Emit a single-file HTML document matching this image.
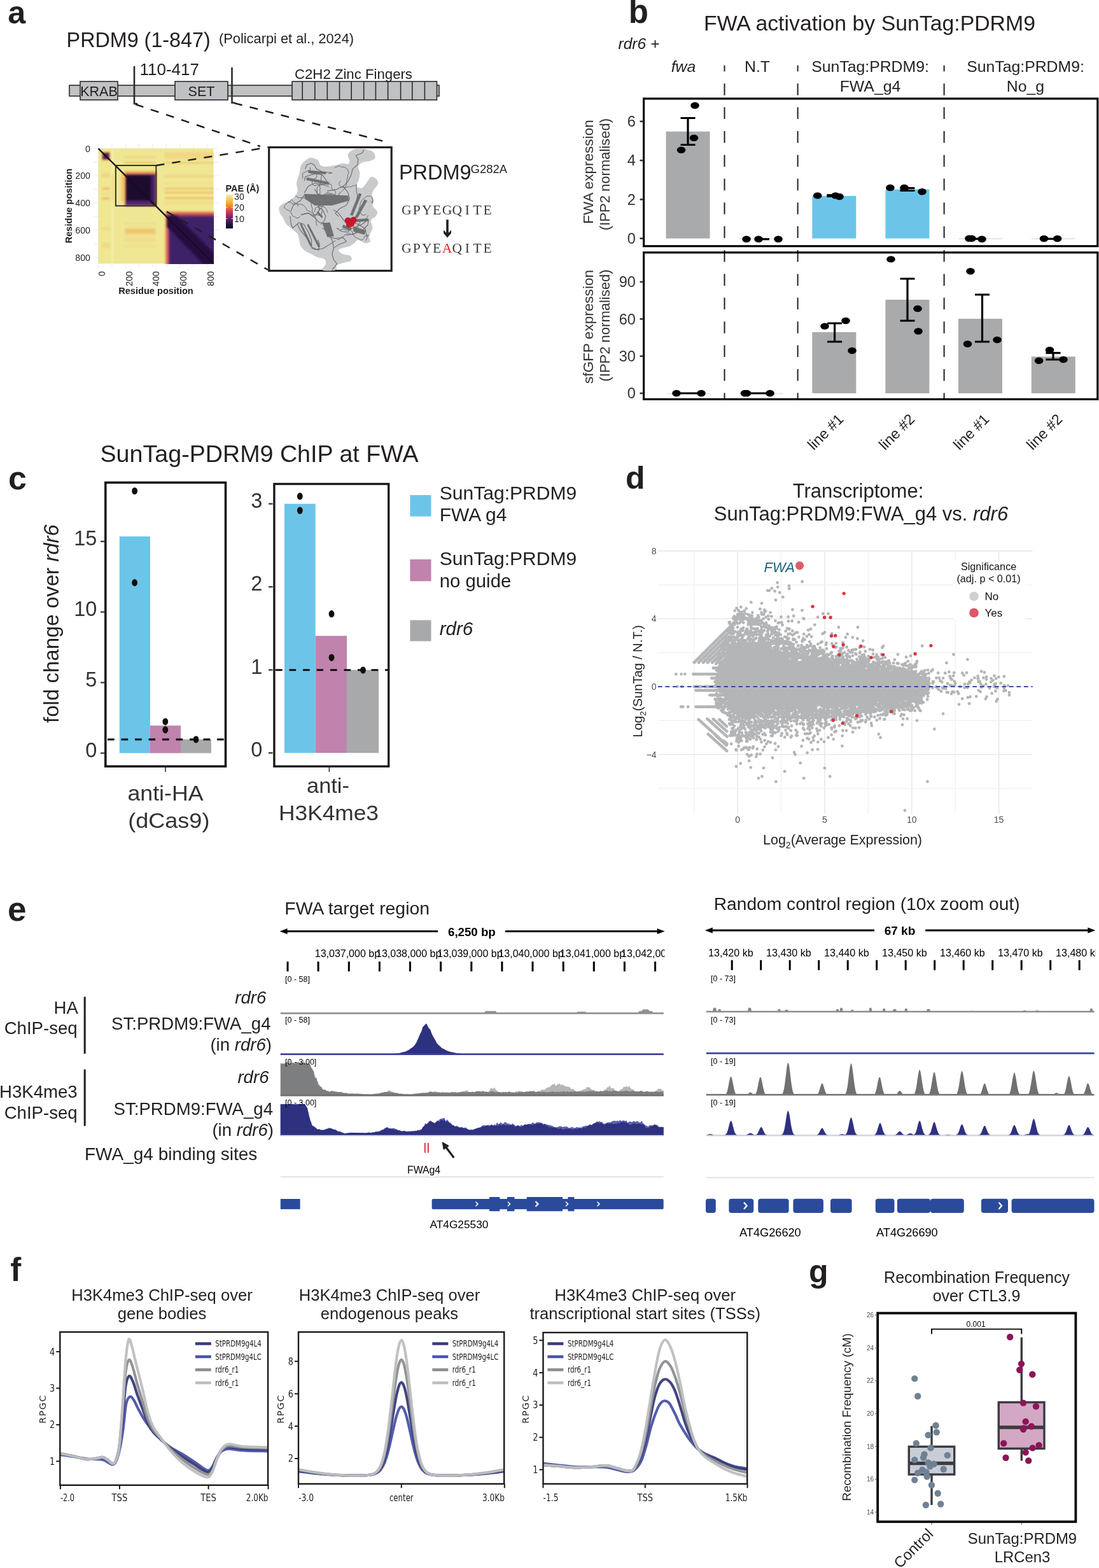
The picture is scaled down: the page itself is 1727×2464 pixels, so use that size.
<!DOCTYPE html>
<html><head><meta charset="utf-8"><title>Figure</title>
<style>
html,body{margin:0;padding:0;background:#fff;}
body{width:1727px;height:2464px;overflow:hidden;}
svg{display:block;font-family:"Liberation Sans",Arial,Helvetica,sans-serif;}
</style></head><body>
<svg width="1727" height="2464" viewBox="0 0 1727 2464">
<rect width="1727" height="2464" fill="#fff"/>
<g fill="#231f20">
<text x="12.3" y="36.8" font-size="50.3" font-weight="bold">a</text>
<text x="987.8" y="36.4" font-size="51" font-weight="bold">b</text>
<text x="13.0" y="768.5" font-size="52" font-weight="bold">c</text>
<text x="983.0" y="768.4" font-size="50" font-weight="bold">d</text>
<text x="12.0" y="1446.5" font-size="53" font-weight="bold">e</text>
<text x="16.2" y="2013.0" font-size="51" font-weight="bold">f</text>
<text x="1271.0" y="2014.5" font-size="50" font-weight="bold">g</text>
<text x="104.6" y="73.6" font-size="32.3">PRDM9 (1-847)</text>
<text x="344.0" y="68.4" font-size="21.8">(Policarpi et al., 2024)</text>
<rect x="109" y="134" width="581" height="17" fill="#bfc1c3" stroke="#2b2b2b" stroke-width="1.6"/>
<rect x="126" y="128" width="59" height="29" fill="#bfc1c3" stroke="#2b2b2b" stroke-width="1.6"/>
<rect x="275" y="128" width="83" height="29" fill="#bfc1c3" stroke="#2b2b2b" stroke-width="1.6"/>
<rect x="459" y="128" width="227.5" height="29" fill="#bfc1c3" stroke="#2b2b2b" stroke-width="1.6"/>
<line x1="475.2" y1="128.0" x2="475.2" y2="157.0" stroke="#2b2b2b" stroke-width="1.6" />
<line x1="494.8" y1="128.0" x2="494.8" y2="157.0" stroke="#2b2b2b" stroke-width="1.6" />
<line x1="514.3" y1="128.0" x2="514.3" y2="157.0" stroke="#2b2b2b" stroke-width="1.6" />
<line x1="533.5" y1="128.0" x2="533.5" y2="157.0" stroke="#2b2b2b" stroke-width="1.6" />
<line x1="552.2" y1="128.0" x2="552.2" y2="157.0" stroke="#2b2b2b" stroke-width="1.6" />
<line x1="571.7" y1="128.0" x2="571.7" y2="157.0" stroke="#2b2b2b" stroke-width="1.6" />
<line x1="590.4" y1="128.0" x2="590.4" y2="157.0" stroke="#2b2b2b" stroke-width="1.6" />
<line x1="609.6" y1="128.0" x2="609.6" y2="157.0" stroke="#2b2b2b" stroke-width="1.6" />
<line x1="629.6" y1="128.0" x2="629.6" y2="157.0" stroke="#2b2b2b" stroke-width="1.6" />
<line x1="647.8" y1="128.0" x2="647.8" y2="157.0" stroke="#2b2b2b" stroke-width="1.6" />
<line x1="667.4" y1="128.0" x2="667.4" y2="157.0" stroke="#2b2b2b" stroke-width="1.6" />
<text x="155.5" y="150.5" font-size="21.5" text-anchor="middle">KRAB</text>
<text x="316.5" y="150.5" font-size="21.5" text-anchor="middle">SET</text>
<text x="463.0" y="124.0" font-size="22.2">C2H2 Zinc Fingers</text>
<text x="219.5" y="117.5" font-size="26">110-417</text>
<path d="M211 104 V163 H216" fill="none" stroke="#2b2b2b" stroke-width="2.6"/>
<path d="M364.5 106 V161.5 H369" fill="none" stroke="#2b2b2b" stroke-width="2.6"/>
<line x1="154.5" y1="226.0" x2="154.5" y2="421.0" stroke="#ebebeb" stroke-width="1" />
<line x1="147.0" y1="233.3" x2="343.0" y2="233.3" stroke="#ebebeb" stroke-width="1" />
<line x1="175.9" y1="226.0" x2="175.9" y2="421.0" stroke="#ebebeb" stroke-width="1" />
<line x1="147.0" y1="254.7" x2="343.0" y2="254.7" stroke="#ebebeb" stroke-width="1" />
<line x1="197.2" y1="226.0" x2="197.2" y2="421.0" stroke="#ebebeb" stroke-width="1" />
<line x1="147.0" y1="276.0" x2="343.0" y2="276.0" stroke="#ebebeb" stroke-width="1" />
<line x1="218.6" y1="226.0" x2="218.6" y2="421.0" stroke="#ebebeb" stroke-width="1" />
<line x1="147.0" y1="297.4" x2="343.0" y2="297.4" stroke="#ebebeb" stroke-width="1" />
<line x1="240.0" y1="226.0" x2="240.0" y2="421.0" stroke="#ebebeb" stroke-width="1" />
<line x1="147.0" y1="318.8" x2="343.0" y2="318.8" stroke="#ebebeb" stroke-width="1" />
<line x1="261.3" y1="226.0" x2="261.3" y2="421.0" stroke="#ebebeb" stroke-width="1" />
<line x1="147.0" y1="340.1" x2="343.0" y2="340.1" stroke="#ebebeb" stroke-width="1" />
<line x1="282.7" y1="226.0" x2="282.7" y2="421.0" stroke="#ebebeb" stroke-width="1" />
<line x1="147.0" y1="361.5" x2="343.0" y2="361.5" stroke="#ebebeb" stroke-width="1" />
<line x1="304.1" y1="226.0" x2="304.1" y2="421.0" stroke="#ebebeb" stroke-width="1" />
<line x1="147.0" y1="382.9" x2="343.0" y2="382.9" stroke="#ebebeb" stroke-width="1" />
<line x1="325.5" y1="226.0" x2="325.5" y2="421.0" stroke="#ebebeb" stroke-width="1" />
<line x1="147.0" y1="404.3" x2="343.0" y2="404.3" stroke="#ebebeb" stroke-width="1" />
<g transform="translate(154.5,233.3) scale(0.21370)">
<defs><linearGradient id="pbL" x1="0" x2="1" y1="0" y2="0"><stop offset="0" stop-color="#f5a040"/><stop offset="0.45" stop-color="#d0506a"/><stop offset="1" stop-color="#3e2068"/></linearGradient><linearGradient id="pbT" x1="0" x2="0" y1="0" y2="0.1"><stop offset="0" stop-color="#f3b04a"/><stop offset="0.5" stop-color="#c84560"/><stop offset="1" stop-color="#3e2068"/></linearGradient><linearGradient id="diagG" x1="0" x2="1" y1="0" y2="1" gradientUnits="objectBoundingBox"><stop offset="0" stop-color="#000"/></linearGradient><filter id="hb" x="-5%" y="-5%" width="110%" height="110%"><feGaussianBlur stdDeviation="7"/></filter></defs>
<rect x="0" y="0" width="847" height="847" fill="#efe794"/>
<rect x="95" y="0" width="20" height="847" fill="#f2eca3"/>
<clipPath id="hmc"><rect x="0" y="0" width="847" height="847"/></clipPath><g clip-path="url(#hmc)"><g filter="url(#hb)">
<rect x="490" y="25" width="420" height="50" fill="#f3cc7a" opacity="0.6"/>
<rect x="490" y="101" width="420" height="7" fill="#f2a84a" opacity="0.8"/>
<rect x="490" y="196" width="420" height="17" fill="#f3cc7a" opacity="0.75"/>
<rect x="490" y="251" width="420" height="11" fill="#f3cc7a" opacity="0.5"/>
<rect x="490" y="290" width="420" height="11" fill="#f2a84a" opacity="0.6"/>
<rect x="490" y="320" width="420" height="12" fill="#f2a84a" opacity="0.7"/>
<rect x="490" y="357" width="420" height="13" fill="#f2a84a" opacity="0.75"/>
<rect x="490" y="390" width="420" height="20" fill="#f3cc7a" opacity="0.45"/>
<rect x="190" y="55" width="232" height="15" fill="#f3cc7a" opacity="0.6"/>
<rect x="190" y="101" width="232" height="8" fill="#f2a84a" opacity="0.85"/>
<rect x="29" y="175" width="53" height="13" fill="#f3cc7a" opacity="0.6"/>
<rect x="29" y="195" width="53" height="10" fill="#f2a84a" opacity="0.6"/>
<rect x="29" y="290" width="53" height="12" fill="#f2a84a" opacity="0.8"/>
<rect x="29" y="330" width="53" height="8" fill="#f3cc7a" opacity="0.6"/>
<rect x="29" y="362" width="53" height="12" fill="#f2a84a" opacity="0.85"/>
<rect x="29" y="580" width="53" height="20" fill="#f3cc7a" opacity="0.5"/>
<rect x="29" y="695" width="53" height="35" fill="#f3cc7a" opacity="0.55"/>
<rect x="102" y="190" width="12" height="200" fill="#f3cc7a" opacity="0.7"/>
<rect x="168" y="185" width="26" height="205" fill="#f2a84a" opacity="0.55"/>
<rect x="195" y="545" width="225" height="10" fill="#f3cc7a" opacity="0.5"/>
<rect x="195" y="590" width="225" height="35" fill="#f2a84a" opacity="0.55"/>
<rect x="195" y="628" width="225" height="12" fill="#f3cc7a" opacity="0.6"/>
<rect x="195" y="660" width="225" height="25" fill="#f3cc7a" opacity="0.45"/>
<rect x="195" y="713" width="225" height="11" fill="#f3cc7a" opacity="0.4"/>
<rect x="26" y="26" width="60" height="60" fill="#f08c3c"/>
<rect x="32" y="32" width="48" height="48" fill="#3c1b5c"/>
<rect x="192" y="168" width="236" height="257" fill="#f3a040"/>
<rect x="198" y="185" width="226" height="236" fill="#7a2a70"/>
<rect x="200" y="195" width="190" height="190" fill="#1a0b2e"/>
<rect x="390" y="198" width="30" height="220" fill="#45206a"/>
<rect x="200" y="385" width="220" height="35" fill="#55236e"/>
<rect x="395" y="395" width="22" height="22" fill="#14081f"/>
<rect x="495" y="462" width="420" height="450" fill="url(#pbT)"/>
<rect x="492" y="495" width="45" height="420" fill="url(#pbL)"/>
<rect x="520" y="505" width="400" height="400" fill="#3e2068"/>
</g></g>
<path d="M505 495 L575 495 L900 820 L900 900 L820 900 L505 575 Z" fill="#26113f" filter="url(#hb)" clip-path="url(#hmc)"/>
<path d="M0 0 L847 847" stroke="#1a0b22" stroke-width="11"/>
<rect x="128" y="125" width="297" height="297" fill="none" stroke="#2b2b2b" stroke-width="9"/>
</g>
<text x="142.0" y="238.5" font-size="14.2" text-anchor="end">0</text>
<text x="0" y="0" font-size="14.2" text-anchor="end" transform="translate(164.8,426) rotate(-90)">0</text>
<text x="142.0" y="281.2" font-size="14.2" text-anchor="end">200</text>
<text x="0" y="0" font-size="14.2" text-anchor="end" transform="translate(207.5,426) rotate(-90)">200</text>
<text x="142.0" y="324.0" font-size="14.2" text-anchor="end">400</text>
<text x="0" y="0" font-size="14.2" text-anchor="end" transform="translate(250.3,426) rotate(-90)">400</text>
<text x="142.0" y="366.7" font-size="14.2" text-anchor="end">600</text>
<text x="0" y="0" font-size="14.2" text-anchor="end" transform="translate(293.0,426) rotate(-90)">600</text>
<text x="142.0" y="409.5" font-size="14.2" text-anchor="end">800</text>
<text x="0" y="0" font-size="14.2" text-anchor="end" transform="translate(335.8,426) rotate(-90)">800</text>
<text x="0" y="0" font-size="14.6" font-weight="bold" text-anchor="middle" transform="translate(112.5,323.5) rotate(-90)">Residue position</text>
<text x="245.0" y="462.0" font-size="14.6" text-anchor="middle" font-weight="bold">Residue position</text>
<defs><linearGradient id="inf" x1="0" x2="0" y1="0" y2="1"><stop offset="0" stop-color="#f6e89a"/><stop offset="0.15" stop-color="#f7c75a"/><stop offset="0.32" stop-color="#f58a2a"/><stop offset="0.5" stop-color="#c93f58"/><stop offset="0.68" stop-color="#7a1f6e"/><stop offset="0.85" stop-color="#2f1553"/><stop offset="1" stop-color="#07030f"/></linearGradient></defs>
<rect x="355.0" y="306.0" width="11.0" height="53.0" fill="url(#inf)" />
<line x1="355.0" y1="309.0" x2="357.5" y2="309.0" stroke="#fff" stroke-width="0.8" />
<line x1="363.5" y1="309.0" x2="366.0" y2="309.0" stroke="#fff" stroke-width="0.8" />
<line x1="355.0" y1="326.0" x2="357.5" y2="326.0" stroke="#fff" stroke-width="0.8" />
<line x1="363.5" y1="326.0" x2="366.0" y2="326.0" stroke="#fff" stroke-width="0.8" />
<line x1="355.0" y1="343.5" x2="357.5" y2="343.5" stroke="#fff" stroke-width="0.8" />
<line x1="363.5" y1="343.5" x2="366.0" y2="343.5" stroke="#fff" stroke-width="0.8" />
<text x="354.5" y="301.0" font-size="14.5" font-weight="bold">PAE (Å)</text>
<text x="368.0" y="314.0" font-size="14.2">30</text>
<text x="368.0" y="331.0" font-size="14.2">20</text>
<text x="368.0" y="348.5" font-size="14.2">10</text>
<rect x="422.7" y="231.5" width="192.5" height="194" fill="none" stroke="#231f20" stroke-width="3.2"/>
<path d="M438.6 326.2 C439.5 323.7 442.0 321.8 444.9 320.0 C447.8 318.1 452.3 317.9 456.0 315.0 C459.8 312.1 465.6 307.1 467.2 302.6 C468.9 298.0 465.6 292.2 466.0 287.7 C466.4 283.1 468.5 280.0 469.7 275.2 C471.0 270.5 471.4 263.2 473.4 259.1 C475.5 254.9 479.5 252.2 482.2 250.4 C484.8 248.5 486.7 247.7 489.6 247.9 C492.5 248.1 497.1 249.5 499.6 251.6 C502.0 253.7 501.8 258.7 504.5 260.3 C507.2 262.0 511.6 261.8 515.7 261.6 C519.9 261.4 525.4 259.9 529.4 259.1 C533.3 258.2 536.4 256.8 539.3 256.6 C542.2 256.4 545.1 258.5 546.8 257.8 C548.4 257.2 549.3 255.3 549.3 252.9 C549.3 250.4 546.0 245.8 546.8 242.9 C547.6 240.0 550.9 237.0 554.2 235.5 C557.6 233.9 562.5 233.6 566.7 233.6 C570.8 233.6 575.6 234.3 579.1 235.5 C582.6 236.6 586.1 238.2 587.8 240.4 C589.5 242.7 590.1 247.1 589.0 249.1 C588.0 251.2 584.9 251.8 581.6 252.9 C578.3 253.9 572.3 253.9 569.2 255.3 C566.1 256.8 563.6 258.9 562.9 261.6 C562.3 264.3 565.2 268.2 565.4 271.5 C565.6 274.8 565.0 277.9 564.2 281.4 C563.4 285.0 559.6 290.4 560.5 292.6 C561.3 294.9 566.1 296.8 569.2 295.1 C572.3 293.5 576.6 285.6 579.1 282.7 C581.6 279.8 582.0 277.9 584.1 277.7 C586.1 277.5 589.9 279.6 591.5 281.4 C593.2 283.3 594.6 286.2 594.0 288.9 C593.4 291.6 589.5 294.5 587.8 297.6 C586.1 300.7 584.1 304.7 584.1 307.6 C584.1 310.5 587.6 312.5 587.8 315.0 C588.0 317.5 584.5 319.6 585.3 322.5 C586.1 325.4 591.9 329.5 592.8 332.4 C593.6 335.3 591.9 337.6 590.3 339.9 C588.6 342.1 583.7 343.0 582.8 346.1 C582.0 349.2 585.7 354.4 585.3 358.5 C584.9 362.7 581.0 367.4 580.3 370.9 C579.7 374.5 582.6 377.8 581.6 379.6 C580.6 381.5 577.2 382.5 574.1 382.1 C571.0 381.7 565.8 377.2 562.9 377.2 C560.0 377.2 559.0 380.5 556.7 382.1 C554.5 383.8 552.2 385.9 549.3 387.1 C546.4 388.3 542.2 388.6 539.3 389.6 C536.4 390.6 531.9 391.7 531.9 393.3 C531.9 395.0 536.2 398.1 539.3 399.5 C542.4 401.0 548.4 400.4 550.5 402.0 C552.6 403.7 553.6 407.6 551.8 409.5 C549.9 411.3 543.1 412.0 539.3 413.2 C535.6 414.5 531.5 415.1 529.4 416.9 C527.3 418.8 530.6 423.2 526.9 424.4 C523.2 425.6 509.5 426.1 507.0 424.4 C504.5 422.7 511.6 417.4 512.0 414.5 C512.4 411.6 511.6 408.7 509.5 407.0 C507.4 405.3 502.9 405.8 499.6 404.5 C496.2 403.3 493.1 401.4 489.6 399.5 C486.1 397.7 481.3 395.6 478.4 393.3 C475.5 391.0 473.7 389.0 472.2 385.9 C470.8 382.8 470.5 377.8 469.7 374.7 C468.9 371.6 469.3 369.9 467.2 367.2 C465.2 364.5 460.2 361.0 457.3 358.5 C454.4 356.0 451.9 355.0 449.8 352.3 C447.8 349.6 446.5 345.3 444.9 342.4 C443.2 339.5 440.9 337.6 439.9 334.9 C438.9 332.2 437.8 328.7 438.6 326.2Z" fill="#c9cacb"/>
<polyline points="479.7,265.3 482.2,259.1 489.6,256.6 494.6,260.3 497.1,265.3 507.0,270.3 521.9,271.5 517.0,272.7" fill="none" stroke="#6a6b6d" stroke-linecap="round" stroke-linejoin="round" stroke-width="1.1"/>
<polyline points="478.4,283.9 479.7,277.7 487.1,275.2 497.1,272.7 507.0,275.2 514.5,286.4 509.5,290.2 494.6,287.7 484.6,292.6 478.4,302.6" fill="none" stroke="#6a6b6d" stroke-linecap="round" stroke-linejoin="round" stroke-width="1.1"/>
<polyline points="457.3,331.2 461.0,322.5 472.2,315.0 477.2,307.6 489.6,312.5 499.6,317.5 502.0,329.9 494.6,339.9 484.6,334.9 473.4,337.4" fill="none" stroke="#6a6b6d" stroke-linecap="round" stroke-linejoin="round" stroke-width="1.1"/>
<polyline points="456.0,339.9 457.3,352.3 459.8,358.5 469.7,349.8 477.2,352.3 484.6,364.7 489.6,377.2 489.6,388.3 500.8,393.3 502.0,383.4 499.6,377.2" fill="none" stroke="#6a6b6d" stroke-linecap="round" stroke-linejoin="round" stroke-width="1.1"/>
<polyline points="473.4,337.4 484.6,334.9 494.6,342.4 502.0,349.8 512.0,351.1 519.4,359.8 514.5,370.9 525.7,374.7 539.3,373.4 544.3,379.6 531.9,384.6 524.4,389.6" fill="none" stroke="#6a6b6d" stroke-linecap="round" stroke-linejoin="round" stroke-width="1.1"/>
<polyline points="524.4,329.9 531.9,334.9 539.3,344.8 551.8,359.8 569.2,352.3 579.1,344.8 577.9,353.5 569.2,362.2 556.7,367.2 544.3,369.7" fill="none" stroke="#6a6b6d" stroke-linecap="round" stroke-linejoin="round" stroke-width="1.1"/>
<polyline points="539.3,292.6 546.8,285.2 551.8,275.2 554.2,265.3 561.7,259.1 562.9,250.4 559.2,244.2 569.2,240.4 571.6,235.5" fill="none" stroke="#6a6b6d" stroke-linecap="round" stroke-linejoin="round" stroke-width="1.1"/>
<polyline points="507.0,358.5 514.5,364.7 521.9,377.2 524.4,389.6 521.9,399.5 524.4,408.2 529.4,414.5 521.9,424.4" fill="none" stroke="#6a6b6d" stroke-linecap="round" stroke-linejoin="round" stroke-width="1.1"/>
<polyline points="514.5,300.1 529.4,297.6 539.3,292.6 546.8,302.6 549.3,312.5 544.3,322.5 534.4,327.4 526.9,334.9 531.9,339.9" fill="none" stroke="#6a6b6d" stroke-linecap="round" stroke-linejoin="round" stroke-width="1.1"/>
<polyline points="467.2,352.3 472.2,362.2 479.7,370.9 484.6,377.2" fill="none" stroke="#6a6b6d" stroke-linecap="round" stroke-linejoin="round" stroke-width="1.1"/>
<polyline points="494.6,297.6 499.6,305.1 507.0,307.6 514.5,302.6 521.9,305.1" fill="none" stroke="#6a6b6d" stroke-linecap="round" stroke-linejoin="round" stroke-width="1.1"/>
<polyline points="489.6,389.6 494.6,392.1 507.0,390.8 517.0,384.6 526.9,378.4" fill="none" stroke="#6a6b6d" stroke-linecap="round" stroke-linejoin="round" stroke-width="1.1"/>
<polyline points="544.3,352.3 554.2,349.8 562.9,352.3 574.1,359.8 576.6,372.2" fill="none" stroke="#6a6b6d" stroke-linecap="round" stroke-linejoin="round" stroke-width="1.1"/>
<polyline points="529.4,358.5 536.8,363.5 546.8,364.7 551.8,357.3" fill="none" stroke="#6a6b6d" stroke-linecap="round" stroke-linejoin="round" stroke-width="1.1"/>
<polyline points="499.6,325.0 507.0,329.9 512.0,339.9 509.5,347.3 504.5,352.3" fill="none" stroke="#6a6b6d" stroke-linecap="round" stroke-linejoin="round" stroke-width="1.1"/>
<polyline points="534.7,361.6 537.6,360.1 540.8,359.9 543.2,361.9 546.4,361.5 549.5,360.8 552.2,362.6 554.3,365.0 554.2,368.2 556.3,370.7 558.5,373.0 561.4,374.2 564.3,375.6 567.0,377.3 570.1,376.4 572.3,374.1 573.4,371.1 576.3,369.7 579.5,369.8 577.0,371.8 576.3,374.9 575.0,377.8" fill="none" stroke="#6a6b6d" stroke-linecap="round" stroke-linejoin="round" stroke-width="1"/>
<polyline points="475.2,280.2 476.0,277.1 475.1,274.0 476.9,271.4 479.9,270.4 482.4,268.4 485.6,268.8 488.7,269.5 491.4,271.1 494.6,271.1 496.9,273.4 498.2,276.3 496.9,279.3 494.1,280.7 491.9,283.0 490.3,285.8 490.6,289.0 492.8,291.4 496.0,291.5 499.0,290.6 502.2,290.2 503.9,287.5 506.4,285.5" fill="none" stroke="#6a6b6d" stroke-linecap="round" stroke-linejoin="round" stroke-width="1"/>
<polyline points="500.5,314.1 501.8,311.1 502.0,307.9 502.1,304.7 503.3,301.8 502.0,298.8 503.4,296.0 502.2,293.0 502.3,289.8 504.3,287.3 503.7,284.2 504.7,281.1 504.9,278.0 505.6,274.8 503.6,272.3 500.4,272.0 497.6,273.5 494.6,272.5 491.4,273.2 488.3,272.4 486.7,269.7 487.4,266.5 487.3,263.3" fill="none" stroke="#6a6b6d" stroke-linecap="round" stroke-linejoin="round" stroke-width="1"/>
<polyline points="502.6,337.7 500.9,335.0 500.6,331.8 501.9,328.9 504.8,327.4 505.6,324.3 508.3,322.7 509.3,319.7 509.4,316.5 510.1,313.3 512.8,311.6 514.8,309.1 518.0,308.7 521.2,308.6 524.2,307.5 526.6,305.4 527.6,302.3 526.1,299.5 523.2,298.0 521.0,295.7 521.5,292.5 520.0,289.7 516.9,288.8" fill="none" stroke="#6a6b6d" stroke-linecap="round" stroke-linejoin="round" stroke-width="1"/>
<polyline points="578.4,338.7 576.9,341.5 574.9,344.0 571.8,345.0 568.8,346.2 566.1,347.8 565.3,350.9 562.6,352.7 562.2,355.8 561.7,359.0 559.6,361.3 559.3,364.5 557.8,367.3 554.7,368.2 551.5,368.3 548.6,366.7 545.5,367.4 542.5,368.5 540.7,371.1 537.7,372.2 535.3,374.3 533.0,376.6 529.8,376.3" fill="none" stroke="#6a6b6d" stroke-linecap="round" stroke-linejoin="round" stroke-width="1"/>
<polyline points="514.4,333.7 513.9,330.5 512.2,327.8 510.1,325.4 507.0,324.7 503.8,324.7 501.7,322.3 502.2,319.1 503.3,316.1 504.4,313.1 504.6,309.9 502.6,307.4 499.8,305.9 498.1,303.2 498.3,300.0 497.8,296.9 498.9,293.9 501.3,291.8 504.3,290.6 507.5,290.3 510.5,291.5 513.6,292.0 516.4,293.6" fill="none" stroke="#6a6b6d" stroke-linecap="round" stroke-linejoin="round" stroke-width="1"/>
<polyline points="493.7,333.4 495.1,330.6 495.4,327.4 497.9,325.4 500.9,324.1 504.0,323.3 505.3,320.4 506.9,317.6 507.1,314.4 508.3,311.4 509.3,308.4 511.7,306.4 514.6,305.0 517.8,305.4 521.0,304.9 524.2,305.2 526.9,306.8 528.3,309.6 530.5,312.0 530.8,315.2 529.1,317.9 526.6,319.9 523.5,319.3" fill="none" stroke="#6a6b6d" stroke-linecap="round" stroke-linejoin="round" stroke-width="1"/>
<polyline points="574.8,337.0 571.9,338.3 568.7,337.7 566.9,335.0 565.0,332.5 564.1,329.4 564.4,326.2 566.0,323.4 565.8,320.3 567.1,317.4 568.9,314.7 571.3,312.6 573.5,310.2 576.1,308.4 579.2,308.0 582.4,308.4 585.2,310.0 585.2,313.2 585.6,316.4 585.1,319.5 583.2,317.0" fill="none" stroke="#6a6b6d" stroke-linecap="round" stroke-linejoin="round" stroke-width="1"/>
<polyline points="535.7,284.6 533.2,286.6 532.9,289.8 534.6,292.5 537.1,294.5 540.3,294.8 543.2,293.4 544.1,290.4 544.8,287.3 544.8,284.1 545.5,280.9 546.7,277.9 546.3,274.8 548.2,272.2 547.4,269.1 546.0,266.2 543.6,264.1 540.9,262.3 537.7,262.7 534.9,261.3 531.8,260.5 529.1,262.3 526.2,263.5" fill="none" stroke="#6a6b6d" stroke-linecap="round" stroke-linejoin="round" stroke-width="1"/>
<polyline points="471.4,340.0 469.3,342.4 466.1,342.5 463.3,340.9 460.4,339.7 458.5,337.1 457.4,334.1 455.6,331.5 452.6,330.4 449.8,328.9 447.1,327.0 446.7,323.9 448.8,321.4 451.3,319.5 453.2,316.9 456.4,316.2 457.7,313.3 460.0,315.6 461.7,318.3 464.7,319.4 467.4,321.1 468.3,324.2" fill="none" stroke="#6a6b6d" stroke-linecap="round" stroke-linejoin="round" stroke-width="1"/>
<polyline points="505.1,327.5 506.7,330.3 505.7,333.3 505.3,336.5 502.7,338.4 499.6,338.0 496.5,337.1 493.3,337.6 490.9,335.5 488.5,333.4 485.8,331.7 482.7,330.9 481.2,328.1 479.8,325.2 477.3,323.1 474.8,321.2 471.6,321.2 468.5,320.6 465.3,320.2 462.2,321.1 459.1,320.3 456.9,318.0 453.7,318.1" fill="none" stroke="#6a6b6d" stroke-linecap="round" stroke-linejoin="round" stroke-width="1"/>
<polyline points="523.9,310.1 527.1,310.4 530.1,309.3 532.4,307.1 532.9,303.9 535.7,302.3 537.7,299.8 540.1,297.8 542.5,295.6 545.3,294.1 548.4,293.2 551.6,293.6 554.3,292.0 557.5,291.7 560.4,290.4 559.6,293.5 559.9,296.7 560.1,299.9 560.5,303.0 561.6,306.0 561.4,309.2 560.6,312.3" fill="none" stroke="#6a6b6d" stroke-linecap="round" stroke-linejoin="round" stroke-width="1"/>
<polyline points="464.4,307.8 467.1,309.4 469.8,311.2 472.9,310.4 476.0,311.1 479.1,311.4 482.3,312.2 484.9,314.1 487.0,316.5 489.1,318.8 489.2,322.0 489.9,325.1 491.1,328.1 490.4,331.2 491.4,334.2 493.5,336.7 493.8,339.9 496.2,341.9 497.1,345.0 496.8,348.2 496.9,351.4 498.3,354.3" fill="none" stroke="#6a6b6d" stroke-linecap="round" stroke-linejoin="round" stroke-width="1"/>
<polygon points="484.6,267.8 512.0,270.3 512.0,273.4 484.6,271.5" fill="#707173" stroke="#636466" stroke-width="0.6" stroke-linejoin="round"/>
<polygon points="482.2,279.0 517.0,286.4 516.3,290.2 481.5,282.7" fill="#707173" stroke="#636466" stroke-width="0.6" stroke-linejoin="round"/>
<polygon points="478.4,305.1 546.8,307.6 548.0,315.0 521.9,322.5 494.6,322.5 479.7,312.5" fill="#707173" stroke="#636466" stroke-width="0.6" stroke-linejoin="round"/>
<polygon points="499.6,332.4 507.0,339.9 505.8,342.4 498.3,334.9" fill="#707173" stroke="#636466" stroke-width="0.6" stroke-linejoin="round"/>
<polygon points="550.5,337.4 564.2,303.8 567.9,305.1 554.2,338.6" fill="#707173" stroke="#636466" stroke-width="0.6" stroke-linejoin="round"/>
<polygon points="558.0,341.1 572.9,313.8 576.6,315.6 561.7,342.4" fill="#707173" stroke="#636466" stroke-width="0.6" stroke-linejoin="round"/>
<polygon points="473.4,351.1 490.2,385.9 487.7,387.1 471.6,352.3" fill="#707173" stroke="#636466" stroke-width="0.6" stroke-linejoin="round"/>
<polygon points="484.6,352.3 502.7,387.1 500.2,388.3 482.8,353.5" fill="#707173" stroke="#636466" stroke-width="0.6" stroke-linejoin="round"/>
<polygon points="507.0,351.1 518.2,349.8 524.4,370.9 514.5,372.2" fill="#707173" stroke="#636466" stroke-width="0.6" stroke-linejoin="round"/>
<polygon points="555.5,356.0 574.1,362.2 572.9,368.5 555.5,363.5" fill="#707173" stroke="#636466" stroke-width="0.6" stroke-linejoin="round"/>
<polygon points="560.5,344.8 577.9,343.6 577.9,347.3 560.5,348.6" fill="#707173" stroke="#636466" stroke-width="0.6" stroke-linejoin="round"/>
<polygon points="539.3,353.5 551.8,358.5 550.5,362.2 538.1,357.3" fill="#707173" stroke="#636466" stroke-width="0.6" stroke-linejoin="round"/>
<circle cx="546.8" cy="346.7" r="5.2" fill="#c4192c"/>
<circle cx="555.5" cy="345.8" r="5.2" fill="#c4192c"/>
<circle cx="551.8" cy="351.1" r="5.4" fill="#c4192c"/>
<circle cx="548.0" cy="353.5" r="4" fill="#c4192c"/>
<path d="M213 164 L409 230" stroke="#231f20" stroke-width="2.5" stroke-dasharray="13 12.3" fill="none"/>
<path d="M368 162 L601 221.5" stroke="#231f20" stroke-width="2.5" stroke-dasharray="13 12.3" fill="none"/>
<path d="M245.5 260 L421 231.5" stroke="#231f20" stroke-width="2.5" stroke-dasharray="13 12.3" fill="none"/>
<path d="M262 332.5 L421 424" stroke="#231f20" stroke-width="2.5" stroke-dasharray="13 12.3" fill="none"/>
<text x="626.9" y="281.5" font-size="32.5">PRDM9</text>
<text x="739.5" y="271.6" font-size="18.5">G282A</text>
<text x="638.9" y="336.5" font-size="21.6" text-anchor="middle" fill="#3a3a3a" font-family="&quot;Liberation Serif&quot;, serif">G</text>
<text x="654.8" y="336.5" font-size="21.6" text-anchor="middle" fill="#3a3a3a" font-family="&quot;Liberation Serif&quot;, serif">P</text>
<text x="670.7" y="336.5" font-size="21.6" text-anchor="middle" fill="#3a3a3a" font-family="&quot;Liberation Serif&quot;, serif">Y</text>
<text x="686.6" y="336.5" font-size="21.6" text-anchor="middle" fill="#3a3a3a" font-family="&quot;Liberation Serif&quot;, serif">E</text>
<text x="702.5" y="336.5" font-size="21.6" text-anchor="middle" fill="#3a3a3a" font-family="&quot;Liberation Serif&quot;, serif">G</text>
<text x="718.4" y="336.5" font-size="21.6" text-anchor="middle" fill="#3a3a3a" font-family="&quot;Liberation Serif&quot;, serif">Q</text>
<text x="734.3" y="336.5" font-size="21.6" text-anchor="middle" fill="#3a3a3a" font-family="&quot;Liberation Serif&quot;, serif">I</text>
<text x="750.2" y="336.5" font-size="21.6" text-anchor="middle" fill="#3a3a3a" font-family="&quot;Liberation Serif&quot;, serif">T</text>
<text x="766.1" y="336.5" font-size="21.6" text-anchor="middle" fill="#3a3a3a" font-family="&quot;Liberation Serif&quot;, serif">E</text>
<text x="638.9" y="396.5" font-size="21.6" text-anchor="middle" fill="#3a3a3a" font-family="&quot;Liberation Serif&quot;, serif">G</text>
<text x="654.8" y="396.5" font-size="21.6" text-anchor="middle" fill="#3a3a3a" font-family="&quot;Liberation Serif&quot;, serif">P</text>
<text x="670.7" y="396.5" font-size="21.6" text-anchor="middle" fill="#3a3a3a" font-family="&quot;Liberation Serif&quot;, serif">Y</text>
<text x="686.6" y="396.5" font-size="21.6" text-anchor="middle" fill="#3a3a3a" font-family="&quot;Liberation Serif&quot;, serif">E</text>
<text x="702.5" y="396.5" font-size="21.6" text-anchor="middle" fill="#e0202a" font-family="&quot;Liberation Serif&quot;, serif">A</text>
<text x="718.4" y="396.5" font-size="21.6" text-anchor="middle" fill="#3a3a3a" font-family="&quot;Liberation Serif&quot;, serif">Q</text>
<text x="734.3" y="396.5" font-size="21.6" text-anchor="middle" fill="#3a3a3a" font-family="&quot;Liberation Serif&quot;, serif">I</text>
<text x="750.2" y="396.5" font-size="21.6" text-anchor="middle" fill="#3a3a3a" font-family="&quot;Liberation Serif&quot;, serif">T</text>
<text x="766.1" y="396.5" font-size="21.6" text-anchor="middle" fill="#3a3a3a" font-family="&quot;Liberation Serif&quot;, serif">E</text>
<line x1="703.0" y1="345.2" x2="703.0" y2="370.0" stroke="#231f20" stroke-width="3.6" />
<path d="M697 361.5 L703 367.5 L709 361.5 L709 366.5 L703 373.6 L697 366.5 Z" fill="#231f20"/>
<text x="1366.5" y="47.5" font-size="33.8" text-anchor="middle">FWA activation by SunTag:PDRM9</text>
<text x="971.5" y="76.5" font-size="24.6" font-style="italic">rdr6 +</text>
<text x="1074.0" y="113.0" font-size="24.8" text-anchor="middle" font-style="italic">fwa</text>
<text x="1190.0" y="113.0" font-size="24.8" text-anchor="middle">N.T</text>
<text x="1367.5" y="113.0" font-size="24.8" text-anchor="middle">SunTag:PRDM9:</text>
<text x="1367.5" y="144.0" font-size="24.8" text-anchor="middle">FWA_g4</text>
<text x="1611.5" y="113.0" font-size="24.8" text-anchor="middle">SunTag:PRDM9:</text>
<text x="1611.5" y="144.0" font-size="24.8" text-anchor="middle">No_g</text>
<line x1="1138.5" y1="102.8" x2="1138.5" y2="627" stroke="#231f20" stroke-width="2" stroke-dasharray="18.5 18.9" stroke-dashoffset="9"/>
<line x1="1253.6" y1="102.8" x2="1253.6" y2="627" stroke="#231f20" stroke-width="2" stroke-dasharray="18.5 18.9" stroke-dashoffset="9"/>
<line x1="1483.6" y1="102.8" x2="1483.6" y2="627" stroke="#231f20" stroke-width="2" stroke-dasharray="18.5 18.9" stroke-dashoffset="9"/>
<rect x="1046.5" y="206.7" width="69.0" height="168.0" fill="#a8aaac" />
<line x1="1161.5" y1="375.2" x2="1230.5" y2="375.2" stroke="#d9d9d9" stroke-width="1.2" />
<rect x="1276.3" y="307.9" width="69.0" height="66.8" fill="#6cc5e9" />
<rect x="1391.4" y="297.5" width="69.0" height="77.2" fill="#6cc5e9" />
<line x1="1506.0" y1="375.2" x2="1575.0" y2="375.2" stroke="#d9d9d9" stroke-width="1.2" />
<line x1="1620.8" y1="375.2" x2="1689.8" y2="375.2" stroke="#d9d9d9" stroke-width="1.2" />
<path d="M1069.5 185.5 H1092.5 M1081.0 185.5 V227.5 M1069.5 227.5 H1092.5" stroke="#000" stroke-width="3.2" fill="none"/>
<path d="M1299.3 306.5 H1322.3 M1310.8 306.5 V308.5 M1299.3 308.5 H1322.3" stroke="#000" stroke-width="3.2" fill="none"/>
<path d="M1414.4 295.5 H1437.4 M1425.9 295.5 V299.5 M1414.4 299.5 H1437.4" stroke="#000" stroke-width="3.2" fill="none"/>
<path d="M1194 375.8 H1209" stroke="#000" stroke-width="3.2"/>
<path d="M1523 375.3 H1541" stroke="#000" stroke-width="3.2"/>
<path d="M1642 375.3 H1660" stroke="#000" stroke-width="3.2"/>
<ellipse cx="1092" cy="165.8" rx="6.8" ry="5.2" fill="#000"/>
<ellipse cx="1090.5" cy="216.8" rx="6.8" ry="5.2" fill="#000"/>
<ellipse cx="1070.5" cy="235.8" rx="6.8" ry="5.2" fill="#000"/>
<ellipse cx="1173" cy="375.8" rx="6.8" ry="5.2" fill="#000"/>
<ellipse cx="1192" cy="375.8" rx="6.8" ry="5.2" fill="#000"/>
<ellipse cx="1223" cy="375.8" rx="6.8" ry="5.2" fill="#000"/>
<ellipse cx="1284.7" cy="307.4" rx="6.8" ry="5.2" fill="#000"/>
<ellipse cx="1312.9" cy="307.4" rx="6.8" ry="5.2" fill="#000"/>
<ellipse cx="1319.1" cy="309" rx="6.8" ry="5.2" fill="#000"/>
<ellipse cx="1398.9" cy="295" rx="6.8" ry="5.2" fill="#000"/>
<ellipse cx="1421" cy="295" rx="6.8" ry="5.2" fill="#000"/>
<ellipse cx="1449" cy="301.2" rx="6.8" ry="5.2" fill="#000"/>
<ellipse cx="1523" cy="374.7" rx="6.8" ry="5.2" fill="#000"/>
<ellipse cx="1527" cy="374.7" rx="6.8" ry="5.2" fill="#000"/>
<ellipse cx="1543" cy="375.8" rx="6.8" ry="5.2" fill="#000"/>
<ellipse cx="1640.5" cy="375" rx="6.8" ry="5.2" fill="#000"/>
<ellipse cx="1661.6" cy="375" rx="6.8" ry="5.2" fill="#000"/>
<rect x="1011.6" y="155" width="713.2" height="231.8" fill="none" stroke="#000" stroke-width="3.2"/>
<line x1="1005.5" y1="374.7" x2="1011.0" y2="374.7" stroke="#333" stroke-width="2.6" />
<text x="998.8" y="383.0" font-size="23.5" text-anchor="end" fill="#333">0</text>
<line x1="1005.5" y1="313.4" x2="1011.0" y2="313.4" stroke="#333" stroke-width="2.6" />
<text x="998.8" y="321.7" font-size="23.5" text-anchor="end" fill="#333">2</text>
<line x1="1005.5" y1="252.1" x2="1011.0" y2="252.1" stroke="#333" stroke-width="2.6" />
<text x="998.8" y="260.4" font-size="23.5" text-anchor="end" fill="#333">4</text>
<line x1="1005.5" y1="190.8" x2="1011.0" y2="190.8" stroke="#333" stroke-width="2.6" />
<text x="998.8" y="199.1" font-size="23.5" text-anchor="end" fill="#333">6</text>
<text x="0" y="0" font-size="22.6" text-anchor="middle" fill="#333" transform="translate(931.5,270) rotate(-90)">FWA expression</text>
<text x="0" y="0" font-size="22" text-anchor="middle" fill="#333" transform="translate(957.5,274) rotate(-90)">(IPP2 normalised)</text>
<line x1="1046.5" y1="618.5" x2="1115.5" y2="618.5" stroke="#d9d9d9" stroke-width="1.2" />
<line x1="1161.5" y1="618.5" x2="1230.5" y2="618.5" stroke="#d9d9d9" stroke-width="1.2" />
<rect x="1276.3" y="521.9" width="69.0" height="96.1" fill="#a8aaac" />
<rect x="1391.4" y="471.0" width="69.0" height="147.0" fill="#a8aaac" />
<rect x="1506.0" y="500.9" width="69.0" height="117.1" fill="#a8aaac" />
<rect x="1620.8" y="560.4" width="69.0" height="57.6" fill="#a8aaac" />
<path d="M1300.1 508.0 H1323.1 M1311.6 508.0 V537.0 M1300.1 537.0 H1323.1" stroke="#000" stroke-width="3.2" fill="none"/>
<path d="M1414.5 438.0 H1437.5 M1426.0 438.0 V504.0 M1414.5 504.0 H1437.5" stroke="#000" stroke-width="3.2" fill="none"/>
<path d="M1532.0 463.0 H1555.0 M1543.5 463.0 V537.0 M1532.0 537.0 H1555.0" stroke="#000" stroke-width="3.2" fill="none"/>
<path d="M1643.5 554.7 H1666.5 M1655.0 554.7 V565.0 M1643.5 565.0 H1666.5" stroke="#000" stroke-width="3.2" fill="none"/>
<path d="M1063 618 H1102" stroke="#000" stroke-width="3.2"/>
<path d="M1170.5 618 H1210" stroke="#000" stroke-width="3.2"/>
<ellipse cx="1063" cy="618" rx="6.8" ry="5.2" fill="#000"/>
<ellipse cx="1102" cy="618" rx="6.8" ry="5.2" fill="#000"/>
<ellipse cx="1170.5" cy="618" rx="6.8" ry="5.2" fill="#000"/>
<ellipse cx="1173.5" cy="618" rx="6.8" ry="5.2" fill="#000"/>
<ellipse cx="1210" cy="618" rx="6.8" ry="5.2" fill="#000"/>
<ellipse cx="1296" cy="512.6" rx="6.8" ry="5.2" fill="#000"/>
<ellipse cx="1329" cy="504" rx="6.8" ry="5.2" fill="#000"/>
<ellipse cx="1339" cy="551" rx="6.8" ry="5.2" fill="#000"/>
<ellipse cx="1400" cy="407.4" rx="6.8" ry="5.2" fill="#000"/>
<ellipse cx="1442" cy="485" rx="6.8" ry="5.2" fill="#000"/>
<ellipse cx="1443" cy="520.5" rx="6.8" ry="5.2" fill="#000"/>
<ellipse cx="1525" cy="426.3" rx="6.8" ry="5.2" fill="#000"/>
<ellipse cx="1520.5" cy="540.5" rx="6.8" ry="5.2" fill="#000"/>
<ellipse cx="1567" cy="534" rx="6.8" ry="5.2" fill="#000"/>
<ellipse cx="1649.5" cy="550" rx="6.8" ry="5.2" fill="#000"/>
<ellipse cx="1632.6" cy="566.8" rx="6.8" ry="5.2" fill="#000"/>
<ellipse cx="1671" cy="565" rx="6.8" ry="5.2" fill="#000"/>
<rect x="1011.6" y="396.8" width="713.2" height="230.6" fill="none" stroke="#000" stroke-width="3.2"/>
<line x1="1005.5" y1="618.0" x2="1011.0" y2="618.0" stroke="#333" stroke-width="2.6" />
<text x="998.8" y="626.3" font-size="23.5" text-anchor="end" fill="#333">0</text>
<line x1="1005.5" y1="559.7" x2="1011.0" y2="559.7" stroke="#333" stroke-width="2.6" />
<text x="998.8" y="568.0" font-size="23.5" text-anchor="end" fill="#333">30</text>
<line x1="1005.5" y1="501.3" x2="1011.0" y2="501.3" stroke="#333" stroke-width="2.6" />
<text x="998.8" y="509.6" font-size="23.5" text-anchor="end" fill="#333">60</text>
<line x1="1005.5" y1="443.0" x2="1011.0" y2="443.0" stroke="#333" stroke-width="2.6" />
<text x="998.8" y="451.3" font-size="23.5" text-anchor="end" fill="#333">90</text>
<text x="0" y="0" font-size="22.6" text-anchor="middle" fill="#333" transform="translate(931.5,513.5) rotate(-90)">sfGFP expression</text>
<text x="0" y="0" font-size="22" text-anchor="middle" fill="#333" transform="translate(957.5,511.5) rotate(-90)">(IPP2 normalised)</text>
<text x="0" y="0" font-size="23.2" text-anchor="end" fill="#231f20" transform="translate(1327,660) rotate(-45)">line #1</text>
<text x="0" y="0" font-size="23.2" text-anchor="end" fill="#231f20" transform="translate(1439,660) rotate(-45)">line #2</text>
<text x="0" y="0" font-size="23.2" text-anchor="end" fill="#231f20" transform="translate(1556,660) rotate(-45)">line #1</text>
<text x="0" y="0" font-size="23.2" text-anchor="end" fill="#231f20" transform="translate(1671,660) rotate(-45)">line #2</text>
<text x="407.5" y="725.5" font-size="36.5" textLength="500" lengthAdjust="spacingAndGlyphs" text-anchor="middle">SunTag-PDRM9 ChIP at FWA</text>
<rect x="187.8" y="843.0" width="48.1" height="340.5" fill="#6cc5e9" />
<rect x="235.9" y="1140.2" width="48.1" height="43.3" fill="#c083ad" />
<rect x="284.0" y="1161.8" width="47.9" height="21.7" fill="#a7a9ab" />
<line x1="167" y1="1162" x2="354" y2="1162" stroke="#000" stroke-width="2.8" stroke-dasharray="10.7 10.8" stroke-dashoffset="-2"/>
<ellipse cx="211.6" cy="771.5" rx="4.4" ry="5.6" fill="#120d05"/>
<ellipse cx="211.6" cy="915.6" rx="4.4" ry="5.6" fill="#120d05"/>
<ellipse cx="259.8" cy="1134" rx="4.4" ry="5.6" fill="#120d05"/>
<ellipse cx="259.8" cy="1146.8" rx="4.4" ry="5.6" fill="#120d05"/>
<ellipse cx="308" cy="1162" rx="4.4" ry="5.6" fill="#120d05"/>
<rect x="165.8" y="758.3" width="188.7" height="446" fill="none" stroke="#000" stroke-width="3.4"/>
<line x1="158.0" y1="1183.5" x2="164.5" y2="1183.5" stroke="#333" stroke-width="2.2" />
<text x="152.3" y="1189.7" font-size="32.5" text-anchor="end" fill="#333">0</text>
<line x1="158.0" y1="1072.6" x2="164.5" y2="1072.6" stroke="#333" stroke-width="2.2" />
<text x="152.3" y="1078.8" font-size="32.5" text-anchor="end" fill="#333">5</text>
<line x1="158.0" y1="961.7" x2="164.5" y2="961.7" stroke="#333" stroke-width="2.2" />
<text x="152.3" y="967.9" font-size="32.5" text-anchor="end" fill="#333">10</text>
<line x1="158.0" y1="850.8" x2="164.5" y2="850.8" stroke="#333" stroke-width="2.2" />
<text x="152.3" y="857.0" font-size="32.5" text-anchor="end" fill="#333">15</text>
<line x1="260.0" y1="1206.0" x2="260.0" y2="1213.0" stroke="#333" stroke-width="1.6" />
<text x="260.0" y="1257.5" font-size="33" textLength="119" lengthAdjust="spacingAndGlyphs" text-anchor="middle" fill="#333">anti-HA</text>
<text x="265.3" y="1300.5" font-size="33" textLength="128.2" lengthAdjust="spacingAndGlyphs" text-anchor="middle" fill="#333">(dCas9)</text>
<rect x="447.0" y="791.7" width="48.7" height="391.5" fill="#6cc5e9" />
<rect x="495.7" y="999.2" width="49.3" height="184.0" fill="#c083ad" />
<rect x="545.0" y="1052.7" width="50.2" height="130.5" fill="#a7a9ab" />
<line x1="431" y1="1052.8" x2="611" y2="1052.8" stroke="#000" stroke-width="2.8" stroke-dasharray="10.7 10.8" stroke-dashoffset="-2"/>
<ellipse cx="471.3" cy="779.8" rx="4.4" ry="5.6" fill="#120d05"/>
<ellipse cx="471.3" cy="802.2" rx="4.4" ry="5.6" fill="#120d05"/>
<ellipse cx="521" cy="964.7" rx="4.4" ry="5.6" fill="#120d05"/>
<ellipse cx="521" cy="1033.3" rx="4.4" ry="5.6" fill="#120d05"/>
<ellipse cx="570.5" cy="1053" rx="4.4" ry="5.6" fill="#120d05"/>
<rect x="430.9" y="760.5" width="179.8" height="443.8" fill="none" stroke="#1a1a1a" stroke-width="3.4"/>
<line x1="422.0" y1="1183.2" x2="428.5" y2="1183.2" stroke="#333" stroke-width="2.2" />
<text x="412.3" y="1189.4" font-size="32.5" text-anchor="end" fill="#333">0</text>
<line x1="422.0" y1="1052.7" x2="428.5" y2="1052.7" stroke="#333" stroke-width="2.2" />
<text x="412.3" y="1058.9" font-size="32.5" text-anchor="end" fill="#333">1</text>
<line x1="422.0" y1="922.2" x2="428.5" y2="922.2" stroke="#333" stroke-width="2.2" />
<text x="412.3" y="928.4" font-size="32.5" text-anchor="end" fill="#333">2</text>
<line x1="422.0" y1="791.7" x2="428.5" y2="791.7" stroke="#333" stroke-width="2.2" />
<text x="412.3" y="797.9" font-size="32.5" text-anchor="end" fill="#333">3</text>
<line x1="517.4" y1="1206.0" x2="517.4" y2="1213.0" stroke="#333" stroke-width="1.6" />
<text x="515.5" y="1246.0" font-size="33" textLength="67" lengthAdjust="spacingAndGlyphs" text-anchor="middle" fill="#333">anti-</text>
<text x="516.5" y="1289.0" font-size="33" textLength="157" lengthAdjust="spacingAndGlyphs" text-anchor="middle" fill="#333">H3K4me3</text>
<text x="0" y="0" font-size="33" text-anchor="middle" fill="#231f20" transform="translate(91.5,980) rotate(-90)">fold change over <tspan font-style="italic">rdr6</tspan></text>
<rect x="644.4" y="778.0" width="33.1" height="33.5" fill="#6cc5e9" />
<rect x="644.4" y="879.0" width="33.1" height="34.3" fill="#c083ad" />
<rect x="644.4" y="974.5" width="33.1" height="33.1" fill="#a7a9ab" />
<text x="690.7" y="784.6" font-size="28.7" textLength="215.6" lengthAdjust="spacingAndGlyphs">SunTag:PRDM9</text>
<text x="690.7" y="819.0" font-size="28.7" textLength="105.8" lengthAdjust="spacingAndGlyphs">FWA g4</text>
<text x="690.7" y="887.5" font-size="28.7" textLength="215.6" lengthAdjust="spacingAndGlyphs">SunTag:PRDM9</text>
<text x="690.7" y="923.3" font-size="28.7" textLength="112.6" lengthAdjust="spacingAndGlyphs">no guide</text>
<text x="690.7" y="997.6" font-size="28.7" textLength="52.6" lengthAdjust="spacingAndGlyphs" font-style="italic">rdr6</text>
<text x="1348.5" y="782.0" font-size="31" text-anchor="middle">Transcriptome:</text>
<text x="1353.0" y="818.2" font-size="31" text-anchor="middle">SunTag:PRDM9:FWA_g4 vs. <tspan font-style="italic">rdr6</tspan></text>
<line x1="1090.8" y1="865.0" x2="1090.8" y2="1279.0" stroke="#f0f0f0" stroke-width="1.2" />
<line x1="1227.6" y1="865.0" x2="1227.6" y2="1279.0" stroke="#f0f0f0" stroke-width="1.2" />
<line x1="1364.4" y1="865.0" x2="1364.4" y2="1279.0" stroke="#f0f0f0" stroke-width="1.2" />
<line x1="1501.2" y1="865.0" x2="1501.2" y2="1279.0" stroke="#f0f0f0" stroke-width="1.2" />
<line x1="1159.2" y1="865.0" x2="1159.2" y2="1279.0" stroke="#e6e6e6" stroke-width="1.4" />
<line x1="1296.0" y1="865.0" x2="1296.0" y2="1279.0" stroke="#e6e6e6" stroke-width="1.4" />
<line x1="1432.8" y1="865.0" x2="1432.8" y2="1279.0" stroke="#e6e6e6" stroke-width="1.4" />
<line x1="1569.6" y1="865.0" x2="1569.6" y2="1279.0" stroke="#e6e6e6" stroke-width="1.4" />
<line x1="1034.0" y1="919.1" x2="1622.6" y2="919.1" stroke="#f0f0f0" stroke-width="1.2" />
<line x1="1034.0" y1="1025.7" x2="1622.6" y2="1025.7" stroke="#f0f0f0" stroke-width="1.2" />
<line x1="1034.0" y1="1132.3" x2="1622.6" y2="1132.3" stroke="#f0f0f0" stroke-width="1.2" />
<line x1="1034.0" y1="1238.9" x2="1622.6" y2="1238.9" stroke="#f0f0f0" stroke-width="1.2" />
<line x1="1034.0" y1="865.8" x2="1622.6" y2="865.8" stroke="#e6e6e6" stroke-width="1.4" />
<line x1="1034.0" y1="972.4" x2="1622.6" y2="972.4" stroke="#e6e6e6" stroke-width="1.4" />
<line x1="1034.0" y1="1079.0" x2="1622.6" y2="1079.0" stroke="#e6e6e6" stroke-width="1.4" />
<line x1="1034.0" y1="1185.6" x2="1622.6" y2="1185.6" stroke="#e6e6e6" stroke-width="1.4" />
<text x="1159.2" y="1292.5" font-size="14" text-anchor="middle" fill="#4d4d4d">0</text>
<text x="1296.0" y="1292.5" font-size="14" text-anchor="middle" fill="#4d4d4d">5</text>
<text x="1432.8" y="1292.5" font-size="14" text-anchor="middle" fill="#4d4d4d">10</text>
<text x="1569.6" y="1292.5" font-size="14" text-anchor="middle" fill="#4d4d4d">15</text>
<text x="1031.5" y="870.8" font-size="14" text-anchor="end" fill="#4d4d4d">8</text>
<text x="1031.5" y="977.4" font-size="14" text-anchor="end" fill="#4d4d4d">4</text>
<text x="1031.5" y="1084.0" font-size="14" text-anchor="end" fill="#4d4d4d">0</text>
<text x="1031.5" y="1190.6" font-size="14" text-anchor="end" fill="#4d4d4d">−4</text>
<text x="1324.0" y="1326.8" font-size="21.5" text-anchor="middle">Log<tspan font-size="14" dy="6">2</tspan><tspan dy="-6">(Average Expression)</tspan></text>
<text x="0" y="0" font-size="20.3" text-anchor="middle" transform="translate(1008.5,1070.5) rotate(-90)">Log<tspan font-size="13.5" dy="6">2</tspan><tspan dy="-6">(SunTag / N.T.)</tspan></text>
<path d="M1125 1071.5 L1134.6 1059.7 L1142.8 1042 L1151 1017.5 L1159.2 1011.7 L1172.9 1011.7 L1186.6 1015.8 L1200.2 1018.3 L1213.9 1024.1 L1227.6 1034 L1241.3 1038.1 L1268.6 1043.9 L1296 1048.1 L1350.7 1054.7 L1405.4 1060.5 L1432.8 1064.6 L1449.2 1069.5 L1460.2 1073.3 L1460.2 1077.8 L1449.2 1085.2 L1432.8 1091 L1405.4 1096 L1350.7 1100.9 L1296 1103.7 L1268.6 1105.4 L1241.3 1106.7 L1227.6 1108.4 L1213.9 1111.7 L1200.2 1115.8 L1186.6 1119.9 L1172.9 1123.2 L1159.2 1121.6 L1151 1113.3 L1142.8 1095.1 L1134.6 1084 L1125 1075.7Z" fill="#b4b5b7" stroke="#b4b5b7" stroke-width="4" stroke-linejoin="round"/>
<path d="M1276.6 1121.8h0M1281.1 1112.7h0M1186.9 1133.3h0M1390.8 1057.6h0M1155.4 1132.8h0M1139.0 1120.1h0M1344.2 1102.1h0M1130.0 1079.2h0M1188.8 1016.1h0M1280.5 1032.7h0M1299.0 1109.6h0M1347.0 1052.7h0M1459.4 1080.5h0M1362.2 1054.8h0M1221.9 1012.3h0M1259.2 1110.2h0M1446.1 1086.3h0M1195.3 1125.3h0M1453.6 1071.0h0M1336.0 1103.8h0M1154.2 981.4h0M1379.1 1056.6h0M1158.9 985.6h0M1184.6 1128.3h0M1188.9 1120.3h0M1340.7 1050.4h0M1196.3 984.8h0M1394.3 1052.0h0M1195.6 990.7h0M1340.1 1041.2h0M1196.5 994.9h0M1235.3 1036.0h0M1155.2 1120.4h0M1326.5 1048.0h0M1446.5 1067.5h0M1415.4 1061.6h0M1429.5 1092.8h0M1188.6 1144.7h0M1190.9 1141.2h0M1327.3 1051.5h0M1138.0 1091.7h0M1361.1 1047.7h0M1324.9 1050.7h0M1366.4 1055.3h0M1312.5 1111.1h0M1218.9 1112.2h0M1130.6 1053.9h0M1145.3 1027.0h0M1316.8 1047.8h0M1423.6 1098.6h0M1356.7 1101.1h0M1136.8 1015.4h0M1359.9 1100.1h0M1338.2 1045.6h0M1231.9 1108.2h0M1308.0 1118.4h0M1372.0 1109.7h0M1431.7 1061.3h0M1426.9 1094.9h0M1390.0 1103.3h0M1334.5 1047.3h0M1329.1 1045.6h0M1457.9 1081.4h0M1255.2 1114.4h0M1272.6 1105.5h0M1376.4 1053.0h0M1286.2 1037.2h0M1291.7 1120.3h0M1210.7 1018.2h0M1352.3 1054.2h0M1428.6 1094.8h0M1423.9 1059.9h0M1191.5 992.0h0M1431.4 1093.6h0M1320.4 1050.4h0M1291.4 1118.3h0M1363.4 1101.8h0M1181.7 1009.8h0M1196.8 1001.5h0M1290.5 1035.0h0M1454.1 1071.2h0M1135.6 1085.4h0M1362.5 1102.3h0M1390.3 1058.5h0M1277.4 1032.3h0M1204.6 1019.9h0M1335.9 1046.8h0M1344.5 1117.0h0M1354.4 1051.6h0M1184.9 1004.6h0M1364.4 1054.8h0M1240.9 1113.9h0M1330.9 1105.8h0M1390.4 1097.6h0M1437.6 1089.7h0M1277.0 1121.3h0M1251.3 1122.5h0M1392.0 1101.4h0M1343.3 1046.5h0M1399.3 1104.8h0M1196.5 1142.6h0M1452.6 1086.9h0M1232.4 1124.1h0M1241.8 1032.4h0M1309.4 1108.8h0M1134.5 1084.4h0M1393.1 1057.6h0M1389.1 1058.3h0M1298.1 1117.5h0M1356.0 1105.7h0M1443.1 1067.4h0M1301.5 1039.5h0M1339.1 1114.5h0M1312.7 1047.0h0M1408.3 1096.5h0M1410.1 1099.8h0M1317.0 1045.4h0M1293.6 1103.9h0M1449.9 1086.3h0M1393.5 1101.7h0M1356.6 1051.1h0M1263.7 1122.9h0M1215.2 1024.0h0M1270.4 1121.7h0M1284.7 1045.2h0M1332.1 1102.5h0M1386.2 1057.7h0M1201.2 1119.7h0M1244.1 1107.1h0M1370.0 1053.2h0M1209.0 1010.5h0M1271.4 1040.0h0M1302.4 1047.6h0M1336.6 1107.9h0M1410.3 1105.3h0M1203.0 1133.1h0M1427.5 1062.8h0M1434.3 1059.7h0M1422.5 1062.4h0M1368.5 1056.3h0M1403.9 1054.7h0M1167.2 991.0h0M1131.0 1040.7h0M1430.5 1091.8h0M1294.5 1110.0h0M1354.8 1054.9h0M1160.6 997.0h0M1297.5 1104.5h0M1186.8 989.1h0M1456.9 1080.1h0M1145.8 1109.3h0M1381.3 1055.0h0M1297.7 1041.4h0M1129.4 1107.1h0M1185.8 993.6h0M1260.8 1041.2h0M1296.8 1035.1h0M1393.7 1108.3h0M1335.9 1047.3h0M1294.0 1116.9h0M1211.6 1127.2h0M1385.8 1101.2h0M1425.5 1098.7h0M1382.2 1101.6h0M1367.2 1054.5h0M1282.1 1042.7h0M1339.1 1103.2h0M1441.6 1089.5h0M1346.1 1107.3h0M1255.6 1115.8h0M1360.0 1115.8h0M1132.6 1104.0h0M1211.0 1022.6h0M1190.5 1015.7h0M1209.1 1122.4h0M1295.2 1111.3h0M1458.5 1081.2h0M1150.5 1128.1h0M1140.1 1093.0h0M1283.1 1040.6h0M1329.8 1040.1h0M1266.0 1114.1h0M1247.5 1028.8h0M1312.9 1041.6h0M1224.2 1028.8h0M1139.3 1021.1h0M1255.7 1118.5h0M1141.8 1121.1h0M1149.6 1116.5h0M1285.1 1106.4h0M1300.4 1114.4h0M1282.0 1118.3h0M1327.3 1045.5h0M1277.7 1045.1h0M1302.0 1044.6h0M1348.9 1053.1h0M1320.1 1041.7h0M1302.9 1120.2h0M1371.1 1056.5h0M1424.2 1098.0h0M1245.4 1027.4h0M1314.3 1111.4h0M1377.5 1056.4h0M1453.4 1086.8h0M1138.2 1046.7h0M1267.5 1106.0h0M1306.5 1049.0h0M1351.7 1108.8h0M1250.1 1038.3h0M1240.2 1122.2h0M1149.9 995.5h0M1334.1 1103.2h0M1267.2 1030.5h0M1248.7 1126.0h0M1234.1 1120.6h0M1433.6 1063.7h0M1157.5 1120.4h0M1152.8 1123.2h0M1354.7 1047.5h0M1150.5 1001.0h0M1152.4 995.6h0M1357.6 1054.9h0M1244.9 1110.6h0M1164.3 1134.3h0M1432.9 1100.2h0M1271.8 1108.1h0M1231.5 1014.0h0M1424.9 1062.1h0M1247.5 1034.7h0M1254.9 1033.0h0M1392.2 1108.0h0M1313.6 1040.9h0M1420.2 1062.7h0M1297.8 1111.1h0M1448.9 1090.4h0M1146.5 1121.5h0M1153.2 994.2h0M1426.3 1060.6h0M1173.2 1138.3h0M1207.3 1000.4h0M1299.8 1107.7h0M1238.2 1117.9h0M1290.5 1115.1h0M1362.3 1103.7h0M1401.9 1107.1h0M1395.1 1108.7h0M1446.0 1089.1h0M1363.0 1103.8h0M1265.9 1031.8h0M1457.1 1072.2h0M1193.5 1012.3h0M1450.0 1069.5h0M1163.5 1141.9h0M1185.1 1005.1h0M1320.8 1102.6h0M1161.4 1008.4h0M1203.9 1125.6h0M1200.1 1013.8h0M1182.8 1125.3h0M1308.7 1108.6h0M1212.3 1132.6h0M1239.6 1125.9h0M1286.8 1046.5h0M1442.6 1089.4h0M1301.8 1105.7h0M1456.9 1080.4h0M1128.6 1060.0h0M1392.0 1103.7h0M1177.7 1007.1h0M1211.9 1120.5h0M1338.5 1103.6h0M1304.2 1039.1h0M1125.5 1104.9h0M1400.5 1058.9h0M1365.1 1052.9h0M1282.1 1112.7h0M1412.3 1056.4h0M1264.8 1106.0h0M1402.0 1056.9h0M1301.2 1037.3h0M1229.4 1034.2h0M1227.5 1019.7h0M1245.6 1107.1h0M1257.1 1022.8h0M1403.1 1096.2h0M1251.4 1108.2h0M1314.1 1050.2h0M1457.4 1080.0h0M1331.5 1049.6h0M1305.9 1046.6h0M1256.4 1108.2h0M1192.0 1122.9h0M1441.7 1093.1h0M1236.2 1107.8h0M1172.2 991.3h0M1362.4 1053.4h0M1405.5 1096.3h0M1200.9 1017.4h0M1261.4 1025.6h0M1268.1 1115.1h0M1382.0 1101.4h0M1236.1 1036.5h0M1259.3 1125.0h0M1389.7 1104.0h0M1131.2 1057.2h0M1343.1 1051.2h0M1295.7 1117.3h0M1329.9 1043.5h0M1427.6 1094.1h0M1292.7 1038.2h0M1455.7 1083.4h0M1405.0 1053.0h0M1335.2 1052.6h0M1207.0 1127.6h0M1235.3 1111.5h0M1280.2 1029.2h0M1170.4 1134.3h0M1312.9 1105.0h0M1429.8 1099.5h0M1326.6 1041.9h0M1221.7 1112.1h0M1317.2 1103.9h0M1308.6 1049.5h0M1185.4 1146.0h0M1345.7 1047.7h0M1372.2 1052.5h0M1394.4 1058.6h0M1281.9 1042.2h0M1315.9 1045.5h0M1213.4 1115.8h0M1340.1 1046.8h0M1173.5 1136.5h0M1282.5 1038.1h0M1356.0 1110.8h0M1287.8 1118.4h0M1411.6 1059.4h0M1314.7 1109.2h0M1301.0 1035.6h0M1232.5 1021.5h0M1426.7 1097.1h0M1377.0 1053.1h0M1148.4 1015.5h0M1293.5 1047.5h0M1357.9 1101.9h0M1227.7 1031.6h0M1147.9 1131.3h0M1348.1 1105.3h0M1394.9 1053.8h0M1315.0 1103.2h0M1390.6 1055.5h0M1443.7 1067.5h0M1225.3 1032.0h0M1425.0 1095.1h0M1244.5 1106.7h0M1135.4 1090.3h0M1292.0 1121.9h0M1283.4 1043.8h0M1434.2 1091.3h0M1405.8 1058.1h0M1182.6 1149.6h0M1192.7 1120.0h0M1420.0 1062.5h0M1368.3 1047.6h0M1416.5 1094.5h0M1358.3 1104.7h0M1151.5 1011.9h0M1363.1 1055.3h0M1203.9 1132.0h0M1249.9 1122.7h0M1322.7 1049.3h0M1435.6 1091.3h0M1339.5 1041.2h0M1272.6 1112.2h0M1140.2 1095.6h0M1209.1 1113.6h0M1220.6 1112.4h0M1218.5 1112.1h0M1425.6 1092.4h0M1279.7 1108.9h0M1436.5 1065.4h0M1311.4 1106.4h0M1345.6 1107.1h0M1294.5 1113.9h0M1299.5 1104.7h0M1386.3 1054.2h0M1203.9 998.0h0M1388.6 1098.9h0M1288.9 1040.2h0M1292.2 1040.5h0M1364.5 1112.5h0M1185.3 1015.4h0M1291.3 1043.0h0M1213.1 1112.3h0M1429.1 1095.9h0M1390.3 1058.4h0M1229.2 1030.7h0M1333.2 1103.9h0M1322.3 1041.2h0M1182.5 1012.7h0M1356.5 1111.6h0M1145.5 1026.5h0M1197.5 1116.8h0M1289.1 1122.4h0M1173.5 988.2h0M1138.1 1014.4h0M1172.4 1006.2h0M1267.3 1043.6h0M1458.9 1080.6h0M1202.0 1006.2h0M1206.0 991.8h0M1247.0 1018.9h0M1329.7 1049.1h0M1342.8 1051.5h0M1357.8 1107.3h0M1422.1 1061.5h0M1407.6 1055.4h0M1197.2 1015.5h0M1309.2 1048.5h0M1196.9 1012.5h0M1274.9 1115.4h0M1414.2 1060.2h0M1149.4 1114.4h0M1217.0 1024.4h0M1212.9 996.7h0M1364.7 1054.0h0M1176.5 1128.2h0M1381.6 1111.0h0M1131.8 1054.4h0M1152.9 1119.4h0M1383.3 1098.1h0M1257.0 1041.4h0M1175.6 1122.7h0M1229.7 1025.6h0M1170.6 1126.5h0M1368.2 1100.1h0M1193.6 997.0h0M1260.8 1027.0h0M1200.8 1012.4h0M1197.3 1017.7h0M1336.3 1113.9h0M1452.0 1069.5h0M1433.0 1061.6h0M1348.4 1114.4h0M1203.6 1115.3h0M1268.3 1043.7h0M1253.5 1034.1h0M1218.8 1021.0h0M1284.3 1037.5h0M1205.4 1014.6h0M1266.5 1035.7h0M1360.1 1109.2h0M1132.7 1053.7h0M1146.1 1032.5h0M1291.1 1109.6h0M1234.1 1035.9h0M1241.3 1114.9h0M1212.8 1113.6h0M1282.3 1122.2h0M1246.5 1124.7h0M1383.6 1104.9h0M1262.7 1040.3h0M1403.1 1099.2h0M1429.9 1063.9h0M1295.0 1044.8h0M1452.4 1070.5h0M1201.6 1117.9h0M1125.3 1084.3h0M1205.2 1004.0h0M1308.7 1110.2h0M1403.6 1098.5h0M1241.2 1109.9h0M1365.0 1108.4h0M1448.1 1086.0h0M1333.3 1047.4h0M1248.8 1026.7h0M1304.0 1047.4h0M1233.9 1028.0h0M1167.2 1011.2h0M1159.3 1122.5h0M1276.4 1110.9h0M1179.5 1145.2h0M1142.9 1027.2h0M1391.9 1053.8h0M1209.4 1117.1h0M1236.9 1122.9h0M1402.7 1099.7h0M1361.9 1111.9h0M1393.5 1057.3h0M1349.3 1053.7h0M1129.6 1112.7h0M1450.3 1068.6h0M1265.5 1110.0h0M1437.8 1089.3h0M1364.1 1056.0h0M1220.9 1132.0h0M1165.3 1011.6h0M1306.8 1046.3h0M1228.6 1124.2h0M1220.1 1015.8h0M1381.5 1101.5h0M1357.6 1111.7h0M1174.2 1011.1h0M1437.9 1064.6h0M1165.3 1011.6h0M1314.7 1043.6h0M1216.8 1017.2h0M1247.6 1039.3h0M1146.6 1107.1h0M1151.3 1006.5h0M1459.2 1072.7h0M1287.3 1035.0h0M1257.7 1034.1h0M1345.2 1103.4h0M1439.7 1097.7h0M1273.5 1116.6h0M1183.9 1013.0h0M1164.8 1004.3h0M1377.6 1054.1h0M1128.5 1027.1h0M1128.7 1104.7h0M1390.5 1100.7h0M1394.2 1106.4h0M1455.4 1070.6h0M1259.8 1108.0h0M1429.9 1061.7h0M1201.2 1011.9h0M1345.2 1104.6h0M1338.8 1051.6h0M1428.4 1063.8h0M1237.2 1108.9h0M1374.1 1107.1h0M1184.4 1013.6h0M1242.4 1038.4h0M1293.4 1045.1h0M1305.0 1104.7h0M1420.1 1058.4h0M1161.3 1129.5h0M1447.6 1068.4h0M1361.6 1054.4h0M1352.0 1103.5h0M1186.5 981.0h0M1174.6 1129.2h0M1340.8 1047.8h0M1422.5 1098.5h0M1294.2 1104.4h0M1405.7 1099.8h0M1348.0 1051.8h0M1202.1 1125.7h0M1297.7 1040.9h0M1274.8 1113.4h0M1437.2 1064.5h0M1457.8 1080.0h0M1371.9 1102.6h0M1415.7 1055.0h0M1289.6 1034.8h0M1342.6 1113.9h0M1392.3 1111.4h0M1146.7 1119.2h0M1209.0 1120.0h0M1304.8 1104.6h0M1218.7 1110.9h0M1311.0 1108.7h0M1206.0 1133.3h0M1383.3 1110.7h0M1392.0 1057.2h0M1158.6 1005.2h0M1414.9 1094.7h0M1185.9 988.3h0M1331.8 1102.2h0M1456.1 1071.4h0M1418.8 1094.5h0M1349.0 1054.4h0M1238.8 1026.8h0M1218.4 1123.2h0M1185.6 995.7h0M1281.3 1045.3h0M1440.4 1090.1h0M1190.7 1134.0h0M1371.8 1055.3h0M1261.8 1033.3h0M1267.3 1110.1h0M1278.1 1122.2h0M1241.1 1108.7h0M1319.1 1039.6h0M1221.0 1121.9h0M1277.5 1109.1h0M1374.1 1103.1h0M1146.5 1026.4h0M1272.8 1107.9h0M1357.9 1102.0h0M1262.9 1026.8h0M1209.3 1016.5h0M1400.0 1102.5h0M1308.0 1037.1h0M1154.6 1007.5h0M1367.3 1102.3h0M1425.9 1092.3h0M1337.2 1050.5h0M1280.8 1036.7h0M1328.0 1118.9h0M1457.7 1071.9h0M1342.8 1118.2h0M1147.3 1020.2h0M1344.9 1042.1h0M1195.2 1015.9h0M1257.3 1106.3h0M1180.9 1135.0h0M1373.7 1049.8h0M1370.0 1099.7h0M1282.1 1032.6h0M1441.6 1088.0h0M1242.7 1114.0h0M1162.3 1126.3h0M1295.0 1041.5h0M1168.5 998.7h0M1223.5 1111.7h0M1263.7 1041.2h0M1276.4 1110.4h0M1410.1 1055.2h0M1176.9 1132.9h0M1261.2 1121.3h0M1448.0 1069.2h0M1176.5 1140.6h0M1363.8 1052.1h0M1134.6 1052.8h0M1448.8 1090.9h0M1140.4 1046.8h0M1212.4 996.6h0M1235.2 1024.7h0M1422.2 1097.7h0M1292.9 1108.1h0M1225.3 1111.4h0M1248.3 1033.2h0M1245.1 1033.0h0M1141.6 1093.8h0M1301.9 1107.6h0M1199.6 1011.2h0M1230.4 1032.6h0M1376.2 1057.4h0M1261.3 1105.8h0M1323.9 1105.8h0M1325.4 1049.6h0M1329.2 1104.8h0M1291.8 1115.8h0M1142.8 1037.3h0M1215.5 1117.2h0M1413.3 1060.6h0M1352.9 1043.7h0M1403.7 1059.0h0M1399.6 1103.4h0M1144.0 1097.8h0M1334.4 1117.0h0M1339.1 1042.0h0M1377.3 1098.5h0M1372.0 1051.4h0M1454.7 1081.6h0M1386.9 1052.6h0M1251.6 1034.9h0M1164.5 988.5h0M1148.9 996.4h0M1348.3 1101.6h0M1164.7 976.5h0M1312.8 1104.4h0M1264.0 1120.4h0M1166.3 1131.5h0M1135.5 1048.0h0M1351.0 1106.3h0M1356.1 1047.7h0M1160.3 1123.4h0M1321.3 1048.6h0M1179.9 998.0h0M1299.3 1042.1h0M1407.3 1057.4h0M1286.0 1107.5h0M1358.7 1054.2h0M1369.8 1101.0h0M1146.5 1108.6h0M1365.1 1051.2h0M1312.5 1118.3h0M1277.8 1043.6h0M1377.4 1056.0h0M1409.0 1056.6h0M1315.4 1105.8h0M1175.8 1142.0h0M1395.1 1053.4h0M1198.2 1005.4h0M1329.4 1043.5h0M1320.2 1118.1h0M1356.0 1044.8h0M1365.8 1047.9h0M1368.6 1055.4h0M1131.8 1084.9h0M1223.2 1029.8h0M1287.5 1044.6h0M1218.0 1129.0h0M1178.7 1144.8h0M1329.2 1112.6h0M1304.2 1119.2h0M1384.8 1058.2h0M1438.9 1063.4h0M1203.2 1012.8h0M1369.4 1104.5h0M1314.7 1048.9h0M1443.4 1064.5h0M1345.2 1043.8h0M1159.2 1122.6h0M1456.4 1071.2h0M1145.6 1101.2h0M1134.9 1118.3h0M1354.6 1111.8h0M1299.7 1043.0h0M1186.9 1125.2h0M1292.2 1038.3h0M1264.9 1042.8h0M1288.2 1122.1h0M1313.2 1048.0h0M1237.5 1125.7h0M1452.1 1088.5h0M1412.8 1094.7h0M1289.1 1114.4h0M1330.4 1117.5h0M1154.0 1140.8h0M1135.7 1020.0h0M1445.8 1068.5h0M1403.1 1101.0h0M1319.4 1115.1h0M1125.2 1043.2h0M1451.9 1084.8h0M1237.5 1037.0h0M1383.1 1054.0h0M1301.3 1040.5h0M1277.5 1031.0h0M1183.9 1011.0h0M1285.5 1107.6h0M1204.9 1117.3h0M1300.2 1036.1h0M1186.8 1010.7h0M1235.5 1118.4h0M1389.9 1097.6h0M1380.9 1057.0h0M1263.9 1109.6h0M1244.5 1126.4h0M1254.8 1027.3h0M1387.2 1052.2h0M1252.2 1031.6h0M1373.5 1049.7h0M1129.6 1058.2h0M1146.8 1104.7h0M1193.9 1143.0h0M1437.2 1061.7h0M1172.5 1150.9h0M1189.6 997.5h0M1420.8 1104.2h0M1277.1 1044.6h0M1216.5 1111.4h0M1186.9 1015.6h0M1227.9 1033.3h0M1301.6 1110.8h0M1380.5 1112.0h0M1152.3 1016.0h0M1228.7 1126.9h0M1293.9 1045.0h0M1315.5 1040.6h0M1451.0 1069.2h0M1408.5 1060.4h0M1441.4 1088.0h0M1380.6 1057.7h0M1179.6 991.2h0M1195.9 1014.5h0M1392.8 1054.6h0M1280.9 1045.8h0M1227.0 1030.7h0M1332.4 1048.5h0M1334.1 1050.2h0M1421.2 1096.1h0M1306.0 1046.7h0M1431.2 1059.2h0M1410.9 1095.7h0M1295.5 1106.3h0M1182.3 1123.8h0M1320.6 1038.3h0M1220.2 1013.5h0M1241.3 1113.3h0M1434.2 1092.7h0M1125.6 1066.4h0M1317.5 1107.8h0M1155.1 1003.3h0M1339.9 1103.7h0M1273.4 1032.2h0M1203.6 1132.4h0M1210.3 1120.8h0M1267.8 1123.2h0M1289.2 1044.8h0M1406.9 1098.1h0M1190.9 990.5h0M1394.3 1109.4h0M1354.6 1110.1h0M1396.4 1097.7h0M1398.1 1058.8h0M1433.2 1062.8h0M1240.0 1116.1h0M1430.3 1096.9h0M1146.6 1103.8h0M1454.2 1082.6h0M1187.3 1137.8h0M1455.1 1081.4h0M1368.6 1048.2h0M1382.6 1110.1h0M1315.8 1111.4h0M1289.9 1044.1h0M1132.7 1030.5h0M1201.7 1132.4h0M1357.8 1102.9h0M1216.5 1011.3h0M1355.0 1103.3h0M1435.7 1091.4h0M1444.1 1094.8h0M1384.5 1057.0h0M1300.1 1048.5h0M1414.1 1098.2h0M1374.6 1056.4h0M1319.7 1048.6h0M1148.5 1018.5h0M1301.6 1112.4h0M1263.9 1041.1h0M1283.8 1105.1h0M1270.1 1117.9h0M1311.0 1119.2h0M1427.5 1061.5h0M1459.3 1078.6h0M1381.8 1057.5h0M1309.8 1041.1h0M1368.6 1049.7h0M1342.1 1106.2h0M1269.9 1038.6h0M1445.0 1086.8h0M1148.8 1003.8h0M1271.7 1039.8h0M1317.1 1106.8h0M1342.7 1109.1h0M1140.6 1093.1h0M1143.3 1040.5h0M1149.4 1011.8h0M1160.4 1144.5h0M1288.1 1107.2h0M1454.7 1071.2h0M1199.1 1125.0h0M1262.6 1026.9h0M1211.3 1126.2h0M1275.3 1040.2h0M1276.8 1037.0h0M1262.8 1030.1h0M1277.5 1031.1h0M1277.4 1030.6h0M1452.2 1084.5h0M1349.9 1103.4h0M1367.7 1107.4h0M1349.2 1048.5h0M1200.7 1125.2h0M1453.4 1070.1h0M1130.6 1036.2h0M1212.0 1114.4h0M1258.5 1107.3h0M1430.9 1061.9h0M1400.3 1099.6h0M1322.9 1113.7h0M1375.2 1100.4h0M1361.4 1106.1h0M1455.8 1071.1h0M1233.8 1126.8h0M1217.0 1119.2h0M1291.0 1039.7h0M1424.5 1094.1h0M1395.1 1059.0h0M1328.1 1047.1h0M1457.2 1083.3h0M1243.2 1106.9h0M1225.7 1120.7h0M1402.7 1059.1h0M1245.1 1106.6h0M1250.5 1107.2h0M1229.3 1127.1h0M1208.7 1020.9h0M1153.7 1132.1h0M1213.6 1006.9h0M1134.4 1111.3h0M1195.8 1132.2h0M1238.0 1108.9h0M1283.8 1041.7h0M1397.3 1103.1h0M1455.8 1071.7h0M1332.7 1040.2h0M1239.4 1031.8h0M1402.4 1103.7h0M1182.4 993.8h0M1197.4 1137.8h0M1200.9 1015.4h0M1365.8 1050.3h0M1146.0 1112.1h0M1320.5 1050.9h0M1243.3 1115.5h0M1414.0 1061.6h0M1132.0 1083.3h0M1216.4 1123.9h0M1233.1 1032.5h0M1313.1 1047.3h0M1208.4 1018.1h0M1130.4 1046.7h0M1215.0 1002.1h0M1282.2 1107.5h0M1422.3 1098.4h0M1346.0 1106.7h0M1263.5 1036.5h0M1282.1 1111.5h0M1389.3 1098.8h0M1132.4 1063.3h0M1391.9 1099.1h0M1189.1 1140.1h0M1354.1 1110.9h0M1277.4 1038.5h0M1420.1 1103.8h0M1405.0 1059.5h0M1450.4 1086.7h0M1228.8 1115.6h0M1456.9 1071.3h0M1129.5 1058.0h0M1339.3 1048.3h0M1439.8 1063.9h0M1323.4 1103.4h0M1280.5 1114.8h0M1197.7 1005.0h0M1237.9 1117.0h0M1131.0 1042.2h0M1196.8 995.5h0M1236.9 1115.4h0M1159.0 1124.8h0M1398.0 1105.7h0M1144.2 1009.1h0M1172.1 1011.6h0M1179.8 979.5h0M1232.7 1018.3h0M1186.8 1132.9h0M1438.5 1064.5h0M1253.3 1108.3h0M1364.6 1052.6h0M1449.5 1069.3h0M1432.5 1091.2h0M1187.5 1011.1h0M1408.1 1108.4h0M1349.5 1104.6h0M1365.4 1056.1h0M1289.9 1041.2h0M1141.3 1002.6h0M1249.4 1038.9h0M1323.6 1103.5h0M1292.7 1037.1h0M1314.4 1049.3h0M1367.9 1048.1h0M1136.2 1042.7h0M1407.9 1103.9h0M1380.1 1098.4h0M1401.6 1059.6h0M1137.6 1016.3h0M1252.7 1040.4h0M1408.7 1107.0h0M1137.5 1047.6h0M1189.0 1013.6h0M1339.6 1052.6h0M1304.5 1048.4h0M1315.4 1106.7h0M1284.0 1038.5h0M1189.8 1016.4h0M1422.5 1095.5h0M1306.6 1103.9h0M1253.5 1110.2h0M1361.9 1100.0h0M1220.4 1011.4h0M1387.9 1110.5h0M1187.2 988.5h0M1381.6 1048.6h0M1373.2 1101.9h0M1327.9 1116.8h0M1318.4 1120.3h0M1406.3 1108.6h0M1173.2 996.6h0M1169.1 1123.1h0M1335.7 1050.8h0M1328.4 1048.3h0M1412.3 1096.3h0M1247.5 1107.8h0M1409.6 1058.1h0M1238.8 1037.4h0M1125.7 1066.2h0M1457.3 1079.8h0M1365.0 1052.8h0M1367.2 1113.6h0M1266.1 1039.1h0M1229.8 1114.3h0M1354.8 1047.4h0M1449.0 1068.3h0M1179.3 1004.7h0M1186.4 1131.6h0M1351.1 1101.1h0M1158.0 1001.8h0M1401.3 1101.7h0M1412.0 1061.2h0M1340.0 1052.2h0M1135.0 1058.3h0M1303.2 1042.2h0M1401.2 1059.7h0M1350.0 1114.7h0M1310.7 1117.2h0M1352.0 1103.1h0M1384.5 1102.3h0M1128.6 1064.0h0M1326.6 1108.1h0M1144.7 1018.2h0M1353.6 1112.1h0M1222.2 1021.1h0M1394.5 1051.6h0M1287.2 1041.6h0M1244.8 1106.7h0M1258.9 1031.4h0M1175.5 1003.0h0M1326.8 1106.9h0M1223.9 1009.9h0M1196.5 989.3h0M1286.9 1046.0h0M1423.4 1092.9h0M1351.3 1051.5h0M1327.8 1039.9h0M1237.3 1021.8h0M1161.6 992.6h0M1282.5 1117.6h0M1194.2 1001.8h0M1282.7 1031.3h0M1194.9 1117.8h0M1434.5 1095.2h0M1232.4 1125.6h0M1391.4 1056.0h0M1171.9 1151.0h0M1414.9 1059.1h0M1231.4 1020.5h0M1379.5 1055.3h0M1358.4 1105.0h0M1164.6 1009.5h0M1402.0 1056.0h0M1247.2 1038.1h0M1451.7 1083.8h0M1360.5 1107.4h0M1383.0 1110.1h0M1450.0 1068.6h0M1250.5 1036.0h0M1341.9 1051.3h0M1408.8 1102.5h0M1407.7 1056.9h0M1209.2 1021.3h0M1392.6 1099.3h0M1251.8 1039.5h0M1338.9 1101.9h0M1210.3 1115.0h0M1419.2 1060.5h0M1192.6 1008.1h0M1218.2 1110.7h0M1339.1 1104.4h0M1189.2 1015.7h0M1390.5 1097.3h0M1276.9 1108.0h0M1136.7 1046.8h0M1450.9 1068.2h0M1415.9 1094.5h0M1395.7 1056.0h0M1157.6 1003.9h0M1177.4 1134.5h0M1425.7 1099.6h0M1341.4 1045.3h0M1349.3 1050.2h0M1263.6 1117.0h0M1355.9 1111.7h0M1401.6 1059.7h0M1140.8 1005.1h0M1228.8 1027.3h0M1314.2 1040.6h0M1236.2 1121.9h0M1125.4 1076.5h0M1421.3 1062.0h0M1382.7 1105.9h0M1263.4 1107.2h0M1280.0 1036.5h0M1160.8 1008.9h0M1303.6 1103.4h0M1455.9 1081.6h0M1178.2 1150.5h0M1184.7 1141.1h0M1439.1 1066.3h0M1180.1 982.9h0M1430.0 1063.9h0M1243.2 1027.8h0M1366.3 1103.7h0M1278.1 1041.8h0M1277.5 1115.9h0M1234.4 1108.5h0M1140.2 1039.5h0M1135.9 1045.2h0M1440.8 1088.2h0M1231.2 1031.4h0M1170.9 1145.8h0M1252.9 1040.1h0M1130.1 1082.5h0M1367.7 1099.7h0M1188.3 993.0h0M1372.0 1054.0h0M1244.0 1023.9h0M1212.7 1132.6h0M1326.4 1118.0h0M1182.4 1123.2h0M1394.7 1058.0h0M1273.2 1115.5h0M1193.3 1139.4h0M1295.9 1045.9h0M1223.0 1006.7h0M1324.5 1102.5h0M1207.3 1118.1h0M1201.2 1018.5h0M1263.2 1110.2h0M1314.4 1050.3h0M1351.0 1051.0h0M1251.6 1040.1h0M1224.4 1030.9h0M1134.9 1059.0h0M1419.6 1060.7h0M1301.2 1048.3h0M1388.2 1102.3h0M1240.2 1113.6h0M1390.6 1109.4h0M1368.3 1103.9h0M1303.8 1109.8h0M1399.5 1096.6h0M1377.1 1105.3h0M1429.4 1062.3h0M1250.8 1107.4h0M1313.7 1041.0h0M1288.9 1107.0h0M1421.1 1062.2h0M1370.8 1109.5h0M1217.2 1009.8h0M1370.2 1047.4h0M1301.9 1044.1h0M1238.3 1018.9h0M1438.2 1065.0h0M1216.6 1111.7h0M1236.8 1030.0h0M1270.9 1122.8h0M1437.2 1096.6h0M1201.5 1009.2h0M1340.6 1104.6h0M1457.4 1072.4h0M1155.4 992.4h0M1406.8 1059.9h0M1206.2 1134.8h0M1213.3 994.9h0M1450.6 1086.3h0M1375.3 1103.9h0M1215.9 1123.1h0M1233.7 1108.6h0M1450.4 1069.7h0M1446.9 1092.8h0M1406.9 1105.6h0M1314.9 1041.7h0M1405.1 1096.1h0M1145.5 1109.6h0M1424.5 1095.7h0M1351.4 1110.2h0M1248.2 1106.7h0M1426.7 1100.1h0M1279.9 1040.8h0M1353.1 1101.2h0M1126.3 1066.9h0M1201.0 1010.4h0M1358.0 1109.0h0M1131.9 1097.5h0M1370.3 1102.1h0M1238.7 1025.8h0M1143.1 1120.8h0M1348.9 1113.0h0M1446.6 1093.7h0M1279.0 1037.6h0M1339.0 1109.3h0M1246.8 1023.7h0M1334.4 1109.2h0M1410.8 1107.9h0M1279.9 1109.0h0M1128.8 1060.7h0M1457.6 1072.4h0M1356.5 1053.6h0M1257.4 1032.9h0M1266.8 1108.9h0M1452.6 1070.0h0M1200.8 1013.6h0M1425.1 1061.4h0M1300.6 1043.0h0M1146.9 1025.1h0M1398.3 1104.6h0M1324.4 1113.1h0M1143.5 1013.4h0M1406.5 1104.8h0M1177.9 1136.0h0M1327.7 1039.2h0M1296.1 1032.8h0M1254.0 1030.2h0M1212.0 1018.7h0M1328.5 1045.1h0M1428.4 1101.0h0M1433.8 1060.9h0M1155.1 1117.9h0M1158.2 1121.7h0M1365.4 1099.6h0M1390.8 1051.4h0M1399.3 1057.5h0M1134.3 1083.9h0M1301.3 1113.3h0M1164.1 1139.0h0M1235.4 1116.1h0M1263.6 1108.1h0M1221.2 1114.0h0M1383.5 1057.5h0M1125.5 1099.9h0M1454.1 1082.0h0M1179.7 997.0h0M1333.5 1104.3h0M1203.2 1018.0h0M1134.6 1047.9h0M1248.4 1109.5h0M1402.2 1096.6h0M1134.9 1112.5h0M1141.9 1096.7h0M1355.3 1110.4h0M1207.0 990.7h0M1431.9 1095.2h0M1142.2 1006.1h0M1147.5 1028.6h0M1420.1 1062.5h0M1244.4 1033.2h0M1331.5 1102.3h0M1304.1 1045.0h0M1395.8 1053.0h0M1206.8 998.9h0M1126.2 1090.0h0M1364.6 1108.6h0M1199.9 1007.7h0M1219.3 1110.8h0M1357.6 1055.3h0M1165.4 1145.3h0M1420.3 1056.1h0M1182.0 1147.4h0M1194.9 1016.1h0M1153.0 1126.8h0M1284.7 1038.1h0M1170.9 995.2h0M1340.7 1114.0h0M1171.0 1010.0h0M1289.6 1034.1h0M1353.5 1105.9h0M1430.7 1099.4h0M1395.1 1057.8h0M1143.9 1106.0h0M1455.6 1071.5h0M1415.4 1102.2h0M1420.8 1094.7h0M1331.7 1045.4h0M1444.2 1087.4h0M1315.8 1046.3h0M1151.9 991.7h0M1372.8 1103.4h0M1272.8 1032.3h0M1316.0 1049.8h0M1278.7 1044.9h0M1151.6 1015.6h0M1402.3 1107.3h0M1310.5 1047.9h0M1406.4 1102.6h0M1337.0 1052.0h0M1269.6 1123.0h0M1323.1 1051.2h0M1312.3 1037.1h0M1194.2 1017.2h0M1134.6 1112.1h0M1176.5 997.4h0M1207.6 1134.7h0M1375.4 1052.8h0M1222.0 1112.2h0M1416.4 1104.4h0M1240.9 1115.3h0M1211.2 1116.1h0M1163.0 994.5h0M1206.1 999.2h0M1172.6 1127.0h0M1246.8 1121.3h0M1404.7 1102.2h0M1438.5 1093.0h0M1233.5 1026.4h0M1207.8 1132.8h0M1366.4 1056.3h0M1248.0 1023.5h0M1308.3 1111.2h0M1310.4 1110.1h0M1310.2 1049.3h0M1272.4 1122.9h0M1223.3 1117.1h0M1277.2 1033.3h0M1153.6 1011.1h0M1193.1 1016.4h0M1300.5 1041.0h0M1326.2 1107.6h0M1330.3 1048.3h0M1355.8 1048.3h0M1321.2 1110.6h0M1309.0 1105.5h0M1249.9 1027.3h0M1366.1 1046.4h0M1454.2 1069.8h0M1333.2 1052.3h0M1130.8 1101.6h0M1331.4 1106.5h0M1373.7 1106.3h0M1308.8 1110.2h0M1155.4 1133.1h0M1268.4 1111.4h0M1180.8 1127.0h0M1180.5 1123.2h0M1363.7 1052.3h0M1459.1 1072.6h0M1127.0 1109.2h0M1275.3 1110.5h0M1179.9 1003.9h0M1416.5 1059.5h0M1283.0 1117.6h0M1325.9 1039.1h0M1325.7 1046.5h0M1415.7 1058.4h0M1288.4 1046.0h0M1202.7 1011.0h0M1326.6 1045.5h0M1283.7 1117.8h0M1204.5 1124.0h0M1237.3 1023.8h0M1271.4 1107.4h0M1413.3 1055.7h0M1272.0 1037.0h0M1300.2 1110.8h0M1443.4 1087.5h0M1456.1 1071.9h0M1399.3 1059.8h0M1184.0 987.7h0M1131.6 1064.8h0M1142.9 1027.9h0M1449.7 1090.3h0M1323.0 1111.7h0M1205.4 1010.5h0M1161.8 1131.1h0M1192.1 992.2h0M1216.6 1111.5h0M1205.9 1009.8h0M1355.5 1048.9h0M1321.4 1119.9h0M1236.7 1113.1h0M1295.8 1047.7h0M1341.3 1053.5h0M1153.2 1117.5h0M1213.3 1118.3h0M1174.3 1152.8h0M1333.5 1047.8h0M1360.5 1111.0h0M1208.2 1114.0h0M1168.0 1124.7h0M1313.1 1037.0h0M1270.2 1123.0h0M1276.7 1111.1h0M1258.9 1031.9h0M1433.9 1092.3h0M1301.0 1045.2h0M1384.0 1055.2h0M1296.6 1038.6h0M1210.0 1019.1h0M1325.2 1044.2h0M1267.5 1113.0h0M1160.2 1007.5h0M1224.9 1115.7h0M1372.6 1052.1h0M1164.6 1010.3h0M1133.3 1116.3h0M1248.3 1026.9h0M1347.2 1046.5h0M1147.6 1002.4h0M1382.1 1054.7h0M1393.3 1102.2h0M1187.0 1013.5h0M1300.8 1108.8h0M1338.2 1110.1h0M1262.8 1112.8h0M1420.1 1102.2h0M1383.8 1103.7h0M1208.0 1005.1h0M1208.2 1122.7h0M1328.5 1050.6h0M1226.8 1126.2h0M1231.9 1028.8h0M1268.9 1117.8h0M1382.3 1107.0h0M1450.7 1069.4h0M1343.3 1044.7h0M1265.0 1112.4h0M1247.0 1036.6h0M1284.6 1105.2h0M1427.6 1099.7h0M1218.7 1004.5h0M1147.9 992.7h0M1350.8 1113.4h0M1184.7 1121.0h0M1252.0 1025.7h0M1221.9 1110.7h0M1211.0 1009.8h0M1321.5 1106.8h0M1439.0 1092.6h0M1417.8 1061.3h0M1309.8 1119.8h0M1352.6 1044.4h0M1281.6 1034.9h0M1335.5 1108.3h0M1210.6 1013.5h0M1243.0 1107.6h0M1209.8 1022.3h0M1301.1 1107.7h0M1427.4 1097.8h0M1220.9 1114.1h0M1408.3 1053.6h0M1353.9 1048.1h0M1177.1 1005.1h0M1237.2 1035.7h0M1259.1 1028.4h0M1243.6 1111.8h0M1451.6 1087.1h0M1406.9 1107.8h0M1263.5 1105.9h0M1247.1 1029.5h0M1127.5 1076.7h0M1266.7 1029.5h0M1336.9 1046.4h0M1203.8 1120.9h0M1445.4 1068.0h0M1228.9 1112.1h0M1206.4 1127.0h0M1440.2 1066.1h0M1367.3 1050.6h0M1351.1 1054.6h0M1184.4 1012.8h0M1221.2 1029.3h0M1300.8 1104.5h0M1156.6 1119.4h0M1171.9 1006.3h0M1388.1 1102.7h0M1250.4 1025.1h0M1255.5 1106.6h0M1269.8 1106.3h0M1149.9 1133.4h0M1460.2 1079.3h0M1326.5 1050.9h0M1340.2 1046.7h0M1139.1 1049.2h0M1380.7 1056.5h0M1386.9 1099.7h0M1256.5 1041.1h0M1137.3 1114.5h0M1307.4 1109.9h0M1353.4 1051.9h0M1329.8 1045.5h0M1240.1 1108.5h0M1289.1 1041.2h0M1143.5 1015.4h0M1180.7 977.8h0M1329.4 1113.5h0M1449.6 1069.1h0M1378.0 1054.6h0M1216.0 1125.1h0M1413.6 1101.6h0M1151.5 1135.8h0M1331.2 1047.8h0M1263.0 1041.3h0M1391.3 1097.3h0M1331.1 1110.7h0M1185.4 1122.1h0M1295.4 1047.1h0M1214.4 1022.8h0M1138.8 1106.3h0M1209.3 1119.2h0M1278.0 1114.4h0M1281.1 1116.4h0M1228.3 1019.5h0M1375.7 1099.2h0M1374.5 1050.1h0M1333.4 1102.1h0M1247.3 1107.0h0M1137.9 1017.3h0M1336.1 1052.7h0M1405.5 1103.7h0M1194.3 1117.6h0M1182.8 981.0h0M1136.9 1026.8h0M1380.5 1057.7h0M1411.2 1106.1h0M1314.7 1041.5h0M1342.7 1112.3h0M1293.5 1109.3h0M1274.5 1118.2h0M1321.9 1104.6h0M1425.4 1094.4h0M1134.6 1100.3h0M1446.7 1090.7h0M1379.5 1052.6h0M1271.9 1042.2h0M1246.6 1114.2h0M1232.5 1019.5h0M1377.7 1108.8h0M1146.2 1020.9h0M1224.5 1110.8h0M1129.9 1067.2h0M1134.6 1099.6h0M1306.7 1043.5h0M1300.3 1047.2h0M1177.2 1005.6h0M1321.2 1104.7h0M1328.5 1043.7h0M1193.4 1134.5h0M1392.9 1109.5h0M1455.5 1081.8h0M1214.3 1112.4h0M1184.3 997.1h0M1254.8 1120.1h0M1303.2 1046.5h0M1142.5 1007.9h0M1224.9 1007.4h0M1252.4 1111.8h0M1449.6 1068.9h0M1341.9 1042.9h0M1238.4 1107.4h0M1151.3 993.6h0M1440.8 1091.4h0M1155.6 1127.1h0M1387.3 1103.5h0M1182.3 1013.9h0M1269.9 1027.3h0M1141.4 1094.1h0M1159.6 1124.2h0M1324.4 1106.3h0M1242.3 1026.3h0M1249.7 1120.8h0M1150.4 1012.7h0M1437.4 1090.1h0M1278.7 1039.5h0M1148.4 1013.1h0M1305.3 1042.8h0M1229.4 1108.3h0M1407.0 1060.2h0M1222.5 1110.1h0M1430.8 1062.9h0M1149.3 988.5h0M1187.6 1002.6h0M1339.5 1052.2h0M1327.5 1051.8h0M1357.8 1111.9h0M1411.6 1060.2h0M1326.1 1110.5h0M1310.4 1048.3h0M1153.4 1000.9h0M1153.9 1140.7h0M1174.0 1137.2h0M1126.9 1062.7h0M1228.6 1031.8h0M1130.8 1051.8h0M1202.6 1136.0h0M1292.4 1107.5h0M1377.3 1101.4h0M1373.1 1056.4h0M1265.5 1032.3h0M1209.4 999.7h0M1325.5 1112.7h0M1357.1 1109.4h0M1432.9 1096.4h0M1309.3 1119.4h0M1225.6 1024.2h0M1229.5 1118.4h0M1125.7 1052.1h0M1257.8 1111.8h0M1162.3 1150.3h0M1155.8 1130.6h0M1330.3 1107.8h0M1456.6 1081.3h0M1397.5 1106.7h0M1459.5 1073.1h0M1202.8 1137.4h0M1200.9 990.6h0M1367.1 1112.6h0M1434.6 1060.2h0M1222.7 1123.5h0M1223.5 1008.7h0M1390.2 1097.7h0M1334.9 1117.8h0M1368.2 1056.2h0M1183.0 1000.1h0M1233.2 1035.2h0M1354.8 1101.1h0M1297.2 1107.3h0M1304.2 1103.4h0M1417.6 1101.3h0M1240.0 1017.8h0M1145.6 1014.4h0M1444.2 1067.8h0M1279.2 1112.4h0M1346.1 1053.2h0M1321.3 1102.8h0M1155.4 1005.5h0M1236.7 1036.4h0M1341.3 1109.6h0M1433.1 1062.1h0M1247.3 1115.3h0M1330.8 1118.1h0M1171.0 1011.0h0M1312.8 1041.9h0M1244.1 1021.0h0M1167.3 998.4h0M1144.1 1114.6h0M1164.4 1123.3h0M1302.8 1046.9h0M1275.9 1114.7h0M1435.7 1064.5h0M1195.1 1122.7h0M1196.0 1008.9h0M1405.3 1054.6h0M1283.0 1106.7h0M1262.2 1106.1h0M1277.2 1042.8h0M1238.3 1028.0h0M1138.6 1046.3h0M1185.7 1135.8h0M1422.5 1062.6h0M1230.0 1123.8h0M1404.7 1096.1h0M1134.2 1048.3h0M1127.1 1069.7h0M1417.9 1061.2h0M1183.6 1121.5h0M1272.3 1042.6h0M1458.3 1081.1h0M1244.0 1125.6h0M1338.0 1053.0h0M1307.5 1037.7h0M1459.6 1078.5h0M1455.0 1081.3h0M1194.7 1136.1h0M1373.2 1098.9h0M1439.0 1063.5h0M1305.8 1043.9h0M1432.9 1093.4h0M1410.7 1059.8h0M1232.5 1030.1h0M1125.7 1103.5h0M1285.6 1044.5h0M1384.0 1058.0h0M1268.2 1106.1h0M1251.3 1118.7h0M1261.5 1108.0h0M1376.4 1048.7h0M1307.6 1038.8h0M1421.0 1057.4h0M1446.4 1066.6h0M1366.4 1103.0h0M1229.9 1122.3h0M1441.9 1065.7h0M1361.5 1055.8h0M1424.5 1099.3h0M1236.5 1020.4h0M1156.3 1134.6h0M1280.1 1113.8h0M1421.2 1061.3h0M1222.9 1013.9h0M1457.3 1082.7h0M1452.0 1087.0h0M1155.5 1002.8h0M1160.3 1127.8h0M1206.6 1009.1h0M1237.8 1117.0h0M1269.1 1043.9h0M1355.6 1105.8h0M1294.7 1034.3h0M1143.6 1010.6h0M1230.7 1028.7h0M1224.2 1109.7h0M1311.2 1106.2h0M1369.5 1051.8h0M1159.3 996.7h0M1329.9 1052.1h0M1305.7 1105.5h0M1194.8 1120.0h0M1159.2 993.8h0M1420.6 1098.4h0M1418.2 1095.2h0M1252.7 1124.3h0M1339.8 1104.6h0M1155.4 1010.9h0M1336.8 1109.8h0M1430.4 1063.8h0M1158.5 979.6h0M1281.8 1105.9h0M1243.8 1109.4h0M1369.8 1107.2h0M1134.7 1013.3h0M1250.8 1019.6h0M1322.7 1107.9h0M1333.9 1051.0h0M1222.6 1015.6h0M1154.4 1003.0h0M1456.8 1082.2h0M1373.6 1053.6h0M1130.9 1079.9h0M1163.7 1004.8h0M1284.3 1046.0h0M1165.7 1151.5h0M1431.2 1063.9h0M1419.6 1062.3h0M1342.5 1116.3h0M1408.0 1056.1h0M1438.9 1097.7h0M1380.4 1106.8h0M1266.7 1122.8h0M1316.6 1046.6h0M1416.9 1097.8h0M1438.1 1090.0h0M1360.1 1100.1h0M1439.0 1063.1h0M1129.2 1061.8h0M1197.9 1134.7h0M1342.8 1101.9h0M1221.1 1010.6h0M1372.4 1111.4h0M1302.7 1116.6h0M1299.4 1117.8h0M1403.8 1060.2h0M1362.0 1101.0h0M1410.2 1095.8h0M1176.9 1136.2h0M1178.6 1124.4h0M1404.3 1096.5h0M1359.9 1114.2h0M1273.8 1043.0h0M1408.7 1054.2h0M1136.5 1086.6h0M1367.5 1102.0h0M1323.1 1051.2h0M1406.2 1054.9h0M1137.0 1050.6h0M1398.6 1059.7h0M1251.6 1024.7h0M1412.8 1057.0h0M1244.8 1116.9h0M1148.5 1016.0h0M1279.0 1115.3h0M1259.8 1120.4h0M1353.2 1054.4h0M1216.0 1116.2h0M1419.7 1100.2h0M1248.6 1113.0h0M1444.2 1091.0h0M1354.5 1101.6h0M1315.5 1042.7h0M1384.5 1056.3h0M1210.9 1120.2h0M1275.8 1117.9h0M1412.9 1095.1h0M1249.7 1035.2h0M1276.1 1028.1h0M1303.5 1048.0h0M1352.8 1104.7h0M1290.4 1038.5h0M1323.7 1047.0h0M1208.8 1120.3h0M1380.0 1107.6h0M1332.1 1102.4h0M1369.8 1054.5h0M1320.7 1040.1h0M1308.1 1103.2h0M1280.6 1038.7h0M1342.2 1116.7h0M1272.7 1033.3h0M1310.7 1037.0h0M1200.6 1005.9h0M1430.2 1099.4h0M1329.7 1104.4h0M1180.3 986.6h0M1310.7 1115.6h0M1307.2 1107.6h0M1429.0 1092.4h0M1427.2 1094.2h0M1374.6 1051.6h0M1294.1 1120.1h0M1423.5 1061.8h0M1364.6 1100.0h0M1295.8 1040.2h0M1181.0 1010.1h0M1219.0 1128.3h0M1339.9 1112.5h0M1256.0 1031.3h0M1194.3 1141.2h0M1420.2 1056.8h0M1200.1 1002.6h0M1241.2 1028.3h0M1304.8 1109.5h0M1331.7 1112.2h0M1361.6 1104.8h0M1339.4 1053.1h0M1276.7 1106.8h0M1446.6 1067.8h0M1282.1 1105.5h0M1209.3 1117.8h0M1240.0 1018.6h0M1273.2 1107.2h0M1438.6 1063.8h0M1147.0 1108.4h0M1443.7 1065.2h0M1134.8 1013.0h0M1248.9 1037.4h0M1246.6 1110.8h0M1227.1 1026.4h0M1186.3 1131.8h0M1317.2 1107.7h0M1196.4 1117.8h0M1226.8 1027.4h0M1195.7 1121.1h0M1308.3 1103.8h0M1269.5 1037.2h0M1369.8 1113.4h0M1163.0 991.9h0M1250.4 1112.8h0M1416.4 1060.5h0M1358.4 1105.5h0M1412.7 1097.8h0M1362.5 1100.4h0M1426.5 1101.6h0M1203.8 1114.9h0M1292.5 1042.2h0M1253.4 1111.4h0M1379.4 1100.3h0M1191.5 1010.9h0M1267.4 1118.1h0M1454.2 1071.1h0M1298.7 1040.9h0M1137.6 1102.0h0M1253.3 1109.2h0M1130.8 1061.5h0M1372.3 1101.9h0M1421.0 1062.2h0M1316.4 1114.9h0M1228.5 1118.4h0M1356.1 1101.8h0M1313.8 1102.8h0M1235.7 1033.9h0M1383.6 1098.6h0M1361.1 1100.2h0M1131.3 1110.4h0M1309.4 1107.3h0M1314.9 1110.6h0M1375.1 1049.0h0M1382.8 1100.2h0M1225.7 1119.4h0M1148.8 1114.7h0M1325.7 1040.1h0M1286.8 1106.5h0M1422.5 1097.4h0M1270.6 1113.0h0M1304.2 1044.7h0M1215.5 1021.8h0M1150.8 1018.0h0M1347.6 1044.2h0M1231.2 1026.0h0M1222.8 1112.8h0M1433.7 1064.8h0M1420.8 1094.6h0M1340.4 1049.2h0M1217.1 1122.3h0M1408.6 1057.8h0M1315.1 1108.3h0M1414.7 1097.3h0M1261.0 1114.0h0M1302.9 1111.5h0M1298.7 1105.8h0M1251.7 1028.2h0M1401.1 1109.7h0M1378.2 1056.0h0M1434.0 1060.6h0M1392.0 1058.3h0M1370.3 1099.2h0M1302.5 1036.9h0M1304.6 1045.7h0M1128.5 1108.9h0M1365.7 1046.6h0M1213.5 1127.0h0M1312.3 1048.5h0M1369.9 1054.5h0M1437.4 1065.7h0M1342.9 1045.3h0M1247.4 1121.2h0M1184.7 1128.2h0M1166.2 1127.8h0M1330.0 1040.0h0M1453.6 1082.5h0M1347.2 1050.6h0M1198.2 991.9h0M1327.5 1112.9h0M1259.5 1108.8h0M1344.5 1045.7h0M1222.8 1030.0h0M1138.1 1052.7h0M1267.2 1028.6h0M1139.3 1090.9h0M1403.3 1059.3h0M1329.7 1052.1h0M1168.8 1140.5h0M1458.0 1072.1h0M1239.8 1109.5h0M1263.0 1107.8h0M1267.2 1110.9h0M1397.5 1099.3h0M1366.4 1102.9h0M1459.5 1072.8h0M1366.6 1104.3h0M1376.0 1052.1h0M1415.2 1057.5h0M1358.2 1111.0h0M1287.3 1040.9h0M1377.4 1054.6h0M1404.8 1053.9h0M1242.7 1026.3h0M1317.2 1049.9h0M1266.0 1124.9h0M1365.6 1108.3h0M1431.3 1064.1h0M1407.8 1058.0h0M1260.0 1115.1h0M1200.5 1008.2h0M1310.0 1043.6h0M1145.7 1003.9h0M1221.8 1028.1h0M1439.6 1090.8h0M1235.4 1017.7h0M1429.6 1100.2h0M1352.9 1044.4h0M1181.1 1126.9h0M1137.3 1091.2h0M1422.6 1059.6h0M1271.3 1042.0h0M1228.7 1122.2h0M1438.5 1065.9h0M1250.2 1038.4h0M1377.2 1053.8h0M1169.6 1006.4h0M1280.0 1116.4h0M1269.0 1107.5h0M1188.1 1137.9h0M1367.7 1108.8h0M1236.5 1120.0h0M1393.4 1109.6h0M1282.4 1109.7h0M1443.7 1066.6h0M1312.8 1116.5h0M1409.1 1056.6h0M1301.2 1048.2h0M1429.8 1098.1h0M1316.4 1048.2h0M1235.3 1031.6h0M1247.8 1039.2h0M1169.3 1134.5h0M1203.0 1012.9h0M1287.7 1036.5h0M1437.7 1098.3h0M1398.1 1101.6h0M1356.5 1055.1h0M1276.5 1115.1h0M1138.4 1089.2h0M1298.9 1046.1h0M1202.4 1129.9h0M1421.4 1093.2h0M1137.7 1051.7h0M1183.9 1013.3h0M1410.1 1058.8h0M1387.9 1055.5h0M1138.8 1010.7h0M1315.0 1043.5h0M1293.3 1039.9h0M1363.4 1115.2h0M1447.2 1090.0h0M1393.1 1058.5h0M1407.5 1060.7h0M1374.7 1055.9h0M1433.8 1060.9h0M1214.4 1116.5h0M1313.4 1113.4h0M1194.5 1119.1h0M1207.0 1115.0h0M1263.8 1035.0h0M1183.8 980.3h0M1274.3 1105.1h0M1213.0 1009.5h0M1176.7 1011.2h0M1373.2 1101.1h0M1230.4 1025.8h0M1315.9 1049.8h0M1335.0 1046.1h0M1183.9 1014.5h0M1412.3 1094.8h0M1244.4 1108.3h0M1403.8 1057.3h0M1317.6 1036.9h0M1308.0 1040.1h0M1134.4 1110.1h0M1339.1 1053.1h0M1403.2 1097.9h0M1436.1 1090.1h0M1421.7 1061.8h0M1195.0 1006.0h0M1140.4 1094.2h0M1353.6 1045.0h0M1312.9 1040.8h0M1313.4 1049.3h0M1393.0 1101.3h0M1456.3 1071.3h0M1179.8 996.3h0M1211.7 1135.7h0M1341.2 1103.5h0M1383.8 1102.2h0M1314.5 1104.7h0M1140.4 1031.7h0M1338.4 1103.6h0M1181.2 1012.2h0M1211.8 1006.3h0M1160.4 1000.3h0M1299.6 1040.6h0M1314.2 1119.4h0M1335.4 1048.3h0M1215.9 1025.1h0M1356.6 1102.5h0M1202.3 1125.0h0M1358.7 1045.4h0M1365.8 1100.0h0M1271.3 1042.8h0M1387.0 1057.8h0M1239.5 1108.1h0M1264.5 1105.7h0M1313.7 1047.9h0M1233.1 1113.3h0M1225.3 1028.6h0M1179.3 993.3h0M1243.2 1038.4h0M1389.0 1057.6h0M1409.2 1100.4h0M1148.2 1123.8h0M1130.8 1031.3h0M1284.5 1030.0h0M1196.1 998.4h0M1455.8 1080.8h0M1131.8 1040.2h0M1446.5 1067.1h0M1351.3 1044.9h0M1230.1 1018.3h0M1307.1 1103.4h0M1333.6 1043.1h0M1384.5 1105.2h0M1452.2 1086.6h0M1245.6 1017.9h0M1146.5 1014.4h0M1457.6 1072.4h0M1131.4 1056.0h0M1241.9 1020.6h0M1459.9 1078.1h0M1358.6 1052.3h0M1292.7 1036.7h0M1198.6 1133.4h0M1335.8 1052.4h0M1395.2 1098.3h0M1348.4 1114.5h0M1170.6 1011.3h0M1357.3 1049.1h0M1180.2 1125.1h0M1272.0 1123.0h0M1189.2 1119.4h0M1184.3 1121.0h0M1406.9 1096.9h0M1361.9 1115.4h0M1291.0 1034.2h0M1214.5 1116.1h0M1261.5 1118.3h0M1186.8 1147.7h0M1259.1 1115.9h0M1366.3 1054.0h0M1184.3 1125.3h0M1388.6 1052.8h0M1178.7 1143.4h0M1244.4 1037.0h0M1194.6 1136.5h0M1133.0 1044.0h0M1277.3 1119.4h0M1405.7 1052.8h0M1278.9 1044.6h0M1205.0 1016.1h0M1307.4 1047.6h0M1162.1 979.0h0M1272.0 1043.7h0M1454.7 1070.5h0M1139.5 1035.3h0M1277.6 1112.6h0M1360.2 1054.1h0M1217.0 1019.1h0M1161.2 1011.3h0M1143.4 1123.6h0M1323.9 1045.2h0M1290.9 1035.9h0M1213.1 1023.5h0M1206.1 1121.7h0M1369.4 1055.4h0M1243.8 1109.7h0M1297.7 1044.8h0M1163.7 997.9h0M1430.3 1100.6h0M1274.1 1031.2h0M1164.9 1011.3h0M1397.4 1109.2h0M1187.3 1135.6h0M1307.6 1039.0h0M1283.4 1121.2h0M1248.1 1111.6h0M1427.1 1094.7h0M1248.2 1028.8h0M1347.9 1107.0h0M1350.1 1051.0h0M1357.4 1112.1h0M1200.6 1140.2h0M1333.0 1103.1h0M1188.0 1003.2h0M1424.4 1057.6h0M1403.4 1060.2h0M1459.5 1072.9h0M1413.7 1061.7h0M1415.5 1097.1h0M1346.5 1043.3h0M1329.9 1111.6h0M1245.5 1031.7h0M1414.8 1099.0h0M1198.7 1014.6h0M1226.9 1011.2h0M1216.0 1007.4h0M1439.4 1065.9h0M1264.0 1042.5h0M1309.9 1048.3h0M1395.0 1055.8h0M1344.9 1116.0h0M1450.2 1068.4h0M1133.3 1056.6h0M1168.4 1008.0h0M1397.3 1101.4h0M1309.3 1110.8h0M1150.8 1015.3h0M1282.8 1105.9h0M1233.1 1118.4h0M1227.4 1025.9h0M1436.6 1061.7h0M1311.7 1106.9h0M1343.0 1052.6h0M1342.5 1049.4h0M1454.4 1084.3h0M1314.1 1036.2h0M1252.4 1035.3h0M1264.0 1038.1h0M1149.4 1118.3h0M1221.1 1119.5h0M1255.4 1111.7h0M1434.3 1096.2h0M1179.5 1150.1h0M1397.5 1058.5h0M1125.6 1107.3h0M1355.1 1106.7h0M1369.7 1110.1h0M1177.2 995.3h0M1148.0 1129.3h0M1154.3 1132.2h0M1423.2 1098.4h0M1325.3 1048.0h0M1326.7 1042.4h0M1308.1 1044.4h0M1362.7 1111.4h0M1362.6 1055.9h0M1165.5 998.9h0M1150.9 995.8h0M1272.6 1108.9h0M1287.4 1046.1h0M1318.6 1050.1h0M1222.2 1131.0h0M1197.8 985.3h0M1319.6 1120.2h0M1346.1 1042.5h0M1424.1 1057.2h0M1342.3 1049.9h0M1226.1 1113.7h0M1153.8 1120.5h0M1183.3 1121.8h0M1327.8 1051.4h0M1445.0 1086.8h0M1426.5 1100.5h0M1383.7 1056.7h0M1182.8 1147.4h0M1317.2 1119.8h0M1299.6 1046.5h0M1455.5 1071.6h0M1410.3 1060.6h0M1302.3 1045.5h0M1133.5 1083.3h0M1222.0 1015.0h0M1197.9 1116.6h0M1314.8 1038.1h0M1189.9 988.5h0M1145.5 1021.8h0M1222.5 1021.6h0M1134.8 1052.8h0M1251.6 1028.5h0M1264.2 1114.0h0M1363.2 1106.2h0M1357.7 1100.6h0M1404.6 1096.1h0M1374.0 1113.0h0M1264.8 1027.4h0M1436.1 1092.6h0M1269.5 1121.7h0M1278.5 1112.4h0M1309.9 1047.8h0M1210.5 1112.8h0M1198.4 993.3h0M1350.0 1054.3h0M1350.6 1109.2h0M1364.6 1099.7h0M1391.5 1098.1h0M1253.3 1125.3h0M1398.8 1097.3h0M1418.3 1094.6h0M1430.7 1100.8h0M1426.0 1063.2h0M1395.1 1057.7h0M1389.4 1100.8h0M1263.3 1125.1h0M1335.5 1051.5h0M1187.7 1136.2h0M1199.6 1127.6h0M1316.9 1107.0h0M1130.0 1098.3h0M1422.5 1098.8h0M1178.8 1129.0h0M1447.9 1085.9h0M1142.5 1019.7h0M1289.9 1107.2h0M1323.8 1050.3h0M1370.9 1056.5h0M1342.6 1116.6h0M1420.5 1093.2h0M1177.3 1133.0h0M1405.5 1056.6h0M1149.1 1109.2h0M1288.1 1122.5h0M1392.0 1099.3h0M1339.1 1107.1h0M1324.6 1048.6h0M1380.7 1112.7h0M1435.7 1090.3h0M1293.8 1036.8h0M1429.9 1064.1h0M1416.5 1096.2h0M1326.4 1048.8h0M1338.5 1116.0h0M1247.3 1033.6h0M1455.5 1084.9h0M1449.7 1068.1h0M1162.5 993.6h0M1151.3 1127.3h0M1241.7 1111.3h0M1176.1 978.7h0M1338.4 1113.7h0M1405.4 1099.1h0M1306.0 1049.1h0M1434.9 1064.2h0M1410.5 1054.6h0M1132.2 1051.0h0M1338.1 1115.9h0M1399.7 1051.5h0M1140.5 1039.2h0M1133.0 1015.9h0M1450.1 1067.5h0M1372.5 1052.4h0M1193.7 996.8h0M1194.5 1017.3h0M1232.7 1034.8h0M1157.6 1012.2h0M1438.8 1065.5h0M1146.4 1104.4h0M1150.6 988.6h0M1432.6 1062.2h0M1149.5 1126.0h0M1207.5 1114.9h0M1286.8 1040.0h0M1209.1 1115.9h0M1130.2 1035.4h0M1275.0 1114.9h0M1210.6 1015.2h0M1376.9 1103.0h0M1328.5 1039.8h0M1339.5 1105.0h0M1319.0 1109.0h0M1379.9 1051.1h0M1231.6 1108.8h0M1260.3 1105.9h0M1188.1 1133.8h0M1355.2 1110.2h0M1327.0 1046.7h0M1219.1 1018.4h0M1451.7 1069.1h0M1333.9 1047.7h0M1456.3 1081.0h0M1428.3 1101.8h0M1409.3 1099.2h0M1302.7 1037.1h0M1167.7 1127.9h0M1272.4 1108.1h0M1328.8 1041.4h0M1160.3 1144.8h0M1388.7 1098.5h0M1315.4 1041.5h0M1389.1 1056.2h0M1155.4 1133.0h0M1145.1 1122.7h0M1184.8 1123.9h0M1130.5 1037.0h0M1189.5 1126.4h0M1152.8 1119.4h0M1169.0 1006.1h0M1279.7 1038.4h0M1152.2 987.8h0M1267.4 1121.8h0M1324.2 1103.9h0M1196.0 1143.1h0M1450.5 1068.9h0M1222.1 1026.5h0M1458.6 1072.7h0M1153.9 1116.8h0M1402.8 1059.4h0M1139.1 1008.3h0M1246.1 1026.0h0M1202.1 1139.4h0M1412.0 1056.4h0M1389.5 1103.5h0M1160.8 1134.1h0M1287.8 1105.5h0M1250.9 1123.0h0M1457.0 1080.4h0M1266.4 1111.1h0M1151.5 986.2h0M1251.0 1122.9h0M1297.4 1121.4h0M1128.2 1112.6h0M1229.0 1033.2h0M1420.6 1098.4h0M1325.0 1108.3h0M1309.3 1047.1h0M1449.8 1087.0h0M1155.1 1117.6h0M1283.0 1042.3h0M1199.1 1009.0h0M1165.2 989.3h0M1159.1 1128.5h0M1196.1 1122.6h0M1248.1 1038.3h0M1439.2 1065.3h0M1322.6 1050.6h0M1414.0 1096.5h0M1414.1 1059.7h0M1388.1 1099.5h0M1454.2 1071.1h0M1297.3 1110.5h0M1281.7 1106.7h0M1270.8 1121.4h0M1210.3 1013.2h0M1214.8 1132.5h0M1203.3 1135.8h0M1288.9 1046.4h0M1309.1 1106.9h0M1210.4 1114.0h0M1313.8 1108.9h0M1223.2 1113.3h0M1349.2 1112.8h0M1384.3 1057.1h0M1348.9 1115.0h0M1272.6 1044.2h0M1141.3 1098.0h0M1137.5 1088.2h0M1241.7 1117.7h0M1198.3 1123.6h0M1400.8 1055.8h0M1445.4 1067.1h0M1323.0 1110.2h0M1212.7 1011.7h0M1180.3 979.8h0M1186.2 997.0h0M1293.8 1107.0h0M1379.1 1048.0h0M1432.9 1063.5h0M1283.9 1039.0h0M1356.5 1049.6h0M1401.0 1059.0h0M1209.6 1113.8h0M1195.8 998.6h0M1373.8 1099.6h0M1243.6 1017.3h0M1279.4 1106.8h0M1217.5 1020.4h0M1354.8 1103.3h0M1168.0 986.7h0M1184.2 1142.1h0M1181.7 987.7h0M1139.4 1100.9h0M1263.2 1105.7h0M1376.4 1098.7h0M1219.5 1112.0h0M1173.5 1152.9h0M1456.2 1071.9h0M1128.5 1062.0h0M1446.8 1086.6h0M1258.0 1106.9h0M1144.3 1031.8h0M1137.6 1119.5h0M1283.3 1039.6h0M1404.6 1053.2h0M1445.7 1067.1h0M1445.4 1065.2h0M1292.8 1104.4h0M1257.5 1107.5h0M1450.3 1069.0h0M1385.9 1053.1h0M1370.6 1101.6h0M1238.7 1112.7h0M1283.4 1116.6h0M1173.0 1010.4h0M1298.7 1034.6h0M1194.0 994.5h0M1219.8 1025.7h0M1361.3 1045.8h0M1177.1 1000.9h0M1237.0 1036.3h0M1294.4 1107.6h0M1454.9 1082.3h0M1247.7 1039.0h0M1283.3 1117.6h0M1151.2 987.8h0M1245.8 1122.8h0M1218.9 1008.8h0M1226.4 1108.7h0M1320.3 1049.9h0M1189.6 1142.5h0M1229.1 1030.2h0M1240.7 1017.5h0M1130.5 1048.9h0M1329.7 1044.3h0M1268.6 1028.2h0M1194.4 1141.5h0M1181.8 1140.5h0M1241.1 1107.6h0M1298.9 1110.1h0M1418.6 1059.0h0M1287.8 1115.7h0M1365.8 1100.9h0M1343.8 1111.9h0M1184.7 1120.4h0M1450.4 1085.1h0M1326.8 1046.5h0M1388.7 1111.7h0M1345.9 1107.0h0M1175.8 981.6h0M1451.4 1084.2h0M1334.7 1050.6h0M1390.0 1097.4h0M1386.2 1106.0h0M1174.5 988.7h0M1193.3 1006.4h0M1182.0 1012.6h0M1196.1 1009.2h0M1238.4 1035.9h0M1260.2 1039.4h0M1140.0 1092.2h0M1282.2 1036.8h0M1451.3 1083.9h0M1190.5 987.7h0M1153.0 1132.1h0M1404.5 1058.3h0M1242.9 1113.0h0M1361.6 1047.5h0M1325.8 1048.3h0M1202.8 1115.2h0M1259.6 1033.3h0M1159.6 1122.8h0M1218.0 1026.6h0M1459.8 1073.0h0M1354.9 1107.7h0M1308.6 1043.9h0M1235.6 1026.8h0M1391.0 1109.7h0M1327.7 1046.6h0M1179.5 1140.4h0M1251.1 1023.2h0M1271.2 1034.9h0M1266.4 1029.0h0M1195.3 1005.0h0M1208.5 1013.0h0M1436.7 1092.2h0M1403.7 1108.1h0M1133.5 1106.5h0M1363.6 1108.0h0M1194.4 1136.2h0M1205.5 1115.9h0M1203.9 1115.8h0M1127.8 1094.3h0M1429.3 1063.2h0M1165.2 1143.4h0M1176.1 992.1h0M1332.8 1047.7h0M1195.5 1015.7h0M1295.3 1035.0h0M1223.0 1017.6h0M1347.6 1105.7h0M1431.8 1100.8h0M1391.4 1056.6h0M1194.2 1123.5h0M1279.5 1044.5h0M1322.7 1105.6h0M1168.2 1136.8h0M1308.9 1119.4h0M1380.7 1111.8h0M1313.8 1104.3h0M1233.0 1032.8h0M1216.8 1025.4h0M1311.4 1039.7h0M1368.0 1112.9h0M1161.9 1148.1h0M1152.7 1016.2h0M1184.8 1143.6h0M1172.8 1010.6h0M1415.0 1059.0h0M1245.5 1028.8h0M1440.2 1065.8h0M1364.2 1107.3h0M1219.1 1025.2h0M1312.7 1110.5h0M1325.2 1043.0h0M1450.1 1068.7h0M1302.9 1035.9h0M1150.0 989.1h0M1316.8 1049.4h0M1249.8 1117.1h0M1333.0 1105.3h0M1220.3 1130.0h0M1361.8 1111.8h0M1132.4 1085.3h0M1353.3 1112.4h0M1189.0 1014.4h0M1402.6 1101.7h0M1308.9 1108.2h0M1185.3 1139.2h0M1291.1 1105.5h0M1203.4 1002.5h0M1397.5 1059.0h0M1269.9 1032.5h0M1207.8 1014.0h0M1413.0 1095.0h0M1171.9 991.8h0M1344.2 1052.3h0M1410.5 1056.6h0M1402.6 1098.4h0M1372.9 1105.0h0M1333.4 1117.2h0M1451.4 1085.7h0M1166.5 1002.1h0M1352.8 1053.7h0M1191.8 1129.5h0M1383.0 1055.5h0M1164.0 1004.7h0M1217.0 1111.5h0M1296.9 1035.3h0M1159.7 1126.3h0M1245.1 1028.9h0M1149.2 1118.3h0M1217.2 1124.0h0M1146.9 1125.7h0M1392.6 1099.7h0M1168.2 978.6h0M1352.7 1047.6h0M1395.8 1055.1h0M1417.1 1057.4h0M1316.1 1116.4h0M1174.5 996.1h0M1241.5 1038.2h0M1273.6 1109.7h0M1197.1 1002.6h0M1133.8 1044.2h0M1247.1 1107.2h0M1146.0 1119.3h0M1340.7 1102.7h0M1174.9 991.9h0M1280.1 1105.0h0M1442.9 1066.8h0M1394.9 1099.8h0M1276.1 1111.0h0M1164.8 1005.0h0M1126.0 1036.1h0M1404.5 1098.1h0M1241.8 1106.9h0M1270.1 1032.9h0M1354.7 1116.2h0M1328.4 1109.7h0M1194.1 1120.9h0M1429.8 1091.9h0M1342.6 1112.5h0M1174.0 1123.8h0M1267.9 1040.3h0M1261.9 1106.3h0M1301.8 1040.1h0M1137.1 1054.9h0M1387.0 1106.8h0M1277.7 1034.2h0M1150.7 1007.6h0M1183.0 1008.0h0M1171.6 1131.1h0M1167.1 1125.3h0M1315.6 1042.0h0M1325.5 1049.3h0M1379.2 1051.2h0M1413.9 1102.5h0M1267.8 1043.4h0M1223.6 1013.0h0M1388.1 1107.1h0M1269.2 1109.1h0M1129.7 1109.1h0M1291.7 1108.1h0M1210.1 1014.3h0M1228.8 1030.6h0M1444.4 1088.9h0M1203.7 1014.1h0M1332.5 1046.4h0M1382.0 1057.1h0M1315.1 1117.3h0M1397.4 1056.8h0M1389.0 1098.0h0M1252.9 1029.9h0M1386.5 1097.8h0M1260.8 1031.8h0M1377.3 1051.7h0M1141.6 1006.1h0M1197.5 1140.2h0M1381.9 1055.5h0M1259.7 1028.9h0M1299.3 1109.2h0M1204.1 1018.9h0M1366.1 1103.0h0M1452.0 1070.1h0M1199.6 1014.5h0M1296.4 1043.4h0M1405.0 1056.8h0M1296.4 1111.8h0M1437.0 1065.5h0M1194.6 1118.3h0M1222.4 1109.9h0M1360.7 1054.7h0M1442.0 1088.5h0M1169.3 1123.3h0M1442.0 1066.7h0M1143.5 1023.2h0M1167.5 1132.9h0M1400.1 1107.7h0M1272.1 1035.7h0M1261.5 1040.4h0M1174.9 994.2h0M1430.7 1092.7h0M1193.7 1016.2h0M1400.1 1058.2h0M1190.6 1120.7h0M1444.6 1065.1h0M1262.4 1036.3h0M1204.7 1123.2h0M1307.5 1112.5h0M1406.0 1059.4h0M1196.2 1120.1h0M1425.8 1062.1h0M1260.7 1031.1h0M1290.1 1107.6h0M1405.3 1099.2h0M1439.1 1089.7h0M1309.7 1104.7h0M1415.9 1056.8h0M1251.5 1122.4h0M1252.2 1031.0h0M1314.9 1037.9h0M1265.3 1107.4h0M1370.0 1099.9h0M1439.9 1066.6h0M1367.2 1048.9h0M1267.6 1116.9h0M1418.0 1062.1h0M1286.0 1035.0h0M1239.3 1037.1h0M1216.7 1022.6h0M1195.8 997.0h0M1166.1 1137.4h0M1132.3 1104.7h0M1207.0 1020.7h0M1417.9 1059.2h0M1321.3 1107.3h0M1276.1 1033.8h0M1158.8 999.8h0M1264.3 1110.0h0M1449.4 1067.4h0M1130.6 1080.4h0M1221.7 1006.5h0M1169.4 1143.5h0M1288.6 1122.9h0M1394.0 1057.8h0M1309.0 1120.5h0M1409.1 1101.3h0M1363.5 1111.0h0M1182.5 1006.0h0M1448.2 1067.3h0M1223.7 1126.8h0M1456.6 1082.0h0M1181.4 1123.6h0M1167.3 1133.2h0M1279.7 1030.5h0M1355.1 1104.2h0M1286.2 1104.7h0M1131.6 1087.6h0M1407.2 1102.7h0M1317.6 1044.7h0M1348.3 1050.9h0M1148.3 1113.8h0M1198.1 1134.7h0M1198.0 1003.5h0M1444.1 1065.5h0M1328.1 1102.1h0M1257.8 1023.6h0M1456.1 1082.4h0M1384.6 1049.0h0M1254.5 1040.9h0M1152.1 1116.3h0M1293.6 1115.1h0M1273.0 1119.6h0M1193.1 1002.7h0M1357.1 1100.4h0M1206.7 995.4h0M1331.6 1047.1h0M1224.4 1121.3h0M1419.8 1062.4h0M1389.3 1051.7h0M1382.4 1104.2h0M1340.7 1051.8h0M1165.3 997.8h0M1145.9 1031.4h0M1188.1 1146.9h0M1336.8 1102.7h0M1267.3 1105.7h0M1251.9 1038.5h0M1175.4 1127.9h0M1455.3 1070.9h0M1247.1 1106.7h0M1454.7 1070.6h0M1233.3 1027.1h0M1167.2 1125.1h0M1141.7 1106.3h0M1340.1 1101.6h0M1428.3 1098.8h0M1127.0 1067.8h0M1420.7 1061.2h0M1195.0 1118.3h0M1281.1 1108.4h0M1200.8 1117.4h0M1368.8 1100.8h0M1141.9 1044.2h0M1409.6 1100.9h0M1300.3 1107.1h0M1306.1 1117.1h0M1224.1 1024.4h0M1141.4 1030.3h0M1411.6 1107.6h0M1392.5 1124.1h0M1249.0 1005.0h0M1378.1 1036.2h0M1348.4 1117.8h0M1409.6 1110.0h0M1409.8 1042.3h0M1407.7 1109.6h0M1206.8 1142.0h0M1265.1 1153.0h0M1196.7 965.3h0M1324.5 1009.7h0M1203.1 960.4h0M1405.5 1047.3h0M1442.2 1110.3h0M1409.6 1111.4h0M1369.0 1126.0h0M1333.5 1130.6h0M1435.8 1112.1h0M1203.9 978.7h0M1146.7 977.7h0M1452.4 1064.5h0M1180.7 1186.5h0M1242.6 1148.2h0M1288.7 1017.9h0M1201.3 982.0h0M1165.7 961.9h0M1381.1 1047.4h0M1307.0 1025.1h0M1415.0 1052.4h0M1405.8 1116.5h0M1251.0 1127.0h0M1456.5 1084.7h0M1198.8 1178.7h0M1176.5 1178.2h0M1355.3 1131.9h0M1201.2 958.3h0M1223.1 1173.2h0M1267.2 1127.6h0M1306.4 1025.1h0M1190.3 981.2h0M1453.2 1090.4h0M1216.3 1143.0h0M1323.6 1033.8h0M1292.3 1124.9h0M1161.0 1154.6h0M1157.6 971.2h0M1279.9 1015.7h0M1161.3 969.2h0M1222.4 1137.2h0M1289.0 1130.4h0M1219.0 942.9h0M1407.1 1052.3h0M1436.6 1060.4h0M1277.7 1129.0h0M1398.2 1117.2h0M1423.0 1105.0h0M1358.6 1032.1h0M1427.9 1050.7h0M1160.9 1165.6h0M1434.6 1058.6h0M1384.9 1116.1h0M1451.1 1056.1h0M1180.9 970.5h0M1161.7 1156.4h0M1396.0 1112.8h0M1394.4 1120.4h0M1175.0 974.3h0M1286.7 1022.4h0M1418.5 1115.1h0M1163.2 970.1h0M1373.8 1114.3h0M1416.9 1054.9h0M1340.4 1143.8h0M1398.3 1042.2h0M1425.6 1106.0h0M1351.0 1126.7h0M1340.1 1030.3h0M1334.1 1124.0h0M1157.5 969.7h0M1194.5 976.4h0M1190.4 974.4h0M1432.7 1102.3h0M1268.6 1124.8h0M1368.4 1116.9h0M1149.8 982.7h0M1354.6 1042.3h0M1372.5 1040.5h0M1262.5 1017.7h0M1252.7 1155.9h0M1324.8 1135.8h0M1179.7 976.9h0M1383.3 1113.7h0M1278.5 1132.1h0M1162.6 971.0h0M1335.1 1119.6h0M1315.6 1031.7h0M1206.1 986.9h0M1357.7 1028.9h0M1222.1 1000.8h0M1374.3 1126.7h0M1307.8 1125.3h0M1314.0 1017.0h0M1279.3 1027.2h0M1307.1 995.7h0M1168.9 973.2h0M1208.9 1138.3h0M1345.0 1129.2h0M1253.0 1131.0h0M1361.9 1117.3h0M1359.9 1118.3h0M1161.2 1160.9h0M1337.8 1121.9h0M1399.2 1112.2h0M1218.4 975.6h0M1420.8 1109.6h0M1301.2 1122.0h0M1368.3 1120.4h0M1414.5 1050.3h0M1444.9 1059.3h0M1232.8 1142.0h0M1189.3 976.1h0M1285.4 1153.3h0M1319.4 1031.4h0M1442.6 1060.4h0M1229.4 1132.4h0M1159.7 968.8h0M1278.2 1126.5h0M1350.3 1117.9h0M1300.1 1028.4h0M1226.9 1133.9h0M1454.8 1068.1h0M1346.5 1040.7h0M1250.6 1147.3h0M1331.1 1032.2h0M1454.6 1069.3h0M1157.6 955.7h0M1441.6 1098.2h0M1264.2 1017.8h0M1388.1 1044.8h0M1213.1 1156.1h0M1386.4 1034.7h0M1149.9 984.0h0M1360.6 1037.9h0M1163.4 964.5h0M1349.6 1121.9h0M1333.4 1022.0h0M1238.5 996.4h0M1262.8 1022.6h0M1448.0 1096.7h0M1197.5 978.4h0M1204.2 981.8h0M1347.3 1003.5h0M1410.9 1050.1h0M1376.5 1032.5h0M1450.2 1065.3h0M1450.1 1059.7h0M1397.8 1047.2h0M1249.3 1127.4h0M1356.3 1037.0h0M1295.0 1165.6h0M1404.3 1112.6h0M1331.6 1027.8h0M1452.6 1089.6h0M1319.0 1140.4h0M1246.6 1004.2h0M1335.7 1032.5h0M1217.5 991.1h0M1312.2 1125.5h0M1251.1 1155.3h0M1211.4 1141.7h0M1161.8 1161.4h0M1438.6 1061.6h0M1268.8 1127.8h0M1352.7 1034.9h0M1149.2 1137.7h0M1267.3 1126.2h0M1169.3 1175.2h0M1324.0 1125.2h0M1348.2 1118.9h0M1258.0 1127.7h0M1179.7 1206.1h0M1401.8 1049.3h0M1456.3 1089.8h0M1170.7 964.5h0M1261.2 1127.5h0M1361.0 1116.9h0M1185.9 976.7h0M1315.4 1122.5h0M1206.6 1141.9h0M1147.1 1138.5h0M1350.5 1118.2h0M1284.0 1028.6h0M1415.6 1125.0h0M1376.1 1118.2h0M1310.2 1016.0h0M1291.4 1127.2h0M1224.1 1147.2h0M1298.5 1032.0h0M1344.2 1026.8h0M1290.2 1126.0h0M1431.0 1030.7h0M1165.7 1156.9h0M1440.9 1104.8h0M1317.4 1123.4h0M1264.5 1125.9h0M1236.2 1011.6h0M1225.3 997.2h0M1277.8 1159.1h0M1333.4 1137.5h0M1448.3 1054.9h0M1279.6 1025.3h0M1379.6 1045.4h0M1285.3 1012.2h0M1145.8 978.0h0M1389.1 1048.0h0M1275.4 1024.5h0M1254.1 1126.6h0M1365.3 1038.5h0M1149.2 1169.0h0M1165.1 1178.3h0M1242.6 1016.8h0M1202.7 981.0h0M1224.4 1005.2h0M1203.6 984.9h0M1409.1 1052.7h0M1418.1 1053.9h0M1159.2 1158.9h0M1328.1 1135.7h0M1429.3 1107.1h0M1364.8 1031.2h0M1308.2 1031.0h0M1443.6 1063.5h0M1455.6 1065.6h0M1259.4 1018.2h0M1439.1 1054.8h0M1338.8 1021.3h0M1434.2 1059.4h0M1373.8 1033.2h0M1298.8 1125.1h0M1320.2 1036.9h0M1313.9 1130.7h0M1292.1 1123.1h0M1212.5 992.5h0M1173.8 1161.7h0M1351.5 1024.6h0M1435.6 1059.1h0M1254.2 1015.2h0M1360.9 1131.9h0M1339.0 1126.9h0M1170.5 971.9h0M1179.3 969.5h0M1379.4 1042.7h0M1347.4 1122.1h0M1259.8 1135.8h0M1188.4 972.6h0M1384.9 1028.4h0M1373.0 1118.7h0M1199.3 979.7h0M1295.4 1032.0h0M1459.3 1070.6h0M1272.4 1129.1h0M1236.4 1002.1h0M1421.1 1105.5h0M1429.4 1103.3h0M1403.5 1120.7h0M1438.6 1055.9h0M1390.4 1117.3h0M1423.8 1107.1h0M1443.3 1063.5h0M1432.8 1049.7h0M1424.4 1110.9h0M1247.7 1132.7h0M1399.9 1048.0h0M1389.4 1040.0h0M1319.8 1130.3h0M1222.2 1144.7h0M1257.8 1019.4h0M1156.5 975.8h0M1155.0 977.8h0M1214.0 989.4h0M1179.0 970.9h0M1263.7 1128.3h0M1350.5 1038.6h0M1225.1 931.1h0M1226.8 997.3h0M1163.2 972.0h0M1209.2 985.6h0M1242.6 1132.9h0M1428.7 1115.5h0M1281.5 1019.8h0M1459.8 1066.2h0M1405.1 1110.5h0M1459.6 1057.9h0M1294.9 1024.5h0M1238.4 988.4h0M1429.0 1109.0h0M1354.7 1032.6h0M1336.5 1131.8h0M1424.5 1053.3h0M1193.3 981.4h0M1418.8 1050.8h0M1405.6 1121.5h0M1156.9 972.0h0M1329.8 1123.0h0M1189.0 979.5h0M1380.6 1115.0h0M1383.5 1047.2h0M1168.2 1176.3h0M1369.0 1136.3h0M1147.2 985.8h0M1308.0 1032.4h0M1229.1 1138.3h0M1278.0 1138.2h0M1397.2 1113.0h0M1222.5 1149.5h0M1229.8 1130.9h0M1218.8 997.0h0M1187.0 980.4h0M1334.7 1120.2h0M1378.6 1042.5h0M1423.8 1104.9h0M1250.5 994.1h0M1220.3 994.0h0M1251.1 1126.5h0M1215.7 994.4h0M1307.0 1145.5h0M1329.9 1030.3h0M1192.6 1158.3h0M1443.3 1097.4h0M1172.5 1159.4h0M1244.0 1140.7h0M1335.9 1025.1h0M1353.7 1125.2h0M1352.4 1040.1h0M1439.3 1048.0h0M1227.4 969.5h0M1346.9 1118.0h0M1269.6 1016.9h0M1453.3 1053.7h0M1436.4 1048.1h0M1369.2 1045.1h0M1338.7 1121.5h0M1387.9 1113.0h0M1367.4 1044.6h0M1289.6 1009.9h0M1156.9 1204.5h0M1425.7 1129.4h0M1159.5 969.4h0M1196.5 1166.1h0M1286.0 1025.8h0M1415.5 1109.6h0M1149.9 1152.1h0M1158.4 1155.6h0M1457.2 1099.2h0M1276.8 1019.7h0M1173.5 971.5h0M1201.1 1152.5h0M1371.9 1116.1h0M1233.2 1000.6h0M1241.9 996.0h0M1186.4 1153.6h0M1357.5 1118.6h0M1422.0 1051.9h0M1288.2 1134.9h0M1386.9 1041.7h0M1421.0 1108.8h0M1291.4 1021.8h0M1228.3 978.2h0M1236.3 1001.1h0M1335.4 1120.0h0M1227.8 1008.0h0M1269.6 1144.9h0M1207.7 1140.8h0M1288.1 1027.7h0M1401.7 1114.2h0M1424.6 1055.0h0M1357.8 1039.8h0M1280.0 1025.1h0M1227.7 1135.1h0M1324.4 1026.7h0M1421.7 1115.4h0M1291.6 1008.5h0M1207.8 973.1h0M1175.2 1160.2h0M1161.8 972.9h0M1365.7 1119.0h0M1321.4 1029.2h0M1450.4 1062.4h0M1149.8 1136.4h0M1280.1 1020.2h0M1224.4 997.0h0M1402.0 1113.3h0M1222.4 1002.1h0M1420.4 1106.2h0M1432.3 1053.6h0M1344.1 1120.0h0M1257.3 1137.5h0M1372.9 1045.3h0M1357.9 1016.7h0M1446.5 1116.9h0M1424.2 1104.5h0M1396.5 1112.1h0M1180.4 1153.2h0M1160.7 970.9h0M1240.7 1008.8h0M1410.9 1049.8h0M1441.0 1097.2h0M1324.6 1036.5h0M1418.0 1139.0h0M1150.4 981.4h0M1263.2 996.5h0M1292.1 1123.0h0M1292.7 995.9h0M1427.8 1055.2h0M1451.5 1092.9h0M1337.3 1025.0h0M1174.1 1185.5h0M1154.7 975.2h0M1333.7 1125.4h0M1172.3 1156.2h0M1399.4 1050.7h0M1354.7 1029.5h0M1164.4 973.2h0M1286.4 1028.2h0M1288.4 1139.1h0M1271.4 1023.1h0M1363.1 1036.3h0M1181.8 972.8h0M1147.2 1156.0h0M1282.6 1024.2h0M1254.4 1014.3h0M1190.5 980.6h0M1190.2 975.0h0M1191.3 971.4h0M1323.6 1027.0h0M1313.1 1017.4h0M1324.7 1031.9h0M1160.4 959.2h0M1268.9 1025.4h0M1284.3 1148.8h0M1290.3 1161.7h0M1180.7 1154.4h0M1335.6 1038.0h0M1207.0 1165.4h0M1275.1 1137.4h0M1263.7 1146.6h0M1252.5 1131.5h0M1213.8 1156.3h0M1214.8 1136.9h0M1388.0 1015.3h0M1430.2 1044.2h0M1288.0 1147.6h0M1152.5 978.8h0M1315.0 1122.6h0M1167.7 973.7h0M1210.4 1143.9h0M1228.9 1003.4h0M1222.1 996.1h0M1277.3 1130.0h0M1159.1 965.5h0M1311.5 1150.2h0M1238.9 1008.9h0M1445.8 1099.2h0M1379.5 1043.9h0M1212.0 1156.3h0M1321.7 1122.4h0M1393.9 1123.1h0M1318.6 1032.4h0M1371.7 1021.5h0M1366.2 1119.0h0M1306.6 1154.7h0M1177.2 1188.5h0M1262.2 1022.3h0M1357.6 1040.7h0M1208.9 1137.9h0M1436.8 1057.6h0M1229.0 1009.5h0M1181.4 976.0h0M1244.0 1156.6h0M1306.2 1126.3h0M1409.6 1050.5h0M1216.9 989.1h0M1455.0 1089.0h0M1234.7 1141.3h0M1451.1 1090.8h0M1426.7 1055.3h0M1241.6 1010.6h0M1212.2 988.7h0M1311.2 1121.4h0M1177.6 974.4h0M1448.2 1096.6h0M1459.6 1072.6h0M1201.7 1163.5h0M1252.5 1132.3h0M1332.9 1130.8h0M1322.7 1036.0h0M1276.5 1178.2h0M1421.6 1105.0h0M1298.5 1129.0h0M1348.8 1123.9h0M1351.1 1038.9h0M1444.4 1059.0h0M1445.4 1064.3h0M1149.0 985.2h0M1298.8 1010.1h0M1324.4 1148.0h0M1239.0 976.2h0M1430.6 1104.2h0M1428.6 1057.3h0M1317.0 1035.3h0M1452.7 1068.1h0M1417.5 1044.3h0M1264.4 1005.2h0M1218.6 1134.2h0M1164.3 953.9h0M1229.7 1005.3h0M1154.0 1149.7h0M1410.7 1112.3h0M1336.1 1122.5h0M1440.8 1097.6h0M1200.0 1206.9h0M1152.2 971.7h0M1410.6 1050.8h0M1333.1 1123.4h0M1327.8 1138.6h0M1237.1 1132.1h0M1247.7 996.6h0M1160.8 1172.5h0M1299.0 1019.4h0M1395.9 1111.3h0M1287.7 1024.0h0M1426.8 1039.2h0M1269.3 1137.5h0M1387.7 1113.9h0M1350.7 1017.6h0M1184.4 978.4h0M1155.7 974.2h0M1334.2 1039.3h0M1185.2 973.4h0M1235.3 1133.5h0M1418.0 1053.9h0M1395.0 1044.9h0M1435.6 1057.9h0M1255.0 1020.6h0M1259.5 1172.7h0M1415.2 1108.1h0M1163.7 1199.7h0M1156.6 973.6h0M1392.6 1120.0h0M1395.0 1043.2h0M1413.6 1054.1h0M1407.3 1109.2h0M1321.7 1026.4h0M1299.7 1138.9h0M1207.5 1140.3h0M1181.0 1157.6h0M1427.0 1113.3h0M1294.5 1028.1h0M1148.5 1154.8h0M1156.8 1147.1h0M1452.1 1066.8h0M1437.3 1057.5h0M1437.3 1099.3h0M1353.9 1037.2h0M1272.7 1138.6h0M1350.2 1122.1h0M1242.8 1010.5h0M1377.9 1045.4h0M1458.1 1052.8h0M1370.0 1044.2h0M1398.4 1112.6h0M1306.7 1131.7h0M1405.8 1036.7h0M1344.4 1144.1h0M1331.0 1119.7h0M1163.4 1161.4h0M1266.7 1023.1h0M1268.1 1013.9h0M1189.3 975.6h0M1167.6 1177.1h0M1429.1 1104.2h0M1432.2 1111.8h0M1201.0 983.3h0M1154.6 1153.1h0M1419.8 1109.5h0M1150.4 1144.8h0M1157.0 1178.8h0M1164.2 1163.1h0M1145.5 992.9h0M1293.7 1028.2h0M1364.6 1115.7h0M1267.5 1017.2h0M1262.1 1131.2h0M1196.0 1148.0h0M1270.6 1129.9h0M1191.0 980.2h0M1318.0 1034.9h0M1402.3 1113.6h0M1426.6 1055.7h0M1229.0 1135.8h0M1156.2 976.8h0M1182.4 962.6h0M1251.8 1134.2h0M1302.3 1123.6h0M1189.2 975.9h0M1235.6 1010.9h0M1335.2 1031.7h0M1202.1 983.1h0M1406.0 1050.4h0M1185.1 1153.1h0M1359.8 1037.8h0M1310.9 1123.6h0M1413.8 1049.6h0M1360.5 1042.0h0M1274.0 1012.1h0M1180.7 976.1h0M1368.4 1125.2h0M1311.1 1142.7h0M1276.3 1127.8h0M1275.8 1125.2h0M1285.5 1132.5h0M1153.7 968.3h0M1283.5 1026.3h0M1381.1 1038.9h0M1234.6 991.8h0M1397.7 1111.9h0M1189.6 1157.8h0M1235.4 1007.6h0M1410.0 1111.7h0M1381.4 1115.0h0M1206.0 1139.6h0M1374.2 1043.4h0M1424.1 1056.1h0M1422.8 1042.2h0M1327.0 1025.4h0M1229.5 982.0h0M1172.7 956.2h0M1297.9 1122.4h0M1458.1 1094.2h0M1180.5 975.4h0M1390.9 1033.3h0M1424.6 1054.1h0M1341.2 1119.9h0M1280.3 981.8h0M1211.2 1146.0h0M1298.1 1013.0h0M1280.8 1023.4h0M1172.0 971.7h0M1446.5 1057.4h0M1152.4 970.9h0M1340.1 1122.5h0M1420.1 1051.3h0M1307.3 1011.5h0M1442.8 1112.5h0M1238.6 969.3h0M1244.8 1127.6h0M1237.3 1154.4h0M1151.7 982.1h0M1202.9 1143.9h0M1182.1 1152.0h0M1450.9 1103.6h0M1435.3 1112.5h0M1230.2 1009.8h0M1146.6 987.8h0M1369.4 1045.6h0M1273.0 1134.7h0M1153.6 971.7h0M1200.2 965.7h0M1410.9 1053.2h0M1218.4 1151.6h0M1190.7 975.1h0M1299.7 1032.6h0M1268.3 1153.1h0M1146.2 1137.0h0M1210.2 1136.9h0M1211.4 987.5h0M1381.8 1043.6h0M1177.0 974.1h0M1177.8 973.0h0M1459.1 1083.2h0M1221.4 999.9h0M1379.7 1041.6h0M1281.3 1027.2h0M1196.0 975.2h0M1156.1 975.5h0M1362.2 1119.8h0M1165.4 1164.1h0M1276.3 1143.8h0M1220.4 984.9h0M1166.4 1154.9h0M1234.7 1147.4h0M1276.0 1126.2h0M1336.3 1140.5h0M1416.5 1108.0h0M1200.5 1143.0h0M1231.3 1129.6h0M1439.4 1109.4h0M1288.0 1123.0h0M1405.4 1113.6h0M1352.8 1040.7h0M1270.9 1161.3h0M1202.9 1155.2h0M1189.8 1151.3h0M1156.2 976.4h0M1427.9 1056.2h0M1169.1 969.0h0M1218.0 1168.4h0M1195.3 980.3h0M1277.3 1023.2h0M1319.8 1127.7h0M1184.2 1159.4h0M1302.5 1029.0h0M1248.1 1182.4h0M1285.1 1029.0h0M1189.3 971.5h0M1345.5 1028.3h0M1455.4 1059.4h0M1308.4 1033.4h0M1298.7 1126.7h0M1354.5 1117.4h0M1262.0 1144.4h0M1185.6 1153.9h0M1445.2 1115.8h0M1396.7 1113.2h0M1229.3 1009.2h0M1457.2 1089.9h0M1189.3 1156.7h0M1340.9 1021.3h0M1157.2 972.3h0M1443.7 1100.1h0M1281.7 1123.8h0M1419.2 1109.3h0M1287.4 1131.8h0M1398.1 1113.2h0M1212.9 1137.8h0M1382.1 1114.8h0M1223.8 994.7h0M1316.7 1029.2h0M1183.0 1175.5h0M1220.1 1140.0h0M1188.3 1189.1h0M1367.5 1121.3h0M1389.8 1049.2h0M1189.7 1177.0h0M1201.7 961.6h0M1359.8 1023.5h0M1389.9 1044.2h0M1309.3 1128.7h0M1395.3 1111.8h0M1429.1 1049.4h0M1213.5 986.5h0M1459.0 1089.0h0M1243.1 1014.1h0M1399.1 1118.9h0M1273.6 1022.3h0M1233.1 1007.8h0M1254.1 1126.4h0M1251.8 1130.5h0M1352.3 1120.6h0M1364.2 1041.3h0M1400.6 1046.9h0M1302.7 1124.1h0M1352.5 1132.1h0M1421.6 1109.5h0M1234.0 1135.3h0M1245.3 991.5h0M1188.9 1162.2h0M1387.1 1123.2h0M1157.3 1164.4h0M1237.6 1129.3h0M1279.9 1017.4h0M1396.8 1038.2h0M1289.2 1131.3h0M1377.7 1044.1h0M1267.5 1128.2h0M1382.7 1129.0h0M1412.8 1107.6h0M1446.5 1100.2h0M1251.6 1009.2h0M1438.6 1060.9h0M1236.4 1152.5h0M1442.9 1101.1h0M1323.4 1125.4h0M1419.9 1045.7h0M1294.9 1143.8h0M1207.3 968.0h0M1150.2 1138.4h0M1272.3 1146.6h0M1382.8 1035.6h0M1346.6 1125.2h0M1151.7 1148.0h0M1313.7 1149.0h0M1288.6 1131.5h0M1262.2 1003.2h0M1207.7 989.0h0M1380.4 1040.1h0M1330.6 1133.1h0M1146.1 990.5h0M1267.8 999.9h0M1245.0 1127.8h0M1333.4 1119.4h0M1174.8 965.3h0M1191.5 1146.1h0M1312.9 1122.4h0M1307.0 1033.6h0M1182.9 1156.0h0M1331.1 1035.7h0M1201.5 1173.6h0M1431.0 1057.8h0M1451.4 1092.9h0M1377.8 1131.7h0M1360.3 1040.5h0M1150.7 1155.8h0M1181.4 967.4h0M1255.9 1126.3h0M1313.7 1010.9h0M1424.0 1032.5h0M1210.9 1150.5h0M1283.3 1145.2h0M1380.4 1047.5h0M1417.1 1111.4h0M1261.0 1128.9h0M1388.4 1121.9h0M1276.9 1128.0h0M1156.2 973.6h0M1208.6 983.3h0M1161.6 969.7h0M1335.9 1038.3h0M1246.4 1017.0h0M1431.2 1050.1h0M1360.3 1122.6h0M1288.6 1125.1h0M1420.7 1051.4h0M1286.0 1129.3h0M1317.7 1123.2h0M1458.9 1083.0h0M1356.3 1042.3h0M1437.3 1100.6h0M1220.5 1144.5h0M1290.4 1125.0h0M1323.4 1123.1h0M1237.2 1142.8h0M1368.6 1119.5h0M1412.7 1108.4h0M1233.0 1132.3h0M1214.1 993.4h0M1393.4 1113.0h0M1273.6 1151.4h0M1347.3 1118.8h0M1336.9 1134.2h0M1239.2 1012.6h0M1437.7 1116.8h0M1354.2 1037.4h0M1360.2 1134.6h0M1222.9 979.1h0M1260.8 1008.2h0M1229.5 1141.7h0M1423.4 1106.1h0M1443.0 1096.1h0M1260.3 1127.0h0M1160.5 1166.6h0M1363.3 1036.4h0M1437.8 1044.5h0M1204.6 981.8h0M1394.7 1112.4h0M1424.1 1046.3h0M1314.0 1127.0h0M1431.0 1102.9h0M1400.6 1110.6h0M1240.8 1014.8h0M1216.7 992.9h0M1272.9 1014.9h0M1310.1 1121.8h0M1288.3 1125.9h0M1174.5 1164.7h0M1308.7 1014.3h0M1349.6 1118.9h0M1391.6 1124.0h0M1245.5 998.1h0M1356.9 1036.0h0M1240.5 988.5h0M1331.4 1120.8h0M1154.7 1155.6h0M1439.3 1045.3h0M1203.6 969.8h0M1362.3 1039.3h0M1350.3 1031.8h0M1425.5 1056.2h0M1155.9 1149.0h0M1392.0 1042.5h0M1297.6 1125.5h0M1194.9 975.1h0M1219.0 1178.4h0M1376.2 1114.3h0M1324.8 1036.5h0M1272.4 1134.2h0M1163.4 966.2h0M1340.2 1150.5h0M1440.3 1041.5h0M1410.1 1108.3h0M1379.9 1032.5h0M1184.4 1159.6h0M1294.2 1124.4h0M1298.5 1134.4h0M1161.1 1153.8h0M1414.8 1109.9h0M1255.4 1001.1h0M1416.9 1122.5h0M1260.7 1006.7h0M1318.4 1023.4h0M1309.2 1132.9h0M1200.3 1142.5h0M1182.6 971.8h0M1284.6 1124.9h0M1393.0 1116.3h0M1247.1 968.0h0M1176.2 1157.9h0M1229.8 1135.8h0M1181.1 975.2h0M1259.6 1014.2h0M1154.6 959.6h0M1441.5 1061.1h0M1243.5 1011.8h0M1405.6 1111.2h0M1295.2 1023.4h0M1277.3 1015.9h0M1393.8 1039.6h0M1439.9 1105.3h0M1212.2 1148.2h0M1331.6 1030.5h0M1233.2 1158.4h0M1352.3 1133.9h0M1351.5 1033.1h0M1213.4 1139.7h0M1448.3 1101.1h0M1433.3 1046.5h0M1413.5 1116.6h0M1397.5 1114.6h0M1447.5 1057.7h0M1389.0 1048.4h0M1429.1 1104.7h0M1383.5 1041.0h0M1290.5 1141.3h0M1179.2 1161.7h0M1162.9 962.2h0M1284.5 1022.5h0M1178.6 974.5h0M1146.9 980.2h0M1384.0 1123.3h0M1459.7 1067.9h0M1351.9 1034.6h0M1273.4 1022.6h0M1451.8 1062.4h0M1372.8 1045.6h0M1440.2 1059.7h0M1433.0 1108.5h0M1310.1 1122.4h0M1392.7 1042.5h0M1451.8 1059.1h0M1160.5 967.2h0M1400.4 1111.7h0M1409.3 1049.7h0M1446.8 1064.2h0M1237.0 987.6h0M1241.7 1016.1h0M1382.3 1117.1h0M1210.8 1166.5h0M1459.3 1065.6h0M1263.3 1128.9h0M1181.3 1154.1h0M1146.7 989.3h0M1179.3 1155.1h0M1271.7 1152.9h0M1198.7 978.6h0M1313.2 1121.2h0M1371.9 1027.8h0M1290.2 1025.5h0M1305.2 1027.1h0M1239.3 1144.4h0M1296.5 1136.9h0M1273.8 1140.5h0M1252.7 1151.0h0M1277.3 1024.5h0M1349.3 1125.9h0M1362.4 1119.4h0M1389.4 1130.5h0M1417.2 1111.6h0M1262.5 1139.1h0M1451.2 1065.3h0M1307.5 1122.1h0M1364.3 1038.1h0M1377.6 1028.8h0M1426.4 1105.4h0M1357.4 1117.2h0M1183.6 1173.3h0M1440.4 1101.1h0M1332.6 1122.6h0M1193.4 1145.2h0M1366.5 1033.1h0M1410.4 1050.2h0M1321.5 1021.4h0M1293.6 1027.2h0M1194.6 1185.0h0M1411.7 1042.7h0M1177.4 966.4h0M1349.4 1042.0h0M1325.9 1126.4h0M1246.4 1005.4h0M1320.4 1126.5h0M1323.8 1123.5h0M1269.3 1131.8h0M1355.9 1038.4h0M1300.9 1123.6h0M1270.8 1142.0h0M1148.9 1150.3h0M1152.4 1143.9h0M1418.1 1110.3h0M1343.3 1127.7h0M1216.1 1141.3h0M1414.7 1110.0h0M1418.7 1052.5h0M1155.6 977.2h0M1333.0 1119.1h0M1459.1 1082.2h0M1298.2 1029.5h0M1443.7 1105.3h0M1434.2 1101.7h0M1159.6 967.3h0M1400.6 1111.9h0M1282.2 1026.0h0M1341.9 1040.5h0M1251.2 1126.4h0M1293.6 1030.8h0M1181.2 1156.2h0M1281.4 1126.3h0M1244.6 976.0h0M1404.5 1051.4h0M1365.9 1130.0h0M1369.9 1045.9h0M1239.5 1003.2h0M1389.0 1112.3h0M1275.5 1140.4h0M1380.8 1047.2h0M1418.9 1050.4h0M1154.8 1149.5h0M1365.7 1036.5h0M1236.9 1008.4h0M1455.5 1085.4h0M1163.7 1160.7h0M1268.4 1160.2h0M1451.5 1065.7h0M1425.7 1105.3h0M1420.5 1123.3h0M1388.6 1049.1h0M1428.1 1055.3h0M1376.9 1116.2h0M1270.0 990.1h0M1189.6 974.0h0M1419.1 1114.9h0M1285.8 1026.9h0M1449.8 1057.4h0M1161.1 971.9h0M1448.0 1097.3h0M1453.8 1061.3h0M1326.2 1122.4h0M1269.7 1025.5h0M1355.2 1118.2h0M1291.3 1136.9h0M1212.9 986.1h0M1451.7 1058.1h0M1391.2 1044.2h0M1271.3 1021.7h0M1172.3 1174.4h0M1169.7 959.8h0M1334.0 1119.4h0M1331.9 1121.1h0M1387.0 1039.8h0M1277.0 1137.4h0M1308.9 1126.7h0M1199.6 972.4h0M1265.0 1125.3h0M1162.2 1159.9h0M1205.8 1139.3h0M1171.3 971.2h0M1237.0 1006.6h0M1242.6 1158.4h0M1387.9 1045.2h0M1192.4 970.1h0M1252.1 1126.3h0M1224.3 989.5h0M1210.5 962.6h0M1383.0 1041.0h0M1448.1 1105.1h0M1200.6 1141.6h0M1427.7 1109.8h0M1351.0 1026.1h0M1350.0 1143.4h0M1202.4 985.8h0M1380.3 1043.9h0M1172.3 1156.7h0M1185.3 978.8h0M1358.3 1031.1h0M1165.8 970.1h0M1442.0 1097.1h0M1312.3 1127.6h0M1270.9 1125.1h0M1344.2 1020.5h0M1437.3 1102.5h0M1237.7 1136.9h0M1272.3 1008.4h0M1202.3 982.2h0M1280.6 1018.4h0M1276.7 1134.2h0M1224.8 1142.8h0M1423.8 1054.6h0M1283.3 1127.3h0M1434.8 1055.7h0M1362.6 1127.0h0M1276.9 1135.1h0M1224.0 978.5h0M1278.5 1127.3h0M1453.6 1088.3h0M1313.9 1031.6h0M1274.4 1166.7h0M1225.4 1003.7h0M1275.4 1022.0h0M1252.0 1137.9h0M1256.1 1020.9h0M1325.7 1036.0h0M1295.9 1128.7h0M1312.6 1122.9h0M1198.6 1154.1h0M1270.0 1126.4h0M1274.5 1022.3h0M1359.8 1033.5h0M1158.1 1160.2h0M1283.9 1126.2h0M1334.0 1119.3h0M1164.7 969.1h0M1426.4 1114.5h0M1261.9 1163.4h0M1395.5 1047.8h0M1216.1 1150.4h0M1195.1 1161.6h0M1379.6 1124.2h0M1419.5 1112.1h0M1339.3 1038.1h0M1396.3 1048.8h0M1252.8 1131.6h0M1158.2 1164.4h0M1380.9 1113.7h0M1180.3 946.4h0M1420.6 1106.7h0M1384.2 1112.8h0M1156.4 1177.9h0M1385.2 1048.0h0M1197.0 948.1h0M1259.2 1126.9h0M1188.0 974.5h0M1241.3 1130.0h0M1219.2 985.8h0M1262.4 971.8h0M1325.0 1034.2h0M1146.1 1130.5h0M1393.2 1113.7h0M1375.1 1042.8h0M1355.0 1039.2h0M1323.7 1156.3h0M1243.5 1128.1h0M1289.9 1026.5h0M1308.5 1033.2h0M1339.3 1024.9h0M1437.6 1100.6h0M1260.8 1018.5h0M1218.4 998.2h0M1457.8 1084.6h0M1400.7 1046.6h0M1353.7 1118.0h0M1390.8 1049.6h0M1282.4 1128.0h0M1363.4 1035.9h0M1346.5 1040.5h0M1173.0 1165.2h0M1365.6 1044.4h0M1428.3 1056.8h0M1337.9 1124.9h0M1346.2 1121.6h0M1324.6 1018.2h0M1420.7 1054.2h0M1176.3 1153.9h0M1327.2 1037.5h0M1147.8 983.4h0M1181.4 975.0h0M1306.6 1143.7h0M1338.6 1119.5h0M1346.0 1118.2h0M1443.6 1112.7h0M1220.1 987.4h0M1195.6 1149.0h0M1194.4 956.9h0M1194.3 976.6h0M1214.6 1152.5h0M1438.9 1100.4h0M1228.1 1005.8h0M1320.5 1018.9h0M1390.2 1130.1h0M1427.3 1046.1h0M1430.0 1116.8h0M1161.1 1165.6h0M1204.3 1168.9h0M1330.7 1128.8h0M1330.0 1148.1h0M1405.7 1116.4h0M1223.3 1003.3h0M1262.8 1137.9h0M1398.4 1048.9h0M1421.5 1043.0h0M1404.1 1042.0h0M1442.2 1105.0h0M1188.7 1147.8h0M1346.3 1127.8h0M1222.1 1134.8h0M1228.7 1152.4h0M1212.7 1147.0h0M1292.9 1021.6h0M1330.6 1016.9h0M1416.2 1111.5h0M1412.5 1114.5h0M1271.4 997.1h0M1442.6 1103.7h0M1173.7 1175.5h0M1246.8 1017.6h0M1302.7 1138.5h0M1296.9 1130.9h0M1196.7 962.4h0M1338.7 1038.8h0M1359.5 1118.2h0M1212.4 968.6h0M1393.3 1119.0h0M1167.3 965.4h0M1344.4 1129.5h0M1279.7 1156.4h0M1159.6 1161.1h0M1302.6 1126.7h0M1189.5 1185.0h0M1297.0 1140.5h0M1321.0 1123.8h0M1262.8 1016.8h0M1191.0 970.5h0M1212.0 1141.5h0M1275.2 1000.5h0M1157.4 975.7h0M1192.4 1152.4h0M1436.4 1058.2h0M1441.2 1060.4h0M1325.4 1134.8h0M1278.3 1163.6h0M1253.1 993.8h0M1273.7 1022.9h0M1372.2 1041.0h0M1178.0 969.0h0M1169.3 1156.5h0M1283.3 1123.5h0M1285.4 1166.1h0M1311.5 1140.7h0M1419.2 1106.6h0M1233.4 1011.7h0M1283.9 1136.3h0M1388.0 1048.5h0M1155.4 1149.4h0M1379.8 1115.7h0M1227.6 1155.9h0M1425.0 1111.2h0M1355.5 1034.8h0M1149.7 983.9h0M1239.3 1142.8h0M1214.6 1135.0h0M1311.4 1122.0h0M1346.4 1035.9h0M1153.6 1153.5h0M1281.4 1027.4h0M1264.8 1019.6h0M1222.8 999.6h0M1357.3 1044.0h0M1191.4 975.6h0M1292.0 1023.2h0M1375.6 1041.3h0M1432.6 1057.2h0M1178.2 1174.7h0M1334.9 1123.1h0M1441.5 1107.7h0M1191.4 967.1h0M1214.1 1145.6h0M1452.1 1064.3h0M1253.3 1128.6h0M1177.2 1195.7h0M1247.1 1012.4h0M1218.0 986.1h0M1504.8 1086.8h0M1542.6 1080.0h0M1499.6 1077.5h0M1514.6 1061.2h0M1536.6 1062.4h0M1521.3 1075.0h0M1466.2 1071.5h0M1512.2 1097.8h0M1475.8 1065.5h0M1475.8 1065.3h0M1565.8 1102.0h0M1562.5 1062.0h0M1519.0 1057.2h0M1492.8 1063.0h0M1586.0 1088.1h0M1506.3 1090.0h0M1450.4 1064.8h0M1471.4 1065.3h0M1441.1 1067.3h0M1540.7 1087.1h0M1584.0 1077.4h0M1489.7 1088.1h0M1484.2 1078.9h0M1454.9 1071.0h0M1487.8 1087.9h0M1463.6 1054.7h0M1564.6 1074.5h0M1524.4 1072.7h0M1480.2 1071.8h0M1474.2 1057.4h0M1466.1 1071.1h0M1567.4 1098.7h0M1479.0 1086.4h0M1482.1 1065.6h0M1482.4 1081.7h0M1515.9 1075.0h0M1498.0 1062.1h0M1444.0 1076.1h0M1524.6 1095.0h0M1534.2 1094.5h0M1472.0 1079.4h0M1545.4 1065.2h0M1520.8 1096.1h0M1550.2 1063.7h0M1499.6 1070.6h0M1495.1 1067.6h0M1489.0 1074.2h0M1523.6 1071.3h0M1506.9 1106.8h0M1577.6 1085.8h0M1496.7 1087.0h0M1485.2 1057.7h0M1473.9 1082.4h0M1515.9 1080.5h0M1549.4 1075.1h0M1501.2 1074.1h0M1456.3 1077.1h0M1454.5 1079.3h0M1547.0 1056.6h0M1450.8 1080.9h0M1486.3 1082.1h0M1491.4 1055.9h0M1563.9 1079.2h0M1494.7 1077.0h0M1465.5 1073.8h0M1541.9 1079.6h0M1477.4 1069.7h0M1448.1 1079.4h0M1537.7 1071.2h0M1560.4 1069.1h0M1565.1 1066.3h0M1548.8 1098.3h0M1495.7 1067.6h0M1566.8 1081.1h0M1569.3 1063.8h0M1577.9 1081.2h0M1520.2 1080.5h0M1526.7 1068.6h0M1562.2 1079.0h0M1441.8 1080.6h0M1578.1 1077.4h0M1555.0 1081.3h0M1550.0 1067.6h0M1572.8 1073.6h0M1536.8 1066.5h0M1465.3 1081.1h0M1545.1 1077.6h0M1499.1 1087.7h0M1495.0 1090.2h0M1446.8 1102.4h0M1531.4 1065.1h0M1454.8 1076.1h0M1467.0 1071.5h0M1441.9 1099.0h0M1470.4 1079.6h0M1537.8 1084.8h0M1557.6 1066.1h0M1562.7 1075.2h0M1475.6 1083.8h0M1457.1 1079.2h0M1499.2 1057.1h0M1557.3 1071.6h0M1493.0 1077.0h0M1508.6 1078.9h0M1564.4 1086.0h0M1480.9 1081.0h0M1537.4 1066.3h0M1580.4 1085.2h0M1493.7 1065.7h0M1541.1 1074.8h0M1090.8 1041.2h0M1092.2 1039.8h0M1093.5 1038.4h0M1094.9 1037.1h0M1096.3 1035.7h0M1097.6 1034.4h0M1099.0 1033.0h0M1100.4 1031.6h0M1101.7 1030.3h0M1103.1 1028.9h0M1104.5 1027.6h0M1105.8 1026.2h0M1107.2 1024.8h0M1108.6 1023.5h0M1110.0 1022.1h0M1111.3 1020.8h0M1112.7 1019.4h0M1114.1 1018.1h0M1115.4 1016.7h0M1116.8 1015.3h0M1118.2 1014.0h0M1119.5 1012.6h0M1120.9 1011.3h0M1122.3 1009.9h0M1123.6 1008.5h0M1125.0 1007.2h0M1126.4 1005.8h0M1127.7 1004.5h0M1129.1 1003.1h0M1130.5 1001.7h0M1131.8 1000.4h0M1133.2 999.0h0M1134.6 997.7h0M1135.9 996.3h0M1137.3 994.9h0M1138.7 993.6h0M1140.0 992.2h0M1141.4 990.9h0M1142.8 989.5h0M1144.2 988.2h0M1145.5 986.8h0M1146.9 985.4h0M1097.9 1041.2h0M1099.3 1039.8h0M1100.6 1038.4h0M1102.0 1037.1h0M1103.4 1035.7h0M1104.8 1034.4h0M1106.1 1033.0h0M1107.5 1031.6h0M1108.9 1030.3h0M1110.2 1028.9h0M1111.6 1027.6h0M1113.0 1026.2h0M1114.3 1024.8h0M1115.7 1023.5h0M1117.1 1022.1h0M1118.4 1020.8h0M1119.8 1019.4h0M1121.2 1018.1h0M1122.5 1016.7h0M1123.9 1015.3h0M1125.3 1014.0h0M1126.6 1012.6h0M1128.0 1011.3h0M1129.4 1009.9h0M1130.7 1008.5h0M1132.1 1007.2h0M1133.5 1005.8h0M1134.8 1004.5h0M1136.2 1003.1h0M1137.6 1001.7h0M1139.0 1000.4h0M1140.3 999.0h0M1141.7 997.7h0M1143.1 996.3h0M1144.4 994.9h0M1145.8 993.6h0M1105.0 1041.2h0M1106.4 1039.8h0M1107.8 1038.4h0M1109.1 1037.1h0M1110.5 1035.7h0M1111.9 1034.4h0M1113.2 1033.0h0M1114.6 1031.6h0M1116.0 1030.3h0M1117.3 1028.9h0M1118.7 1027.6h0M1120.1 1026.2h0M1121.4 1024.8h0M1122.8 1023.5h0M1124.2 1022.1h0M1125.5 1020.8h0M1126.9 1019.4h0M1128.3 1018.1h0M1129.7 1016.7h0M1131.0 1015.3h0M1132.4 1014.0h0M1133.8 1012.6h0M1135.1 1011.3h0M1136.5 1009.9h0M1137.9 1008.5h0M1139.2 1007.2h0M1140.6 1005.8h0M1142.0 1004.5h0M1143.3 1003.1h0M1144.7 1001.7h0M1146.1 1000.4h0M1112.1 1041.2h0M1113.5 1039.8h0M1114.9 1038.4h0M1116.2 1037.1h0M1117.6 1035.7h0M1119.0 1034.4h0M1120.3 1033.0h0M1121.7 1031.6h0M1123.1 1030.3h0M1124.5 1028.9h0M1125.8 1027.6h0M1127.2 1026.2h0M1128.6 1024.8h0M1129.9 1023.5h0M1131.3 1022.1h0M1132.7 1020.8h0M1134.0 1019.4h0M1135.4 1018.1h0M1136.8 1016.7h0M1138.1 1015.3h0M1139.5 1014.0h0M1140.9 1012.6h0M1142.2 1011.3h0M1143.6 1009.9h0M1145.0 1008.5h0M1146.3 1007.2h0M1119.3 1041.2h0M1120.6 1039.8h0M1122.0 1038.4h0M1123.4 1037.1h0M1124.7 1035.7h0M1126.1 1034.4h0M1127.5 1033.0h0M1128.8 1031.6h0M1130.2 1030.3h0M1131.6 1028.9h0M1132.9 1027.6h0M1134.3 1026.2h0M1135.7 1024.8h0M1137.0 1023.5h0M1138.4 1022.1h0M1139.8 1020.8h0M1141.1 1019.4h0M1142.5 1018.1h0M1143.9 1016.7h0M1145.2 1015.3h0M1146.6 1014.0h0M1126.4 1041.2h0M1127.7 1039.8h0M1129.1 1038.4h0M1130.5 1037.1h0M1131.8 1035.7h0M1133.2 1034.4h0M1134.6 1033.0h0M1135.9 1031.6h0M1137.3 1030.3h0M1138.7 1028.9h0M1140.0 1027.6h0M1141.4 1026.2h0M1142.8 1024.8h0M1144.2 1023.5h0M1145.5 1022.1h0M1133.5 1041.2h0M1134.8 1039.8h0M1136.2 1038.4h0M1137.6 1037.1h0M1139.0 1035.7h0M1140.3 1034.4h0M1141.7 1033.0h0M1143.1 1031.6h0M1144.4 1030.3h0M1145.8 1028.9h0M1140.6 1041.2h0M1142.0 1039.8h0M1143.3 1038.4h0M1144.7 1037.1h0M1146.1 1035.7h0M1120.9 1049.7h0M1122.3 1049.7h0M1123.6 1049.7h0M1125.0 1049.7h0M1126.4 1049.7h0M1127.7 1049.7h0M1129.1 1049.7h0M1130.5 1049.7h0M1131.8 1049.7h0M1133.2 1049.7h0M1134.6 1049.7h0M1135.9 1049.7h0M1137.3 1049.7h0M1138.7 1049.7h0M1140.0 1049.7h0M1141.4 1049.7h0M1142.8 1049.7h0M1144.2 1049.7h0M1126.4 1053.7h0M1127.7 1053.7h0M1129.1 1053.7h0M1130.5 1053.7h0M1131.8 1053.7h0M1133.2 1053.7h0M1134.6 1053.7h0M1135.9 1053.7h0M1137.3 1053.7h0M1138.7 1053.7h0M1140.0 1053.7h0M1141.4 1053.7h0M1142.8 1053.7h0M1144.2 1053.7h0M1118.2 1065.7h0M1119.5 1065.7h0M1120.9 1065.7h0M1122.3 1065.7h0M1123.6 1065.7h0M1125.0 1065.7h0M1126.4 1065.7h0M1127.7 1065.7h0M1129.1 1065.7h0M1130.5 1065.7h0M1131.8 1065.7h0M1133.2 1065.7h0M1134.6 1065.7h0M1135.9 1065.7h0M1137.3 1065.7h0M1138.7 1065.7h0M1140.0 1065.7h0M1141.4 1065.7h0M1142.8 1065.7h0M1144.2 1065.7h0M1123.6 1071.0h0M1125.0 1071.0h0M1126.4 1071.0h0M1127.7 1071.0h0M1129.1 1071.0h0M1130.5 1071.0h0M1131.8 1071.0h0M1133.2 1071.0h0M1134.6 1071.0h0M1135.9 1071.0h0M1137.3 1071.0h0M1138.7 1071.0h0M1140.0 1071.0h0M1141.4 1071.0h0M1142.8 1071.0h0M1144.2 1071.0h0M1115.4 1092.3h0M1116.8 1092.3h0M1118.2 1092.3h0M1119.5 1092.3h0M1120.9 1092.3h0M1122.3 1092.3h0M1123.6 1092.3h0M1125.0 1092.3h0M1126.4 1092.3h0M1127.7 1092.3h0M1129.1 1092.3h0M1130.5 1092.3h0M1131.8 1092.3h0M1133.2 1092.3h0M1134.6 1092.3h0M1135.9 1092.3h0M1137.3 1092.3h0M1138.7 1092.3h0M1140.0 1092.3h0M1141.4 1092.3h0M1142.8 1092.3h0M1144.2 1092.3h0M1123.6 1099.0h0M1125.0 1099.0h0M1126.4 1099.0h0M1127.7 1099.0h0M1129.1 1099.0h0M1130.5 1099.0h0M1131.8 1099.0h0M1133.2 1099.0h0M1134.6 1099.0h0M1135.9 1099.0h0M1137.3 1099.0h0M1138.7 1099.0h0M1140.0 1099.0h0M1141.4 1099.0h0M1142.8 1099.0h0M1144.2 1099.0h0M1129.1 1104.3h0M1130.5 1104.3h0M1131.8 1104.3h0M1133.2 1104.3h0M1134.6 1104.3h0M1135.9 1104.3h0M1137.3 1104.3h0M1138.7 1104.3h0M1140.0 1104.3h0M1141.4 1104.3h0M1142.8 1104.3h0M1144.2 1104.3h0M1131.8 1045.7h0M1133.2 1045.7h0M1134.6 1045.7h0M1135.9 1045.7h0M1137.3 1045.7h0M1138.7 1045.7h0M1140.0 1045.7h0M1141.4 1045.7h0M1142.8 1045.7h0M1144.2 1045.7h0M1097.6 1130.7h0M1099.3 1132.2h0M1100.9 1133.6h0M1102.6 1135.1h0M1104.2 1136.6h0M1105.8 1138.1h0M1107.5 1139.5h0M1109.1 1141.0h0M1110.8 1142.5h0M1112.4 1143.9h0M1114.1 1145.4h0M1115.7 1146.9h0M1117.3 1148.4h0M1119.0 1149.8h0M1120.6 1151.3h0M1122.3 1152.8h0M1123.9 1154.2h0M1125.5 1155.7h0M1127.2 1157.2h0M1128.8 1158.7h0M1130.5 1160.1h0M1132.1 1161.6h0M1133.8 1163.1h0M1135.4 1164.5h0M1137.0 1166.0h0M1138.7 1167.5h0M1140.3 1168.9h0M1142.0 1170.4h0M1111.3 1129.6h0M1113.0 1131.1h0M1114.6 1132.6h0M1116.2 1134.0h0M1117.9 1135.5h0M1119.5 1137.0h0M1121.2 1138.5h0M1122.8 1139.9h0M1124.5 1141.4h0M1126.1 1142.9h0M1127.7 1144.3h0M1129.4 1145.8h0M1131.0 1147.3h0M1132.7 1148.8h0M1134.3 1150.2h0M1135.9 1151.7h0M1137.6 1153.2h0M1139.2 1154.6h0M1140.9 1156.1h0M1142.5 1157.6h0M1120.9 1130.2h0M1122.5 1131.6h0M1124.2 1133.1h0M1125.8 1134.6h0M1127.5 1136.1h0M1129.1 1137.5h0M1130.7 1139.0h0M1132.4 1140.5h0M1134.0 1141.9h0M1135.7 1143.4h0M1137.3 1144.9h0M1139.0 1146.3h0M1140.6 1147.8h0M1142.2 1149.3h0M1130.5 1131.0h0M1132.1 1132.4h0M1133.8 1133.9h0M1135.4 1135.4h0M1137.0 1136.9h0M1138.7 1138.3h0M1140.3 1139.8h0M1142.0 1141.3h0M1112.7 1153.6h0M1114.3 1155.1h0M1116.0 1156.6h0M1117.6 1158.0h0M1119.3 1159.5h0M1120.9 1161.0h0M1122.5 1162.4h0M1124.2 1163.9h0M1125.8 1165.4h0M1127.5 1166.9h0M1129.1 1168.3h0M1130.7 1169.8h0M1132.4 1171.3h0M1134.0 1172.7h0M1135.7 1174.2h0M1137.3 1175.7h0M1139.0 1177.2h0M1140.6 1178.6h0M1142.2 1180.1h0M1125.0 1156.3h0M1126.6 1157.8h0M1128.3 1159.2h0M1129.9 1160.7h0M1131.6 1162.2h0M1133.2 1163.6h0M1134.8 1165.1h0M1136.5 1166.6h0M1138.1 1168.1h0M1139.8 1169.5h0M1141.4 1171.0h0M1137.3 1164.3h0M1139.0 1165.8h0M1140.6 1167.2h0M1142.2 1168.7h0M1089.4 1059.3h0M1090.8 1059.3h0M1092.2 1059.3h0M1093.5 1059.3h0M1094.9 1059.3h0M1096.3 1059.3h0M1097.6 1059.3h0M1099.0 1059.3h0M1100.4 1059.3h0M1101.7 1059.3h0M1103.1 1059.3h0M1104.5 1059.3h0M1105.8 1059.3h0M1107.2 1059.3h0M1108.6 1059.3h0M1110.0 1059.3h0M1111.3 1059.3h0M1112.7 1059.3h0M1114.1 1059.3h0M1115.4 1059.3h0M1116.8 1059.3h0M1118.2 1059.3h0M1119.5 1059.3h0M1120.9 1059.3h0M1122.3 1059.3h0M1123.6 1059.3h0M1125.0 1059.3h0M1126.4 1059.3h0M1127.7 1059.3h0M1129.1 1059.3h0M1130.5 1059.3h0M1131.8 1059.3h0M1133.2 1059.3h0M1134.6 1059.3h0M1135.9 1059.3h0M1137.3 1059.3h0M1138.7 1059.3h0M1140.0 1059.3h0M1141.4 1059.3h0M1142.8 1059.3h0M1090.8 1079.0h0M1092.2 1079.0h0M1093.5 1079.0h0M1094.9 1079.0h0M1096.3 1079.0h0M1097.6 1079.0h0M1099.0 1079.0h0M1100.4 1079.0h0M1101.7 1079.0h0M1093.5 1084.9h0M1094.9 1084.9h0M1096.3 1084.9h0M1097.6 1084.9h0M1099.0 1084.9h0M1100.4 1084.9h0M1101.7 1084.9h0M1103.1 1084.9h0M1104.5 1084.9h0M1105.8 1084.9h0M1107.2 1084.9h0M1108.6 1084.9h0M1110.0 1084.9h0M1111.3 1084.9h0M1112.7 1084.9h0M1114.1 1084.9h0M1115.4 1084.9h0M1116.8 1084.9h0M1118.2 1084.9h0M1119.5 1084.9h0M1120.9 1084.9h0M1122.3 1084.9h0M1123.6 1084.9h0M1125.0 1084.9h0M1126.4 1084.9h0M1127.7 1084.9h0M1129.1 1084.9h0M1130.5 1084.9h0M1131.8 1084.9h0M1133.2 1084.9h0M1134.6 1084.9h0M1135.9 1084.9h0M1137.3 1084.9h0M1138.7 1084.9h0M1140.0 1084.9h0M1141.4 1084.9h0M1142.8 1084.9h0M1093.5 1110.7h0M1094.9 1110.7h0M1096.3 1110.7h0M1097.6 1110.7h0M1099.0 1110.7h0M1100.4 1110.7h0M1101.7 1110.7h0M1103.1 1110.7h0M1104.5 1110.7h0M1105.8 1110.7h0M1108.6 1110.7h0M1110.0 1110.7h0M1111.3 1110.7h0M1112.7 1110.7h0M1114.1 1110.7h0M1115.4 1110.7h0M1116.8 1110.7h0M1118.2 1110.7h0M1119.5 1110.7h0M1120.9 1110.7h0M1122.3 1110.7h0M1123.6 1110.7h0M1125.0 1110.7h0M1126.4 1110.7h0M1127.7 1110.7h0M1129.1 1110.7h0M1130.5 1110.7h0M1131.8 1110.7h0M1133.2 1110.7h0M1134.6 1110.7h0M1135.9 1110.7h0M1137.3 1110.7h0M1138.7 1110.7h0M1140.0 1110.7h0M1141.4 1110.7h0M1107.2 1079.0h0M1108.6 1079.0h0M1110.0 1079.0h0M1111.3 1079.0h0M1112.7 1079.0h0M1114.1 1079.0h0M1115.4 1079.0h0M1116.8 1079.0h0M1118.2 1079.0h0M1119.5 1079.0h0M1120.9 1079.0h0M1122.3 1079.0h0M1123.6 1079.0h0M1125.0 1079.0h0M1126.4 1079.0h0M1127.7 1079.0h0M1129.1 1079.0h0M1130.5 1079.0h0M1131.8 1079.0h0M1133.2 1079.0h0M1134.6 1079.0h0M1135.9 1079.0h0M1137.3 1079.0h0M1138.7 1079.0h0M1140.0 1079.0h0M1141.4 1079.0h0M1062.3 1059.3h0M1070.6 1059.3h0M1076.3 1059.3h0M1064.3 1079.0h0M1071.6 1079.0h0M1070.3 1110.7h0M1073.0 1110.7h0M1081.2 1110.7h0M1221.6 915.6h0M1260.7 914.0h0M1222.1 922.6h0M1239.9 920.7h0M1240.2 925.2h0M1209.0 927.9h0M1217.5 929.0h0M1212.8 924.4h0M1206.3 927.9h0M1230.3 938.3h0M1245.4 958.0h0M1260.4 959.1h0M1255.0 977.7h0M1285.1 969.7h0M1301.5 964.4h0M1296.0 993.7h0M1331.6 996.4h0M1348.0 985.7h0M1386.3 1017.7h0M1378.1 1033.7h0M1410.9 1028.4h0M1441.0 1039.0h0M1465.6 1052.3h0M1498.5 1028.4h0M1520.4 1036.4h0M1542.2 1055.0h0M1577.8 1063.0h0M1558.7 1089.7h0M1586.0 1092.3h0M1523.1 1105.7h0M1468.4 1145.6h0M1432.8 1116.3h0M1419.1 1129.6h0M1380.8 1153.6h0M1383.6 1159.0h0M1348.0 1135.0h0M1323.4 1172.3h0M1301.5 1159.0h0M1309.7 1161.6h0M1268.6 1182.9h0M1257.7 1198.9h0M1263.2 1222.9h0M1233.1 1212.2h0M1219.4 1228.2h0M1197.5 1220.2h0M1192.0 1222.9h0M1213.9 1190.9h0M1249.5 1185.6h0M1285.1 1177.6h0M1296.0 1206.9h0M1304.2 1220.2h0M1421.9 1273.5h0M1457.4 1228.2h0M1487.5 1041.7h0M1449.2 1015.0h0M1512.1 1057.7h0M1539.5 1071.0h0M1339.8 1001.7h0M1367.1 1020.4h0M1317.9 985.7h0M1550.4 1095.0h0M1482.0 1121.6h0M1441.0 1132.3h0M1369.9 1140.3h0M1356.2 1007.0h0M1345.2 1020.4h0M1293.3 964.4h0M1274.1 988.4h0M1263.2 972.4h0M1328.8 1001.7h0" stroke="#b4b5b7" stroke-width="4.8" stroke-linecap="round" fill="none"/>
<line x1="1034" y1="1079.0" x2="1622.6" y2="1079.0" stroke="#2f4fa0" stroke-width="1.8" stroke-dasharray="6.5 5"/>
<circle cx="1277.0" cy="953.1" r="2.7" fill="#dc3545"/>
<circle cx="1295.6" cy="970.3" r="2.7" fill="#dc3545"/>
<circle cx="1305.1" cy="970.3" r="2.7" fill="#dc3545"/>
<circle cx="1306.5" cy="999.3" r="2.7" fill="#dc3545"/>
<circle cx="1312.7" cy="998.9" r="2.7" fill="#dc3545"/>
<circle cx="1309.9" cy="1016.0" r="2.7" fill="#dc3545"/>
<circle cx="1325.1" cy="1013.2" r="2.7" fill="#dc3545"/>
<circle cx="1352.8" cy="1015.5" r="2.7" fill="#dc3545"/>
<circle cx="1318.9" cy="1028.9" r="2.7" fill="#dc3545"/>
<circle cx="1369.0" cy="1033.2" r="2.7" fill="#dc3545"/>
<circle cx="1387.6" cy="1028.9" r="2.7" fill="#dc3545"/>
<circle cx="1438.1" cy="1027.5" r="2.7" fill="#dc3545"/>
<circle cx="1462.9" cy="1014.6" r="2.7" fill="#dc3545"/>
<circle cx="1326.1" cy="932.6" r="2.7" fill="#dc3545"/>
<circle cx="1346.6" cy="1124.7" r="2.7" fill="#dc3545"/>
<circle cx="1309.4" cy="1131.4" r="2.7" fill="#dc3545"/>
<circle cx="1324.2" cy="1136.6" r="2.7" fill="#dc3545"/>
<circle cx="1400.9" cy="1118.0" r="2.7" fill="#dc3545"/>
<circle cx="1256.5" cy="888.8" r="6.6" fill="#e05a6a"/>
<text x="1200.5" y="899.2" font-size="22" font-style="italic" fill="#1b6480">FWA</text>
<rect x="1498.0" y="881.0" width="113.0" height="93.0" fill="#fff" />
<text x="1553.6" y="896.2" font-size="16.2" text-anchor="middle" fill="#111">Significance</text>
<text x="1553.6" y="915.3" font-size="16.2" text-anchor="middle" fill="#111">(adj. p &lt; 0.01)</text>
<circle cx="1530.5" cy="937" r="7.3" fill="#cfd0d2"/>
<circle cx="1530.5" cy="963" r="7.3" fill="#e05468"/>
<text x="1547.5" y="942.5" font-size="17" fill="#111">No</text>
<text x="1547.5" y="968.5" font-size="17" fill="#111">Yes</text>
<text x="122.8" y="1592.9" font-size="27.6" text-anchor="end">HA</text>
<text x="121.7" y="1625.2" font-size="27.6" text-anchor="end">ChIP-seq</text>
<rect x="131.7" y="1566.4" width="3.0" height="89.4" fill="#231f20" />
<text x="121.7" y="1724.8" font-size="27.6" text-anchor="end">H3K4me3</text>
<text x="121.7" y="1757.6" font-size="27.6" text-anchor="end">ChIP-seq</text>
<rect x="131.7" y="1680.5" width="3.0" height="88.9" fill="#231f20" />
<text x="418.4" y="1577.3" font-size="27.6" text-anchor="end" font-style="italic">rdr6</text>
<text x="425.5" y="1618.3" font-size="27.6" text-anchor="end">ST:PRDM9:FWA_g4</text>
<text x="427.0" y="1651.0" font-size="27.6" text-anchor="end">(in <tspan font-style="italic">rdr6</tspan>)</text>
<text x="422.5" y="1702.4" font-size="27.6" text-anchor="end" font-style="italic">rdr6</text>
<text x="429.0" y="1752.4" font-size="27.6" text-anchor="end">ST:PRDM9:FWA_g4</text>
<text x="430.0" y="1785.2" font-size="27.6" text-anchor="end">(in <tspan font-style="italic">rdr6</tspan>)</text>
<text x="133.0" y="1822.7" font-size="28">FWA_g4 binding sites</text>
<text x="447.3" y="1436.6" font-size="28.4">FWA target region</text>
<path d="M449.6 1463.6 H688.0 M794.0 1463.6 H1034.6" stroke="#000" stroke-width="3"/>
<path d="M439.6 1463.6 L451.6 1459.1 L451.6 1468.1Z M1044.6 1463.6 L1032.6 1459.1 L1032.6 1468.1Z" fill="#000"/>
<text x="741.4" y="1471.3" font-size="18.7" text-anchor="middle" font-weight="bold" fill="#000">6,250 bp</text>
<defs><clipPath id="clipL"><rect x="430" y="1480" width="614.5" height="40"/></clipPath><clipPath id="clipR"><rect x="1100" y="1480" width="622" height="40"/></clipPath></defs>
<g clip-path="url(#clipL)">
<text x="545.9" y="1504.0" font-size="16" text-anchor="middle" fill="#000">13,037,000 bp</text>
<text x="642.2" y="1504.0" font-size="16" text-anchor="middle" fill="#000">13,038,000 bp</text>
<text x="738.4" y="1504.0" font-size="16" text-anchor="middle" fill="#000">13,039,000 bp</text>
<text x="834.6" y="1504.0" font-size="16" text-anchor="middle" fill="#000">13,040,000 bp</text>
<text x="930.9" y="1504.0" font-size="16" text-anchor="middle" fill="#000">13,041,000 bp</text>
<text x="1027.2" y="1504.0" font-size="16" text-anchor="middle" fill="#000">13,042,000 bp</text>
</g>
<path d="M452.0 1511V1526.4M500.1 1511V1526.4M548.3 1511V1526.4M596.4 1511V1526.4M644.5 1511V1526.4M692.6 1511V1526.4M740.8 1511V1526.4M788.9 1511V1526.4M837.0 1511V1526.4M885.2 1511V1526.4M933.3 1511V1526.4M981.4 1511V1526.4M1029.6 1511V1526.4" stroke="#000" stroke-width="3"/>
<path d="M440.8 1593.2L440.8 1591.9L442.8 1591.7L444.8 1591.8L446.8 1591.6L448.9 1591.6L450.9 1592.0L452.9 1592.0L454.9 1591.5L456.9 1591.8L458.9 1591.9L460.9 1591.4L462.9 1591.7L465.0 1591.5L467.0 1591.7L469.0 1591.6L471.0 1591.9L473.0 1591.6L475.0 1591.5L477.0 1591.7L479.0 1591.6L481.1 1591.6L483.1 1592.0L485.1 1591.5L487.1 1591.6L489.1 1591.8L491.1 1592.0L493.1 1591.5L495.2 1591.7L497.2 1591.6L499.2 1591.5L501.2 1591.6L503.2 1591.4L505.2 1591.8L507.2 1591.5L509.2 1591.7L511.3 1591.4L513.3 1591.5L515.3 1591.9L517.3 1591.9L519.3 1591.9L521.3 1591.4L523.3 1591.7L525.3 1591.6L527.4 1591.8L529.4 1591.7L531.4 1591.8L533.4 1591.8L535.4 1591.6L537.4 1591.6L539.4 1591.5L541.5 1591.6L543.5 1591.4L545.5 1591.5L547.5 1591.4L549.5 1591.6L551.5 1591.9L553.5 1591.5L555.5 1591.4L557.6 1591.5L559.6 1591.7L561.6 1591.6L563.6 1591.9L565.6 1591.5L567.6 1591.7L569.6 1591.8L571.6 1592.0L573.7 1591.5L575.7 1591.4L577.7 1591.9L579.7 1591.5L581.7 1591.8L583.7 1591.9L585.7 1591.8L587.8 1591.5L589.8 1591.5L591.8 1592.0L593.8 1591.6L595.8 1592.0L597.8 1591.6L599.8 1591.8L601.8 1591.5L603.9 1591.4L605.9 1591.7L607.9 1591.4L609.9 1591.8L611.9 1592.0L613.9 1591.6L615.9 1592.0L617.9 1591.9L620.0 1591.8L622.0 1591.6L624.0 1591.9L626.0 1592.0L628.0 1591.5L630.0 1591.8L632.0 1591.4L634.1 1591.5L636.1 1591.8L638.1 1591.7L640.1 1591.7L642.1 1591.6L644.1 1591.6L646.1 1591.7L648.1 1591.6L650.2 1591.4L652.2 1591.7L654.2 1591.7L656.2 1591.6L658.2 1591.9L660.2 1591.8L662.2 1591.4L664.2 1591.7L666.3 1591.7L668.3 1592.0L670.3 1591.8L672.3 1591.7L674.3 1592.0L676.3 1591.6L678.3 1591.6L680.4 1592.0L682.4 1591.6L684.4 1591.7L686.4 1591.6L688.4 1591.8L690.4 1591.6L692.4 1591.6L694.4 1592.0L696.5 1592.0L698.5 1591.6L700.5 1591.4L702.5 1591.8L704.5 1591.7L706.5 1591.6L708.5 1591.8L710.5 1591.8L712.6 1591.8L714.6 1591.8L716.6 1591.6L718.6 1591.8L720.6 1591.8L722.6 1591.5L724.6 1592.0L726.7 1591.7L728.7 1591.6L730.7 1591.8L732.7 1591.9L734.7 1591.5L736.7 1591.9L738.7 1591.9L740.7 1591.7L742.8 1591.6L744.8 1591.9L746.8 1591.8L748.8 1591.8L750.8 1591.5L752.8 1591.7L754.8 1591.5L756.8 1591.9L758.9 1591.8L760.9 1591.6L762.9 1588.7L764.9 1588.7L766.9 1588.7L768.9 1588.7L770.9 1588.7L773.0 1588.7L775.0 1588.7L777.0 1588.7L779.0 1588.7L781.0 1591.8L783.0 1591.5L785.0 1591.6L787.0 1591.5L789.1 1591.8L791.1 1591.9L793.1 1591.8L795.1 1591.5L797.1 1591.8L799.1 1591.8L801.1 1591.7L803.1 1591.7L805.2 1591.8L807.2 1591.4L809.2 1591.9L811.2 1592.0L813.2 1591.4L815.2 1591.5L817.2 1591.4L819.3 1591.7L821.3 1591.4L823.3 1591.4L825.3 1591.9L827.3 1591.6L829.3 1591.5L831.3 1591.6L833.3 1591.7L835.4 1591.8L837.4 1591.8L839.4 1591.9L841.4 1592.0L843.4 1591.6L845.4 1591.8L847.4 1591.5L849.4 1592.0L851.5 1591.5L853.5 1591.6L855.5 1591.4L857.5 1591.5L859.5 1591.5L861.5 1591.7L863.5 1592.0L865.6 1591.6L867.6 1591.9L869.6 1591.8L871.6 1591.6L873.6 1591.7L875.6 1591.8L877.6 1591.4L879.6 1591.6L881.7 1591.8L883.7 1591.8L885.7 1591.5L887.7 1591.7L889.7 1591.5L891.7 1591.8L893.7 1591.9L895.7 1591.7L897.8 1591.5L899.8 1591.9L901.8 1591.5L903.8 1591.4L905.8 1591.5L907.8 1589.7L909.8 1589.7L911.9 1589.7L913.9 1589.7L915.9 1589.7L917.9 1589.7L919.9 1589.7L921.9 1591.7L923.9 1591.7L925.9 1591.7L928.0 1591.5L930.0 1592.0L932.0 1592.0L934.0 1591.9L936.0 1591.9L938.0 1592.0L940.0 1591.4L942.0 1591.5L944.1 1591.9L946.1 1591.7L948.1 1591.8L950.1 1591.8L952.1 1591.8L954.1 1591.6L956.1 1591.6L958.2 1591.8L960.2 1591.9L962.2 1591.8L964.2 1591.9L966.2 1591.7L968.2 1591.6L970.2 1591.8L972.2 1592.0L974.3 1591.9L976.3 1591.8L978.3 1591.6L980.3 1591.5L982.3 1591.8L984.3 1591.5L986.3 1591.6L988.3 1591.7L990.4 1591.8L992.4 1591.7L994.4 1591.6L996.4 1591.7L998.4 1591.6L1000.4 1591.7L1002.4 1591.9L1004.5 1588.7L1006.5 1588.7L1008.5 1588.7L1010.5 1586.2L1012.5 1586.2L1014.5 1586.2L1016.5 1586.2L1018.5 1586.2L1020.6 1588.7L1022.6 1588.7L1024.6 1588.7L1026.6 1591.7L1028.6 1591.9L1030.6 1591.5L1032.6 1591.6L1034.6 1591.5L1036.7 1591.5L1038.7 1591.6L1040.7 1591.6L1042.7 1591.7L1042.7 1593.2Z" fill="#8e8f91" />
<path d="M440.8 1657.9L440.8 1656.4L442.8 1656.4L444.8 1656.5L446.8 1656.4L448.9 1656.4L450.9 1656.5L452.9 1656.4L454.9 1656.4L456.9 1656.4L458.9 1656.4L460.9 1656.5L462.9 1656.4L465.0 1656.4L467.0 1656.4L469.0 1656.4L471.0 1656.4L473.0 1656.3L475.0 1656.4L477.0 1656.4L479.0 1656.5L481.1 1656.4L483.1 1656.4L485.1 1656.4L487.1 1656.4L489.1 1656.4L491.1 1656.3L493.1 1656.5L495.2 1656.4L497.2 1656.4L499.2 1656.4L501.2 1656.4L503.2 1656.4L505.2 1656.4L507.2 1656.4L509.2 1656.4L511.3 1656.4L513.3 1656.4L515.3 1656.4L517.3 1656.4L519.3 1656.4L521.3 1656.5L523.3 1656.4L525.3 1656.3L527.4 1656.4L529.4 1656.4L531.4 1656.4L533.4 1656.4L535.4 1656.4L537.4 1656.4L539.4 1656.4L541.5 1656.4L543.5 1656.4L545.5 1656.4L547.5 1656.4L549.5 1656.4L551.5 1656.4L553.5 1656.4L555.5 1656.4L557.6 1656.4L559.6 1656.4L561.6 1656.4L563.6 1656.4L565.6 1656.4L567.6 1656.4L569.6 1656.4L571.6 1656.4L573.7 1656.4L575.7 1656.3L577.7 1656.4L579.7 1656.4L581.7 1656.4L583.7 1656.4L585.7 1656.4L587.8 1656.4L589.8 1656.4L591.8 1656.5L593.8 1656.4L595.8 1656.4L597.8 1656.4L599.8 1656.4L601.8 1656.4L603.9 1656.4L605.9 1656.4L607.9 1656.3L609.9 1656.4L611.9 1656.4L613.9 1656.4L615.9 1656.2L617.9 1656.0L620.0 1655.8L622.0 1655.6L624.0 1655.3L626.0 1654.9L628.0 1654.7L630.0 1654.2L632.0 1653.6L634.1 1653.2L636.1 1652.7L638.1 1652.0L640.1 1650.9L642.1 1649.9L644.1 1648.5L646.1 1647.1L648.1 1645.9L650.2 1644.0L652.2 1641.4L654.2 1638.6L656.2 1634.1L658.2 1629.5L660.2 1624.4L662.2 1621.0L664.2 1614.0L666.3 1611.9L668.3 1609.4L670.3 1608.4L672.3 1612.9L674.3 1616.2L676.3 1618.0L678.3 1624.1L680.4 1628.2L682.4 1631.7L684.4 1635.1L686.4 1639.2L688.4 1641.2L690.4 1643.3L692.4 1645.1L694.4 1646.9L696.5 1647.9L698.5 1648.8L700.5 1650.2L702.5 1651.0L704.5 1651.9L706.5 1652.5L708.5 1652.9L710.5 1653.6L712.6 1653.8L714.6 1654.2L716.6 1654.8L718.6 1654.9L720.6 1655.3L722.6 1655.4L724.6 1655.7L726.7 1656.0L728.7 1656.1L730.7 1656.3L732.7 1656.4L734.7 1656.4L736.7 1656.4L738.7 1656.3L740.7 1656.4L742.8 1656.4L744.8 1656.4L746.8 1656.4L748.8 1656.4L750.8 1656.4L752.8 1656.4L754.8 1656.4L756.8 1656.4L758.9 1656.4L760.9 1656.4L762.9 1656.4L764.9 1656.4L766.9 1656.4L768.9 1656.4L770.9 1656.3L773.0 1656.4L775.0 1656.4L777.0 1656.4L779.0 1656.4L781.0 1656.4L783.0 1656.4L785.0 1656.4L787.0 1656.4L789.1 1656.4L791.1 1656.5L793.1 1656.4L795.1 1656.4L797.1 1656.4L799.1 1656.4L801.1 1656.4L803.1 1656.4L805.2 1656.4L807.2 1656.4L809.2 1656.5L811.2 1656.4L813.2 1656.4L815.2 1656.4L817.2 1656.4L819.3 1656.4L821.3 1656.4L823.3 1656.4L825.3 1656.4L827.3 1656.4L829.3 1656.4L831.3 1656.4L833.3 1656.4L835.4 1656.4L837.4 1656.4L839.4 1656.4L841.4 1656.4L843.4 1656.4L845.4 1656.4L847.4 1656.4L849.4 1656.4L851.5 1656.4L853.5 1656.4L855.5 1656.4L857.5 1656.4L859.5 1656.4L861.5 1656.4L863.5 1656.4L865.6 1656.4L867.6 1656.4L869.6 1656.4L871.6 1656.4L873.6 1656.5L875.6 1656.4L877.6 1656.4L879.6 1656.3L881.7 1656.4L883.7 1656.4L885.7 1656.4L887.7 1656.4L889.7 1656.3L891.7 1656.4L893.7 1656.4L895.7 1656.4L897.8 1656.4L899.8 1656.4L901.8 1656.4L903.8 1656.5L905.8 1656.4L907.8 1656.4L909.8 1656.4L911.9 1656.4L913.9 1656.4L915.9 1656.4L917.9 1656.4L919.9 1656.5L921.9 1656.4L923.9 1656.4L925.9 1656.4L928.0 1656.4L930.0 1656.3L932.0 1656.4L934.0 1656.4L936.0 1656.4L938.0 1656.4L940.0 1656.5L942.0 1656.4L944.1 1656.4L946.1 1656.5L948.1 1656.4L950.1 1656.3L952.1 1656.4L954.1 1656.4L956.1 1656.4L958.2 1656.4L960.2 1656.4L962.2 1656.4L964.2 1656.3L966.2 1656.4L968.2 1656.4L970.2 1656.4L972.2 1656.4L974.3 1656.3L976.3 1656.4L978.3 1656.4L980.3 1656.4L982.3 1656.4L984.3 1656.4L986.3 1656.5L988.3 1656.5L990.4 1656.4L992.4 1656.4L994.4 1656.4L996.4 1656.4L998.4 1656.4L1000.4 1656.4L1002.4 1656.4L1004.5 1656.4L1006.5 1656.4L1008.5 1656.4L1010.5 1656.4L1012.5 1656.4L1014.5 1656.4L1016.5 1656.4L1018.5 1656.4L1020.6 1656.4L1022.6 1656.4L1024.6 1656.4L1026.6 1656.4L1028.6 1656.5L1030.6 1656.4L1032.6 1656.4L1034.6 1656.4L1036.7 1656.4L1038.7 1656.4L1040.7 1656.4L1042.7 1656.4L1042.7 1657.9Z" fill="#2e3180" />
<path d="M440.8 1722.2L440.8 1675.4L442.8 1676.3L444.8 1670.3L446.8 1677.6L448.9 1671.6L450.9 1677.2L452.9 1671.8L454.9 1662.9L456.9 1676.5L458.9 1675.4L460.9 1672.6L462.9 1677.2L465.0 1673.7L467.0 1670.7L469.0 1673.3L471.0 1673.8L473.0 1668.2L475.0 1676.5L477.0 1662.9L479.0 1677.9L481.1 1676.6L483.1 1677.4L485.1 1667.8L487.1 1677.8L489.1 1679.1L491.1 1679.4L493.1 1693.3L495.2 1691.6L497.2 1699.8L499.2 1698.4L501.2 1704.4L503.2 1705.9L505.2 1711.0L507.2 1711.9L509.2 1713.0L511.3 1714.0L513.3 1714.9L515.3 1714.8L517.3 1716.0L519.3 1715.5L521.3 1716.2L523.3 1716.9L525.3 1717.4L527.4 1716.5L529.4 1717.8L531.4 1717.0L533.4 1717.3L535.4 1718.1L537.4 1718.1L539.4 1718.8L541.5 1719.0L543.5 1719.6L545.5 1719.8L547.5 1719.5L549.5 1720.0L551.5 1719.6L553.5 1720.2L555.5 1719.6L557.6 1719.9L559.6 1719.9L561.6 1720.0L563.6 1720.4L565.6 1720.5L567.6 1720.6L569.6 1720.2L571.6 1720.3L573.7 1720.6L575.7 1720.6L577.7 1720.7L579.7 1720.7L581.7 1720.9L583.7 1721.2L585.7 1720.8L587.8 1720.7L589.8 1720.3L591.8 1720.3L593.8 1719.8L595.8 1719.4L597.8 1719.2L599.8 1718.6L601.8 1718.0L603.9 1717.0L605.9 1716.5L607.9 1715.7L609.9 1714.0L611.9 1713.4L613.9 1713.9L615.9 1715.7L617.9 1715.8L620.0 1717.6L622.0 1718.7L624.0 1719.1L626.0 1719.4L628.0 1720.2L630.0 1720.3L632.0 1720.3L634.1 1720.3L636.1 1720.6L638.1 1720.5L640.1 1720.9L642.1 1720.9L644.1 1721.1L646.1 1720.9L648.1 1720.5L650.2 1720.3L652.2 1720.4L654.2 1720.0L656.2 1719.7L658.2 1719.2L660.2 1719.3L662.2 1718.7L664.2 1719.1L666.3 1719.0L668.3 1717.7L670.3 1717.5L672.3 1716.9L674.3 1715.8L676.3 1714.7L678.3 1716.0L680.4 1715.9L682.4 1715.3L684.4 1715.1L686.4 1716.0L688.4 1715.7L690.4 1717.3L692.4 1717.7L694.4 1717.9L696.5 1717.8L698.5 1718.7L700.5 1718.0L702.5 1717.9L704.5 1718.5L706.5 1718.8L708.5 1717.7L710.5 1718.2L712.6 1717.6L714.6 1717.9L716.6 1718.0L718.6 1718.4L720.6 1716.7L722.6 1716.5L724.6 1715.6L726.7 1714.8L728.7 1715.1L730.7 1714.1L732.7 1713.5L734.7 1713.8L736.7 1716.5L738.7 1716.4L740.7 1717.7L742.8 1716.7L744.8 1716.9L746.8 1717.0L748.8 1716.2L750.8 1717.3L752.8 1717.2L754.8 1716.0L756.8 1716.9L758.9 1715.7L760.9 1716.7L762.9 1717.2L764.9 1715.9L766.9 1716.3L768.9 1714.6L770.9 1710.6L773.0 1709.5L775.0 1711.4L777.0 1708.4L779.0 1712.3L781.0 1714.2L783.0 1716.7L785.0 1716.7L787.0 1716.8L789.1 1716.7L791.1 1717.3L793.1 1718.1L795.1 1718.0L797.1 1717.2L799.1 1718.3L801.1 1717.6L803.1 1718.2L805.2 1717.1L807.2 1717.6L809.2 1716.9L811.2 1714.7L813.2 1715.7L815.2 1713.8L817.2 1715.6L819.3 1714.5L821.3 1715.7L823.3 1717.7L825.3 1716.8L827.3 1716.9L829.3 1716.8L831.3 1716.6L833.3 1717.0L835.4 1715.7L837.4 1717.1L839.4 1716.1L841.4 1717.2L843.4 1717.5L845.4 1716.1L847.4 1716.0L849.4 1713.4L851.5 1712.0L853.5 1712.3L855.5 1712.7L857.5 1710.7L859.5 1709.2L861.5 1708.6L863.5 1708.6L865.6 1706.6L867.6 1704.3L869.6 1704.2L871.6 1703.0L873.6 1707.0L875.6 1703.7L877.6 1704.1L879.6 1702.6L881.7 1705.4L883.7 1703.8L885.7 1706.0L887.7 1706.2L889.7 1707.8L891.7 1707.2L893.7 1707.8L895.7 1708.4L897.8 1712.0L899.8 1710.8L901.8 1711.9L903.8 1714.2L905.8 1714.8L907.8 1715.9L909.8 1714.4L911.9 1714.8L913.9 1713.1L915.9 1712.7L917.9 1711.3L919.9 1711.7L921.9 1708.0L923.9 1708.6L925.9 1708.5L928.0 1710.6L930.0 1712.5L932.0 1712.7L934.0 1712.5L936.0 1715.5L938.0 1715.9L940.0 1717.1L942.0 1717.1L944.1 1716.7L946.1 1716.3L948.1 1714.7L950.1 1712.1L952.1 1712.1L954.1 1708.5L956.1 1708.5L958.2 1705.8L960.2 1710.4L962.2 1709.8L964.2 1710.0L966.2 1713.2L968.2 1714.1L970.2 1715.9L972.2 1715.4L974.3 1712.8L976.3 1711.8L978.3 1711.2L980.3 1707.3L982.3 1708.6L984.3 1706.5L986.3 1708.7L988.3 1706.4L990.4 1709.2L992.4 1711.4L994.4 1711.6L996.4 1714.1L998.4 1717.0L1000.4 1716.6L1002.4 1715.7L1004.5 1715.8L1006.5 1717.1L1008.5 1716.6L1010.5 1717.0L1012.5 1716.5L1014.5 1716.0L1016.5 1717.4L1018.5 1716.8L1020.6 1717.1L1022.6 1716.4L1024.6 1717.4L1026.6 1716.9L1028.6 1716.8L1030.6 1715.1L1032.6 1712.5L1034.6 1710.8L1036.7 1710.9L1038.7 1710.9L1040.7 1713.7L1042.7 1713.1L1042.7 1722.2Z" fill="#b4b5b7" />
<path d="M440.8 1722.2L440.8 1670.5L442.8 1671.7L444.8 1671.2L446.8 1671.6L448.9 1670.3L450.9 1669.5L452.9 1670.5L454.9 1671.7L456.9 1671.1L458.9 1670.3L460.9 1669.8L462.9 1671.4L465.0 1669.5L467.0 1669.3L469.0 1668.8L471.0 1671.0L473.0 1669.2L475.0 1670.7L477.0 1669.6L479.0 1669.9L481.1 1671.6L483.1 1671.2L485.1 1671.6L487.1 1672.3L489.1 1677.6L491.1 1680.7L493.1 1684.1L495.2 1694.3L497.2 1693.2L499.2 1702.0L501.2 1705.9L503.2 1707.5L505.2 1708.2L507.2 1711.9L509.2 1712.2L511.3 1712.6L513.3 1714.4L515.3 1714.1L517.3 1715.8L519.3 1715.3L521.3 1714.1L523.3 1714.8L525.3 1714.8L527.4 1715.4L529.4 1715.4L531.4 1716.3L533.4 1716.1L535.4 1716.1L537.4 1716.4L539.4 1717.3L541.5 1717.8L543.5 1717.3L545.5 1717.9L547.5 1718.4L549.5 1718.4L551.5 1718.5L553.5 1718.3L555.5 1718.6L557.6 1718.7L559.6 1718.6L561.6 1718.6L563.6 1718.7L565.6 1719.0L567.6 1718.7L569.6 1719.2L571.6 1719.2L573.7 1719.3L575.7 1719.3L577.7 1719.2L579.7 1719.3L581.7 1719.5L583.7 1719.5L585.7 1719.2L587.8 1718.9L589.8 1718.8L591.8 1718.4L593.8 1718.4L595.8 1718.3L597.8 1717.4L599.8 1717.0L601.8 1717.1L603.9 1715.7L605.9 1716.1L607.9 1716.2L609.9 1715.4L611.9 1715.8L613.9 1716.4L615.9 1716.8L617.9 1716.6L620.0 1716.9L622.0 1717.4L624.0 1717.5L626.0 1718.3L628.0 1718.7L630.0 1718.6L632.0 1718.8L634.1 1719.2L636.1 1719.2L638.1 1719.2L640.1 1719.2L642.1 1719.5L644.1 1719.5L646.1 1719.6L648.1 1719.2L650.2 1718.8L652.2 1718.8L654.2 1718.6L656.2 1718.2L658.2 1718.1L660.2 1717.9L662.2 1717.2L664.2 1717.6L666.3 1716.9L668.3 1717.5L670.3 1716.9L672.3 1717.3L674.3 1716.2L676.3 1715.8L678.3 1715.6L680.4 1716.5L682.4 1716.2L684.4 1716.8L686.4 1716.8L688.4 1716.7L690.4 1716.6L692.4 1717.1L694.4 1716.5L696.5 1716.2L698.5 1717.1L700.5 1716.5L702.5 1716.8L704.5 1716.7L706.5 1717.1L708.5 1716.5L710.5 1716.1L712.6 1716.4L714.6 1716.2L716.6 1716.6L718.6 1716.9L720.6 1716.2L722.6 1716.3L724.6 1716.5L726.7 1715.9L728.7 1715.7L730.7 1716.5L732.7 1716.3L734.7 1715.7L736.7 1716.0L738.7 1715.9L740.7 1715.9L742.8 1715.5L744.8 1716.3L746.8 1715.8L748.8 1714.8L750.8 1715.1L752.8 1714.5L754.8 1715.3L756.8 1715.3L758.9 1714.2L760.9 1715.4L762.9 1715.5L764.9 1715.6L766.9 1716.0L768.9 1715.9L770.9 1715.4L773.0 1715.0L775.0 1715.1L777.0 1716.0L779.0 1716.4L781.0 1715.8L783.0 1715.7L785.0 1716.2L787.0 1716.4L789.1 1716.4L791.1 1715.7L793.1 1716.5L795.1 1715.7L797.1 1716.5L799.1 1715.6L801.1 1715.6L803.1 1716.4L805.2 1716.4L807.2 1716.6L809.2 1716.8L811.2 1716.6L813.2 1717.0L815.2 1715.9L817.2 1715.7L819.3 1716.3L821.3 1716.0L823.3 1716.1L825.3 1715.9L827.3 1715.1L829.3 1715.4L831.3 1715.3L833.3 1714.5L835.4 1714.8L837.4 1714.5L839.4 1714.4L841.4 1715.9L843.4 1715.9L845.4 1714.8L847.4 1715.1L849.4 1716.5L851.5 1715.5L853.5 1715.8L855.5 1715.7L857.5 1715.9L859.5 1716.5L861.5 1716.2L863.5 1716.1L865.6 1716.0L867.6 1715.1L869.6 1715.2L871.6 1716.0L873.6 1716.0L875.6 1715.6L877.6 1715.8L879.6 1715.9L881.7 1715.6L883.7 1715.4L885.7 1714.7L887.7 1715.5L889.7 1716.0L891.7 1714.8L893.7 1716.0L895.7 1715.5L897.8 1715.5L899.8 1715.2L901.8 1715.3L903.8 1714.8L905.8 1715.5L907.8 1715.3L909.8 1714.9L911.9 1715.0L913.9 1715.6L915.9 1714.9L917.9 1715.8L919.9 1715.4L921.9 1714.9L923.9 1714.9L925.9 1714.4L928.0 1714.2L930.0 1714.6L932.0 1714.2L934.0 1714.9L936.0 1715.2L938.0 1714.2L940.0 1715.5L942.0 1715.0L944.1 1714.1L946.1 1715.0L948.1 1714.6L950.1 1714.3L952.1 1714.6L954.1 1713.6L956.1 1715.2L958.2 1713.9L960.2 1715.2L962.2 1714.3L964.2 1713.5L966.2 1714.5L968.2 1714.0L970.2 1714.7L972.2 1715.0L974.3 1715.2L976.3 1714.2L978.3 1715.1L980.3 1714.4L982.3 1714.3L984.3 1713.5L986.3 1714.4L988.3 1714.9L990.4 1715.2L992.4 1714.4L994.4 1714.2L996.4 1714.0L998.4 1715.3L1000.4 1714.9L1002.4 1715.3L1004.5 1715.3L1006.5 1714.1L1008.5 1714.2L1010.5 1715.5L1012.5 1715.8L1014.5 1715.3L1016.5 1714.5L1018.5 1715.3L1020.6 1715.7L1022.6 1715.6L1024.6 1715.5L1026.6 1715.8L1028.6 1715.3L1030.6 1715.1L1032.6 1715.2L1034.6 1716.0L1036.7 1715.7L1038.7 1715.5L1040.7 1715.7L1042.7 1715.3L1042.7 1722.2Z" fill="#7d7e80" />
<path d="M440.8 1784.7L440.8 1735.0L442.8 1735.0L444.8 1735.0L446.8 1735.0L448.9 1735.0L450.9 1735.0L452.9 1735.0L454.9 1735.0L456.9 1735.0L458.9 1735.0L460.9 1735.0L462.9 1735.0L465.0 1735.0L467.0 1735.0L469.0 1735.0L471.0 1735.0L473.0 1735.0L475.0 1735.0L477.0 1735.0L479.0 1735.0L481.1 1738.1L483.1 1742.9L485.1 1749.7L487.1 1760.2L489.1 1763.4L491.1 1769.2L493.1 1769.7L495.2 1771.0L497.2 1773.1L499.2 1775.1L501.2 1774.1L503.2 1775.0L505.2 1775.9L507.2 1775.6L509.2 1775.8L511.3 1774.7L513.3 1774.3L515.3 1773.6L517.3 1772.0L519.3 1773.1L521.3 1773.6L523.3 1774.6L525.3 1774.7L527.4 1775.1L529.4 1776.8L531.4 1777.7L533.4 1777.6L535.4 1778.3L537.4 1779.6L539.4 1779.9L541.5 1780.9L543.5 1781.1L545.5 1780.3L547.5 1780.3L549.5 1780.6L551.5 1779.8L553.5 1779.9L555.5 1780.1L557.6 1780.3L559.6 1780.3L561.6 1780.2L563.6 1780.0L565.6 1780.1L567.6 1779.9L569.6 1780.1L571.6 1780.2L573.7 1780.4L575.7 1780.3L577.7 1780.0L579.7 1779.6L581.7 1780.0L583.7 1779.8L585.7 1779.2L587.8 1779.6L589.8 1778.6L591.8 1778.2L593.8 1778.1L595.8 1777.6L597.8 1777.3L599.8 1775.0L601.8 1775.5L603.9 1772.9L605.9 1772.6L607.9 1771.6L609.9 1771.7L611.9 1773.1L613.9 1773.7L615.9 1773.2L617.9 1772.6L620.0 1773.5L622.0 1774.1L624.0 1774.9L626.0 1776.3L628.0 1775.9L630.0 1777.3L632.0 1777.7L634.1 1777.1L636.1 1777.2L638.1 1778.1L640.1 1777.7L642.1 1777.5L644.1 1777.4L646.1 1777.6L648.1 1777.5L650.2 1777.5L652.2 1776.6L654.2 1777.3L656.2 1776.3L658.2 1776.3L660.2 1775.1L662.2 1774.7L664.2 1772.7L666.3 1769.2L668.3 1765.1L670.3 1766.8L672.3 1765.9L674.3 1761.3L676.3 1763.8L678.3 1762.9L680.4 1763.5L682.4 1764.7L684.4 1765.3L686.4 1764.5L688.4 1762.9L690.4 1759.3L692.4 1758.1L694.4 1757.7L696.5 1757.0L698.5 1756.7L700.5 1762.0L702.5 1759.1L704.5 1761.4L706.5 1764.1L708.5 1764.7L710.5 1767.2L712.6 1768.7L714.6 1770.0L716.6 1769.5L718.6 1768.9L720.6 1771.3L722.6 1771.9L724.6 1770.8L726.7 1771.9L728.7 1772.5L730.7 1771.8L732.7 1772.0L734.7 1774.2L736.7 1775.8L738.7 1775.3L740.7 1774.8L742.8 1775.2L744.8 1774.8L746.8 1773.4L748.8 1774.1L750.8 1772.6L752.8 1771.7L754.8 1771.7L756.8 1769.6L758.9 1768.4L760.9 1768.2L762.9 1768.5L764.9 1770.0L766.9 1767.5L768.9 1768.2L770.9 1769.0L773.0 1766.8L775.0 1769.0L777.0 1766.6L779.0 1768.2L781.0 1763.6L783.0 1766.6L785.0 1765.5L787.0 1763.3L789.1 1766.3L791.1 1765.7L793.1 1763.4L795.1 1763.5L797.1 1765.8L799.1 1765.5L801.1 1766.4L803.1 1767.2L805.2 1765.7L807.2 1766.5L809.2 1768.8L811.2 1769.5L813.2 1767.8L815.2 1769.2L817.2 1769.3L819.3 1767.5L821.3 1769.1L823.3 1769.0L825.3 1768.2L827.3 1768.5L829.3 1767.1L831.3 1765.8L833.3 1766.8L835.4 1765.2L837.4 1763.6L839.4 1765.8L841.4 1765.6L843.4 1763.5L845.4 1763.8L847.4 1763.4L849.4 1764.2L851.5 1764.6L853.5 1766.3L855.5 1765.8L857.5 1766.2L859.5 1767.2L861.5 1767.7L863.5 1767.7L865.6 1768.4L867.6 1769.0L869.6 1770.3L871.6 1771.0L873.6 1771.3L875.6 1771.2L877.6 1770.6L879.6 1770.0L881.7 1769.8L883.7 1771.2L885.7 1770.5L887.7 1770.6L889.7 1770.3L891.7 1770.7L893.7 1772.4L895.7 1772.4L897.8 1770.9L899.8 1771.3L901.8 1772.3L903.8 1772.8L905.8 1770.9L907.8 1771.4L909.8 1771.7L911.9 1771.5L913.9 1772.1L915.9 1769.7L917.9 1770.1L919.9 1768.8L921.9 1769.1L923.9 1769.7L925.9 1767.1L928.0 1768.1L930.0 1767.9L932.0 1766.2L934.0 1764.8L936.0 1764.6L938.0 1761.7L940.0 1763.6L942.0 1761.5L944.1 1763.4L946.1 1762.5L948.1 1765.8L950.1 1765.7L952.1 1765.4L954.1 1764.0L956.1 1763.6L958.2 1763.4L960.2 1763.4L962.2 1761.8L964.2 1761.6L966.2 1761.0L968.2 1762.1L970.2 1760.7L972.2 1761.9L974.3 1760.0L976.3 1761.8L978.3 1761.0L980.3 1760.5L982.3 1761.8L984.3 1760.4L986.3 1764.2L988.3 1763.1L990.4 1762.0L992.4 1763.6L994.4 1762.4L996.4 1761.2L998.4 1763.0L1000.4 1762.1L1002.4 1762.0L1004.5 1764.0L1006.5 1763.4L1008.5 1761.0L1010.5 1765.6L1012.5 1766.5L1014.5 1768.5L1016.5 1769.1L1018.5 1770.4L1020.6 1768.2L1022.6 1768.4L1024.6 1768.3L1026.6 1768.9L1028.6 1766.6L1030.6 1767.7L1032.6 1767.5L1034.6 1770.1L1036.7 1771.0L1038.7 1771.8L1040.7 1771.5L1042.7 1771.1L1042.7 1784.7Z" fill="#5a5fb4" />
<path d="M440.8 1784.7L440.8 1735.4L442.8 1735.3L444.8 1735.5L446.8 1735.1L448.9 1735.2L450.9 1735.6L452.9 1735.1L454.9 1735.0L456.9 1735.5L458.9 1735.0L460.9 1735.4L462.9 1735.6L465.0 1735.2L467.0 1735.5L469.0 1735.2L471.0 1735.3L473.0 1735.7L475.0 1735.3L477.0 1735.1L479.0 1735.4L481.1 1738.4L483.1 1741.6L485.1 1751.9L487.1 1758.3L489.1 1766.9L491.1 1769.2L493.1 1770.4L495.2 1772.7L497.2 1773.4L499.2 1775.1L501.2 1774.7L503.2 1775.7L505.2 1775.7L507.2 1775.8L509.2 1775.7L511.3 1774.7L513.3 1773.7L515.3 1773.7L517.3 1773.0L519.3 1773.6L521.3 1773.6L523.3 1774.4L525.3 1776.0L527.4 1775.4L529.4 1777.0L531.4 1778.4L533.4 1778.7L535.4 1779.5L537.4 1779.8L539.4 1780.7L541.5 1781.4L543.5 1781.1L545.5 1781.1L547.5 1780.4L549.5 1780.1L551.5 1780.1L553.5 1780.3L555.5 1779.7L557.6 1780.0L559.6 1780.1L561.6 1780.3L563.6 1780.1L565.6 1780.4L567.6 1780.5L569.6 1780.6L571.6 1780.3L573.7 1780.7L575.7 1780.1L577.7 1780.0L579.7 1779.8L581.7 1779.9L583.7 1780.5L585.7 1779.6L587.8 1779.8L589.8 1778.6L591.8 1778.8L593.8 1778.9L595.8 1777.9L597.8 1777.6L599.8 1775.9L601.8 1775.8L603.9 1775.0L605.9 1773.3L607.9 1771.3L609.9 1773.4L611.9 1774.3L613.9 1773.0L615.9 1774.8L617.9 1774.5L620.0 1775.4L622.0 1775.3L624.0 1775.8L626.0 1776.5L628.0 1776.8L630.0 1777.5L632.0 1777.6L634.1 1777.8L636.1 1777.6L638.1 1778.1L640.1 1778.5L642.1 1778.4L644.1 1778.4L646.1 1778.0L648.1 1777.5L650.2 1777.7L652.2 1778.0L654.2 1777.1L656.2 1776.2L658.2 1776.4L660.2 1777.0L662.2 1775.6L664.2 1771.2L666.3 1769.9L668.3 1768.3L670.3 1766.2L672.3 1765.0L674.3 1763.0L676.3 1761.1L678.3 1762.4L680.4 1763.8L682.4 1765.0L684.4 1764.1L686.4 1761.7L688.4 1760.6L690.4 1763.5L692.4 1760.5L694.4 1759.6L696.5 1761.3L698.5 1760.1L700.5 1763.5L702.5 1761.4L704.5 1763.7L706.5 1764.4L708.5 1766.2L710.5 1769.0L712.6 1767.9L714.6 1770.1L716.6 1771.0L718.6 1770.2L720.6 1771.2L722.6 1771.8L724.6 1772.3L726.7 1771.6L728.7 1772.9L730.7 1773.2L732.7 1774.0L734.7 1774.3L736.7 1775.6L738.7 1775.7L740.7 1775.9L742.8 1775.6L744.8 1775.3L746.8 1774.0L748.8 1773.3L750.8 1772.5L752.8 1772.6L754.8 1771.7L756.8 1771.0L758.9 1769.7L760.9 1771.0L762.9 1769.0L764.9 1768.3L766.9 1768.7L768.9 1770.5L770.9 1767.7L773.0 1767.8L775.0 1768.9L777.0 1769.4L779.0 1768.6L781.0 1768.5L783.0 1769.0L785.0 1766.5L787.0 1768.3L789.1 1768.5L791.1 1766.3L793.1 1768.5L795.1 1768.4L797.1 1768.1L799.1 1768.8L801.1 1768.0L803.1 1768.5L805.2 1767.7L807.2 1768.3L809.2 1770.8L811.2 1770.7L813.2 1768.7L815.2 1769.2L817.2 1771.2L819.3 1771.0L821.3 1770.0L823.3 1767.4L825.3 1767.1L827.3 1767.5L829.3 1766.3L831.3 1767.8L833.3 1766.5L835.4 1767.8L837.4 1767.9L839.4 1766.4L841.4 1766.1L843.4 1765.8L845.4 1765.2L847.4 1765.9L849.4 1764.8L851.5 1765.5L853.5 1768.5L855.5 1766.7L857.5 1768.9L859.5 1768.1L861.5 1770.2L863.5 1771.8L865.6 1771.1L867.6 1771.9L869.6 1771.8L871.6 1771.9L873.6 1772.7L875.6 1773.0L877.6 1774.6L879.6 1773.0L881.7 1773.0L883.7 1774.9L885.7 1774.9L887.7 1774.2L889.7 1773.6L891.7 1773.9L893.7 1774.1L895.7 1773.3L897.8 1775.0L899.8 1774.5L901.8 1774.9L903.8 1773.4L905.8 1773.7L907.8 1774.3L909.8 1773.1L911.9 1772.9L913.9 1774.0L915.9 1772.1L917.9 1772.3L919.9 1771.9L921.9 1770.4L923.9 1769.1L925.9 1768.2L928.0 1767.1L930.0 1768.6L932.0 1765.4L934.0 1766.3L936.0 1764.0L938.0 1764.5L940.0 1762.7L942.0 1766.1L944.1 1764.0L946.1 1765.8L948.1 1766.3L950.1 1768.0L952.1 1766.0L954.1 1764.5L956.1 1766.2L958.2 1765.4L960.2 1765.6L962.2 1765.4L964.2 1766.4L966.2 1765.8L968.2 1766.5L970.2 1764.7L972.2 1765.2L974.3 1765.0L976.3 1762.6L978.3 1764.5L980.3 1761.9L982.3 1764.2L984.3 1764.5L986.3 1765.1L988.3 1766.7L990.4 1768.1L992.4 1766.9L994.4 1765.6L996.4 1765.8L998.4 1765.6L1000.4 1767.1L1002.4 1765.8L1004.5 1765.6L1006.5 1766.7L1008.5 1766.7L1010.5 1766.8L1012.5 1768.5L1014.5 1772.3L1016.5 1772.8L1018.5 1772.4L1020.6 1771.5L1022.6 1769.2L1024.6 1770.5L1026.6 1768.1L1028.6 1767.5L1030.6 1768.0L1032.6 1769.5L1034.6 1771.0L1036.7 1771.9L1038.7 1770.6L1040.7 1771.2L1042.7 1771.4L1042.7 1784.7Z" fill="#2e3180" />
<line x1="440.8" y1="1592.2" x2="1042.7" y2="1592.2" stroke="#8e8f91" stroke-width="2.6" />
<line x1="440.8" y1="1656.6" x2="1042.7" y2="1656.6" stroke="#3d41a0" stroke-width="2.6" />
<line x1="440.8" y1="1721.2" x2="1042.7" y2="1721.2" stroke="#6f7072" stroke-width="2.4" />
<line x1="440.8" y1="1784.8" x2="1042.7" y2="1784.8" stroke="#dcdce8" stroke-width="2" />
<line x1="440.8" y1="1849.4" x2="1042.7" y2="1849.4" stroke="#e4e4e4" stroke-width="2.2" />
<text x="448.0" y="1543.4" font-size="12.5" fill="#000">[0 - 58]</text>
<text x="448.0" y="1607.0" font-size="12.5" fill="#000">[0 - 58]</text>
<text x="448.0" y="1672.6" font-size="12.5" fill="#000">[0 - 3.00]</text>
<text x="448.0" y="1737.3" font-size="12.5" fill="#000">[0 - 3.00]</text>
<path d="M667.8 1796V1811.6M672.8 1796V1811.6" stroke="#e8202a" stroke-width="1.8"/>
<path d="M713.2 1819.3 L698 1799" stroke="#231f20" stroke-width="3.2"/>
<path d="M695.5 1795.5 L704.8 1800.6 L697.4 1806 Z" fill="#231f20" stroke="#231f20" stroke-width="1.5" stroke-linejoin="round"/>
<text x="640.0" y="1843.6" font-size="15.8" fill="#000">FWAg4</text>
<rect x="440.8" y="1884.0" width="30.8" height="16.2" fill="#2a4a9c" />
<rect x="678.6" y="1884.0" width="364.1" height="16.2" fill="#2a4a9c" rx="2"/>
<rect x="769.0" y="1881.0" width="16.3" height="22.3" fill="#2a4a9c" />
<rect x="796.9" y="1881.0" width="11.5" height="22.3" fill="#2a4a9c" />
<rect x="827.7" y="1881.0" width="56.3" height="22.3" fill="#2a4a9c" />
<rect x="892.4" y="1881.0" width="10.0" height="22.3" fill="#2a4a9c" />
<path d="M747.5 1888.5 L751.0 1892 L747.5 1895.5" stroke="#fff" stroke-width="1.6" fill="none"/>
<path d="M798.0 1888.5 L801.5 1892 L798.0 1895.5" stroke="#fff" stroke-width="1.6" fill="none"/>
<path d="M889.0 1888.5 L892.5 1892 L889.0 1895.5" stroke="#fff" stroke-width="1.6" fill="none"/>
<path d="M938.5 1888.5 L942.0 1892 L938.5 1895.5" stroke="#fff" stroke-width="1.6" fill="none"/>
<path d="M841.5 1888 L845.5 1892 L841.5 1896" stroke="#fff" stroke-width="2.2" fill="none"/>
<text x="675.5" y="1930.3" font-size="17.3" fill="#000">AT4G25530</text>
<text x="1121.7" y="1429.6" font-size="28.2">Random control region (10x zoom out)</text>
<path d="M1117.8 1462 H1374.0 M1454.2 1462 H1711.4" stroke="#000" stroke-width="3"/>
<path d="M1107.8 1462 L1119.8 1457.5 L1119.8 1466.5Z M1721.4 1462 L1709.4 1457.5 L1709.4 1466.5Z" fill="#000"/>
<text x="1414.0" y="1469.2" font-size="19" text-anchor="middle" font-weight="bold" fill="#000">67 kb</text>
<g clip-path="url(#clipR)">
<text x="1148.4" y="1502.8" font-size="16.1" text-anchor="middle" fill="#000">13,420 kb</text>
<text x="1239.4" y="1502.8" font-size="16.1" text-anchor="middle" fill="#000">13,430 kb</text>
<text x="1330.4" y="1502.8" font-size="16.1" text-anchor="middle" fill="#000">13,440 kb</text>
<text x="1421.4" y="1502.8" font-size="16.1" text-anchor="middle" fill="#000">13,450 kb</text>
<text x="1512.4" y="1502.8" font-size="16.1" text-anchor="middle" fill="#000">13,460 kb</text>
<text x="1603.4" y="1502.8" font-size="16.1" text-anchor="middle" fill="#000">13,470 kb</text>
<text x="1694.4" y="1502.8" font-size="16.1" text-anchor="middle" fill="#000">13,480 kb</text>
</g>
<path d="M1150.2 1508.8V1524.6M1195.7 1508.8V1524.6M1241.2 1508.8V1524.6M1286.7 1508.8V1524.6M1332.2 1508.8V1524.6M1377.7 1508.8V1524.6M1423.2 1508.8V1524.6M1468.7 1508.8V1524.6M1514.2 1508.8V1524.6M1559.7 1508.8V1524.6M1605.2 1508.8V1524.6M1650.7 1508.8V1524.6M1696.2 1508.8V1524.6" stroke="#000" stroke-width="3"/>
<text x="1117.0" y="1541.9" font-size="12.5" fill="#000">[0 - 73]</text>
<text x="1117.0" y="1607.2" font-size="12.5" fill="#000">[0 - 73]</text>
<text x="1117.0" y="1671.7" font-size="12.5" fill="#000">[0 - 19]</text>
<text x="1117.0" y="1736.7" font-size="12.5" fill="#000">[0 - 19]</text>
<path d="M1109.8 1590.7L1109.8 1589.2L1110.8 1589.0L1111.8 1589.7L1112.9 1589.5L1113.9 1589.4L1114.9 1589.4L1115.9 1589.2L1116.9 1589.0L1117.9 1589.1L1119.0 1589.0L1120.0 1589.1L1121.0 1583.7L1122.0 1583.7L1123.0 1583.7L1124.1 1583.7L1125.1 1583.7L1126.1 1589.4L1127.1 1589.2L1128.1 1589.5L1129.1 1585.7L1130.2 1585.7L1131.2 1585.7L1132.2 1585.7L1133.2 1589.5L1134.2 1589.2L1135.2 1589.3L1136.3 1588.9L1137.3 1589.0L1138.3 1589.2L1139.3 1589.0L1140.3 1589.0L1141.4 1589.6L1142.4 1589.0L1143.4 1589.0L1144.4 1588.9L1145.4 1589.1L1146.4 1589.4L1147.5 1589.5L1148.5 1589.2L1149.5 1589.5L1150.5 1589.1L1151.5 1589.2L1152.6 1589.0L1153.6 1589.4L1154.6 1589.5L1155.6 1589.0L1156.6 1589.2L1157.6 1589.4L1158.7 1589.3L1159.7 1589.4L1160.7 1589.2L1161.7 1589.3L1162.7 1589.5L1163.7 1588.9L1164.8 1589.0L1165.8 1589.1L1166.8 1589.5L1167.8 1589.5L1168.8 1589.1L1169.9 1589.0L1170.9 1589.2L1171.9 1589.5L1172.9 1589.1L1173.9 1589.3L1174.9 1589.4L1176.0 1583.7L1177.0 1583.7L1178.0 1583.7L1179.0 1583.7L1180.0 1583.7L1181.1 1589.6L1182.1 1589.2L1183.1 1588.9L1184.1 1589.2L1185.1 1589.2L1186.1 1589.0L1187.2 1589.7L1188.2 1589.1L1189.2 1589.2L1190.2 1589.2L1191.2 1589.5L1192.2 1589.2L1193.3 1589.6L1194.3 1589.3L1195.3 1589.5L1196.3 1589.0L1197.3 1589.1L1198.4 1589.3L1199.4 1589.1L1200.4 1589.4L1201.4 1589.3L1202.4 1589.6L1203.4 1589.0L1204.5 1589.1L1205.5 1589.1L1206.5 1589.6L1207.5 1589.0L1208.5 1589.7L1209.6 1589.2L1210.6 1589.3L1211.6 1589.7L1212.6 1589.4L1213.6 1589.0L1214.6 1589.2L1215.7 1589.4L1216.7 1589.0L1217.7 1589.4L1218.7 1589.0L1219.7 1589.4L1220.7 1589.6L1221.8 1588.9L1222.8 1585.7L1223.8 1585.7L1224.8 1585.7L1225.8 1585.7L1226.9 1589.3L1227.9 1589.0L1228.9 1589.2L1229.9 1589.4L1230.9 1589.1L1231.9 1589.0L1233.0 1589.2L1234.0 1586.7L1235.0 1586.7L1236.0 1586.7L1237.0 1586.7L1238.1 1586.7L1239.1 1589.7L1240.1 1589.5L1241.1 1589.5L1242.1 1589.1L1243.1 1589.5L1244.2 1589.6L1245.2 1589.1L1246.2 1589.6L1247.2 1588.9L1248.2 1589.3L1249.2 1589.0L1250.3 1589.0L1251.3 1589.5L1252.3 1589.1L1253.3 1589.4L1254.3 1589.5L1255.4 1589.7L1256.4 1589.1L1257.4 1589.3L1258.4 1589.5L1259.4 1589.0L1260.4 1589.5L1261.5 1589.3L1262.5 1589.6L1263.5 1589.4L1264.5 1589.0L1265.5 1589.3L1266.6 1589.6L1267.6 1589.5L1268.6 1589.2L1269.6 1589.5L1270.6 1589.0L1271.6 1589.7L1272.7 1589.0L1273.7 1589.2L1274.7 1589.0L1275.7 1589.4L1276.7 1589.6L1277.7 1589.6L1278.8 1589.2L1279.8 1589.7L1280.8 1589.6L1281.8 1589.1L1282.8 1589.0L1283.9 1589.0L1284.9 1589.0L1285.9 1589.3L1286.9 1589.0L1287.9 1589.1L1288.9 1589.3L1290.0 1589.4L1291.0 1589.7L1292.0 1589.6L1293.0 1589.5L1294.0 1589.3L1295.1 1589.6L1296.1 1588.9L1297.1 1589.2L1298.1 1589.1L1299.1 1589.0L1300.1 1589.5L1301.2 1589.0L1302.2 1588.9L1303.2 1589.5L1304.2 1589.6L1305.2 1589.1L1306.2 1589.0L1307.3 1589.1L1308.3 1589.4L1309.3 1589.2L1310.3 1589.6L1311.3 1589.5L1312.4 1589.4L1313.4 1589.1L1314.4 1585.7L1315.4 1585.7L1316.4 1585.7L1317.4 1585.7L1318.5 1589.5L1319.5 1589.0L1320.5 1583.7L1321.5 1583.7L1322.5 1583.7L1323.6 1583.7L1324.6 1589.5L1325.6 1589.0L1326.6 1589.6L1327.6 1589.0L1328.6 1589.2L1329.7 1589.7L1330.7 1588.9L1331.7 1589.4L1332.7 1589.6L1333.7 1589.5L1334.7 1589.7L1335.8 1589.5L1336.8 1589.1L1337.8 1586.7L1338.8 1586.7L1339.8 1586.7L1340.9 1586.7L1341.9 1589.1L1342.9 1589.4L1343.9 1589.5L1344.9 1589.6L1345.9 1589.3L1347.0 1589.5L1348.0 1589.1L1349.0 1589.4L1350.0 1589.2L1351.0 1589.3L1352.1 1589.2L1353.1 1589.6L1354.1 1589.5L1355.1 1589.1L1356.1 1589.5L1357.1 1589.2L1358.2 1588.9L1359.2 1589.4L1360.2 1588.9L1361.2 1589.2L1362.2 1588.9L1363.2 1589.3L1364.3 1589.1L1365.3 1589.2L1366.3 1583.7L1367.3 1583.7L1368.3 1583.7L1369.4 1583.7L1370.4 1589.2L1371.4 1589.0L1372.4 1589.1L1373.4 1589.1L1374.4 1589.6L1375.5 1589.1L1376.5 1589.2L1377.5 1588.9L1378.5 1589.7L1379.5 1589.6L1380.6 1588.9L1381.6 1589.4L1382.6 1589.1L1383.6 1589.2L1384.6 1589.4L1385.6 1589.3L1386.7 1589.3L1387.7 1584.7L1388.7 1584.7L1389.7 1584.7L1390.7 1584.7L1391.7 1589.1L1392.8 1589.2L1393.8 1589.1L1394.8 1589.0L1395.8 1589.6L1396.8 1588.9L1397.9 1589.2L1398.9 1589.5L1399.9 1589.3L1400.9 1589.6L1401.9 1589.5L1402.9 1589.0L1404.0 1585.7L1405.0 1585.7L1406.0 1585.7L1407.0 1585.7L1408.0 1585.7L1409.1 1589.3L1410.1 1589.1L1411.1 1589.5L1412.1 1589.1L1413.1 1589.2L1414.1 1589.5L1415.2 1589.1L1416.2 1589.6L1417.2 1589.2L1418.2 1589.5L1419.2 1589.7L1420.2 1589.3L1421.3 1589.3L1422.3 1584.7L1423.3 1584.7L1424.3 1584.7L1425.3 1584.7L1426.4 1589.6L1427.4 1589.7L1428.4 1588.9L1429.4 1589.4L1430.4 1589.6L1431.4 1589.6L1432.5 1589.1L1433.5 1589.6L1434.5 1589.4L1435.5 1589.2L1436.5 1589.4L1437.6 1589.2L1438.6 1588.9L1439.6 1589.1L1440.6 1589.2L1441.6 1589.2L1442.6 1589.5L1443.7 1589.2L1444.7 1589.2L1445.7 1589.2L1446.7 1589.3L1447.7 1589.1L1448.7 1589.5L1449.8 1589.1L1450.8 1588.9L1451.8 1589.7L1452.8 1589.5L1453.8 1588.9L1454.9 1589.6L1455.9 1589.0L1456.9 1585.7L1457.9 1585.7L1458.9 1585.7L1459.9 1585.7L1461.0 1585.7L1462.0 1589.5L1463.0 1589.0L1464.0 1589.0L1465.0 1589.6L1466.1 1589.4L1467.1 1589.6L1468.1 1589.1L1469.1 1589.6L1470.1 1589.6L1471.1 1589.6L1472.2 1589.0L1473.2 1589.5L1474.2 1589.4L1475.2 1589.3L1476.2 1589.3L1477.2 1589.4L1478.3 1588.9L1479.3 1589.4L1480.3 1589.3L1481.3 1589.0L1482.3 1589.5L1483.4 1589.6L1484.4 1589.0L1485.4 1589.4L1486.4 1589.0L1487.4 1589.0L1488.4 1589.4L1489.5 1589.4L1490.5 1589.6L1491.5 1589.0L1492.5 1589.3L1493.5 1589.4L1494.6 1589.6L1495.6 1589.5L1496.6 1589.0L1497.6 1589.6L1498.6 1589.3L1499.6 1589.2L1500.7 1589.3L1501.7 1589.3L1502.7 1589.4L1503.7 1589.5L1504.7 1589.0L1505.7 1589.0L1506.8 1589.2L1507.8 1589.5L1508.8 1589.0L1509.8 1589.5L1510.8 1589.6L1511.9 1589.2L1512.9 1589.0L1513.9 1589.2L1514.9 1589.6L1515.9 1588.9L1516.9 1589.6L1518.0 1589.4L1519.0 1588.9L1520.0 1589.1L1521.0 1589.1L1522.0 1589.6L1523.1 1589.0L1524.1 1589.4L1525.1 1588.7L1526.1 1588.7L1527.1 1588.7L1528.1 1588.7L1529.2 1588.7L1530.2 1589.0L1531.2 1589.4L1532.2 1589.5L1533.2 1589.1L1534.2 1589.3L1535.3 1588.9L1536.3 1589.0L1537.3 1589.0L1538.3 1589.1L1539.3 1589.5L1540.4 1589.2L1541.4 1589.2L1542.4 1589.3L1543.4 1589.2L1544.4 1589.5L1545.4 1589.5L1546.5 1589.0L1547.5 1589.4L1548.5 1589.6L1549.5 1588.9L1550.5 1589.3L1551.6 1589.2L1552.6 1589.4L1553.6 1589.6L1554.6 1589.4L1555.6 1589.0L1556.6 1589.5L1557.7 1589.0L1558.7 1589.5L1559.7 1589.0L1560.7 1589.6L1561.7 1589.3L1562.7 1589.6L1563.8 1589.6L1564.8 1589.3L1565.8 1589.4L1566.8 1589.3L1567.8 1589.5L1568.9 1589.5L1569.9 1589.4L1570.9 1589.0L1571.9 1589.6L1572.9 1589.4L1573.9 1589.0L1575.0 1589.2L1576.0 1589.5L1577.0 1588.9L1578.0 1589.6L1579.0 1589.6L1580.1 1589.7L1581.1 1589.3L1582.1 1589.0L1583.1 1589.5L1584.1 1589.5L1585.1 1589.1L1586.2 1589.6L1587.2 1589.7L1588.2 1589.2L1589.2 1589.6L1590.2 1589.3L1591.2 1589.6L1592.3 1589.2L1593.3 1589.0L1594.3 1589.3L1595.3 1589.5L1596.3 1589.2L1597.4 1589.1L1598.4 1589.7L1599.4 1589.5L1600.4 1589.4L1601.4 1589.3L1602.4 1589.5L1603.5 1589.2L1604.5 1589.5L1605.5 1589.0L1606.5 1589.4L1607.5 1589.5L1608.6 1587.7L1609.6 1587.7L1610.6 1587.7L1611.6 1587.7L1612.6 1589.4L1613.6 1589.3L1614.7 1588.9L1615.7 1588.9L1616.7 1589.1L1617.7 1589.5L1618.7 1589.4L1619.7 1589.3L1620.8 1589.5L1621.8 1589.4L1622.8 1589.5L1623.8 1589.5L1624.8 1589.1L1625.9 1589.2L1626.9 1589.3L1627.9 1587.7L1628.9 1587.7L1629.9 1587.7L1630.9 1587.7L1632.0 1587.7L1633.0 1589.3L1634.0 1589.4L1635.0 1588.9L1636.0 1589.1L1637.1 1589.4L1638.1 1589.7L1639.1 1589.4L1640.1 1589.3L1641.1 1589.4L1642.1 1589.6L1643.2 1589.2L1644.2 1589.5L1645.2 1589.1L1646.2 1589.3L1647.2 1589.5L1648.2 1589.0L1649.3 1589.3L1650.3 1589.6L1651.3 1589.5L1652.3 1589.7L1653.3 1589.4L1654.4 1589.0L1655.4 1588.9L1656.4 1589.2L1657.4 1589.6L1658.4 1589.5L1659.4 1589.5L1660.5 1589.4L1661.5 1589.2L1662.5 1589.7L1663.5 1589.3L1664.5 1589.4L1665.6 1589.2L1666.6 1589.0L1667.6 1589.4L1668.6 1589.2L1669.6 1589.5L1670.6 1589.3L1671.7 1589.2L1672.7 1589.7L1673.7 1589.3L1674.7 1589.3L1675.7 1589.6L1676.7 1589.5L1677.8 1589.0L1678.8 1589.4L1679.8 1589.5L1680.8 1589.5L1681.8 1589.3L1682.9 1589.4L1683.9 1589.4L1684.9 1589.4L1685.9 1589.5L1686.9 1589.3L1687.9 1589.2L1689.0 1589.6L1690.0 1589.2L1691.0 1589.5L1692.0 1588.9L1693.0 1588.9L1694.1 1589.6L1695.1 1589.1L1696.1 1589.4L1697.1 1589.6L1698.1 1589.0L1699.1 1589.0L1700.2 1589.1L1701.2 1589.2L1702.2 1588.9L1703.2 1589.3L1704.2 1589.2L1705.2 1589.2L1706.3 1589.0L1707.3 1589.0L1708.3 1589.5L1709.3 1589.5L1710.3 1589.3L1711.4 1589.2L1712.4 1589.4L1713.4 1584.7L1714.4 1584.7L1715.4 1584.7L1716.4 1584.7L1717.5 1589.1L1718.5 1589.5L1719.5 1589.1L1719.5 1590.7Z" fill="#858688" />
<line x1="1109.8" y1="1589.7" x2="1719.5" y2="1589.7" stroke="#8e8f91" stroke-width="2.4" />
<line x1="1109.8" y1="1655.1" x2="1719.5" y2="1655.1" stroke="#3d41a0" stroke-width="2.8" />
<path d="M1109.8 1721.2L1109.8 1720.2L1110.8 1720.2L1111.8 1720.2L1112.9 1720.2L1113.9 1720.2L1114.9 1720.2L1115.9 1720.2L1116.9 1720.2L1117.9 1720.2L1119.0 1720.2L1120.0 1720.2L1121.0 1720.2L1122.0 1720.2L1123.0 1720.2L1124.1 1720.2L1125.1 1720.2L1126.1 1720.2L1127.1 1720.2L1128.1 1720.2L1129.1 1720.2L1130.2 1720.2L1131.2 1720.2L1132.2 1720.2L1133.2 1720.2L1134.2 1720.2L1135.2 1720.2L1136.3 1720.2L1137.3 1720.2L1138.3 1720.2L1139.3 1720.2L1140.3 1719.8L1141.4 1718.4L1142.4 1716.0L1143.4 1712.5L1144.4 1707.8L1145.4 1702.3L1146.4 1697.1L1147.5 1693.2L1148.5 1691.5L1149.5 1692.6L1150.5 1696.1L1151.5 1701.1L1152.6 1706.6L1153.6 1711.5L1154.6 1715.4L1155.6 1718.0L1156.6 1719.6L1157.6 1720.2L1158.7 1720.2L1159.7 1720.2L1160.7 1720.2L1161.7 1720.2L1162.7 1720.2L1163.7 1720.2L1164.8 1720.2L1165.8 1720.2L1166.8 1720.2L1167.8 1720.2L1168.8 1720.2L1169.9 1720.2L1170.9 1720.2L1171.9 1720.2L1172.9 1720.2L1173.9 1720.1L1174.9 1719.3L1176.0 1718.4L1177.0 1717.5L1178.0 1716.7L1179.0 1716.5L1180.0 1716.7L1181.1 1717.4L1182.1 1718.3L1183.1 1719.2L1184.1 1720.0L1185.1 1720.2L1186.1 1720.2L1187.2 1719.3L1188.2 1717.5L1189.2 1714.7L1190.2 1710.6L1191.2 1705.6L1192.2 1700.3L1193.3 1695.6L1194.3 1692.8L1195.3 1692.5L1196.3 1694.8L1197.3 1699.1L1198.4 1704.4L1199.4 1709.5L1200.4 1713.8L1201.4 1717.0L1202.4 1719.0L1203.4 1720.2L1204.5 1720.2L1205.5 1720.2L1206.5 1720.2L1207.5 1720.2L1208.5 1720.2L1209.6 1720.2L1210.6 1720.2L1211.6 1720.2L1212.6 1720.2L1213.6 1720.2L1214.6 1720.2L1215.7 1720.2L1216.7 1720.2L1217.7 1720.2L1218.7 1720.2L1219.7 1720.2L1220.7 1720.2L1221.8 1720.2L1222.8 1720.2L1223.8 1720.2L1224.8 1720.2L1225.8 1720.2L1226.9 1720.2L1227.9 1720.2L1228.9 1719.7L1229.9 1718.2L1230.9 1715.6L1231.9 1711.4L1233.0 1705.3L1234.0 1697.6L1235.0 1688.9L1236.0 1680.4L1237.0 1673.6L1238.1 1670.1L1239.1 1670.5L1240.1 1674.8L1241.1 1682.0L1242.1 1690.7L1243.1 1699.3L1244.2 1706.7L1245.2 1712.3L1246.2 1716.2L1247.2 1718.6L1248.2 1720.0L1249.2 1720.2L1250.3 1720.2L1251.3 1720.2L1252.3 1720.2L1253.3 1720.2L1254.3 1720.2L1255.4 1720.2L1256.4 1720.2L1257.4 1720.2L1258.4 1720.2L1259.4 1720.2L1260.4 1720.2L1261.5 1720.2L1262.5 1720.2L1263.5 1720.2L1264.5 1720.2L1265.5 1720.2L1266.6 1720.2L1267.6 1720.2L1268.6 1720.2L1269.6 1720.2L1270.6 1720.2L1271.6 1720.2L1272.7 1720.2L1273.7 1720.2L1274.7 1720.2L1275.7 1720.2L1276.7 1720.2L1277.7 1720.2L1278.8 1720.2L1279.8 1720.2L1280.8 1720.2L1281.8 1720.2L1282.8 1720.2L1283.9 1720.2L1284.9 1719.5L1285.9 1718.0L1286.9 1715.6L1287.9 1712.4L1288.9 1708.8L1290.0 1705.4L1291.0 1703.0L1292.0 1702.2L1293.0 1703.3L1294.0 1706.0L1295.1 1709.5L1296.1 1713.1L1297.1 1716.1L1298.1 1718.3L1299.1 1719.7L1300.1 1720.2L1301.2 1720.2L1302.2 1720.2L1303.2 1720.2L1304.2 1720.2L1305.2 1720.2L1306.2 1720.2L1307.3 1720.2L1308.3 1720.2L1309.3 1720.2L1310.3 1720.2L1311.3 1720.2L1312.4 1720.2L1313.4 1720.2L1314.4 1720.2L1315.4 1720.2L1316.4 1720.2L1317.4 1720.2L1318.5 1720.2L1319.5 1720.2L1320.5 1720.2L1321.5 1720.2L1322.5 1720.2L1323.6 1720.2L1324.6 1720.2L1325.6 1720.2L1326.6 1720.2L1327.6 1720.0L1328.6 1718.8L1329.7 1716.5L1330.7 1712.8L1331.7 1707.4L1332.7 1700.2L1333.7 1691.8L1334.7 1683.3L1335.8 1676.1L1336.8 1671.7L1337.8 1671.2L1338.8 1674.6L1339.8 1681.2L1340.9 1689.5L1341.9 1698.1L1342.9 1705.6L1343.9 1711.6L1344.9 1715.7L1345.9 1718.3L1347.0 1719.8L1348.0 1720.2L1349.0 1720.2L1350.0 1720.2L1351.0 1720.2L1352.1 1720.2L1353.1 1720.2L1354.1 1720.2L1355.1 1720.2L1356.1 1720.2L1357.1 1720.2L1358.2 1720.2L1359.2 1720.2L1360.2 1720.2L1361.2 1720.2L1362.2 1720.2L1363.2 1720.2L1364.3 1720.2L1365.3 1720.2L1366.3 1720.2L1367.3 1720.2L1368.3 1720.2L1369.4 1720.2L1370.4 1720.2L1371.4 1720.2L1372.4 1720.2L1373.4 1720.2L1374.4 1719.3L1375.5 1717.5L1376.5 1714.6L1377.5 1710.5L1378.5 1705.4L1379.5 1700.1L1380.6 1695.5L1381.6 1692.8L1382.6 1692.5L1383.6 1694.9L1384.6 1699.3L1385.6 1704.6L1386.7 1709.7L1387.7 1714.0L1388.7 1717.1L1389.7 1719.0L1390.7 1720.2L1391.7 1720.2L1392.8 1720.2L1393.8 1720.2L1394.8 1720.2L1395.8 1720.2L1396.8 1720.2L1397.9 1720.2L1398.9 1720.2L1399.9 1720.2L1400.9 1720.2L1401.9 1720.2L1402.9 1720.2L1404.0 1720.2L1405.0 1720.2L1406.0 1720.2L1407.0 1720.2L1408.0 1720.0L1409.1 1719.1L1410.1 1717.9L1411.1 1716.4L1412.1 1715.1L1413.1 1714.3L1414.1 1714.1L1415.2 1714.7L1416.2 1715.9L1417.2 1717.3L1418.2 1718.7L1419.2 1719.7L1420.2 1720.2L1421.3 1720.2L1422.3 1720.2L1423.3 1720.2L1424.3 1720.2L1425.3 1720.2L1426.4 1720.2L1427.4 1720.2L1428.4 1720.2L1429.4 1720.2L1430.4 1720.2L1431.4 1720.2L1432.5 1720.2L1433.5 1720.2L1434.5 1720.2L1435.5 1720.2L1436.5 1719.4L1437.6 1717.5L1438.6 1714.5L1439.6 1710.0L1440.6 1704.0L1441.6 1696.9L1442.6 1689.9L1443.7 1684.2L1444.7 1681.1L1445.7 1681.4L1446.7 1685.0L1447.7 1691.0L1448.7 1698.1L1449.8 1705.0L1450.8 1710.8L1451.8 1715.1L1452.8 1717.9L1453.8 1719.6L1454.9 1720.2L1455.9 1720.2L1456.9 1720.2L1457.9 1720.2L1458.9 1720.2L1459.9 1719.1L1461.0 1717.0L1462.0 1713.7L1463.0 1709.0L1464.0 1703.0L1465.0 1696.4L1466.1 1690.3L1467.1 1685.9L1468.1 1684.4L1469.1 1686.1L1470.1 1690.5L1471.1 1696.7L1472.2 1703.3L1473.2 1709.2L1474.2 1713.9L1475.2 1717.1L1476.2 1719.1L1477.2 1720.2L1478.3 1720.2L1479.3 1720.2L1480.3 1720.2L1481.3 1720.2L1482.3 1720.2L1483.4 1720.2L1484.4 1720.2L1485.4 1720.2L1486.4 1720.2L1487.4 1720.2L1488.4 1720.2L1489.5 1720.2L1490.5 1720.2L1491.5 1720.2L1492.5 1720.2L1493.5 1720.2L1494.6 1720.2L1495.6 1720.2L1496.6 1720.2L1497.6 1720.2L1498.6 1720.2L1499.6 1720.2L1500.7 1720.2L1501.7 1720.2L1502.7 1719.9L1503.7 1718.5L1504.7 1716.1L1505.7 1712.3L1506.8 1707.1L1507.8 1700.6L1508.8 1693.8L1509.8 1687.7L1510.8 1683.8L1511.9 1682.9L1512.9 1685.3L1513.9 1690.4L1514.9 1697.0L1515.9 1703.8L1516.9 1709.8L1518.0 1714.3L1519.0 1717.4L1520.0 1719.3L1521.0 1720.2L1522.0 1720.2L1523.1 1720.2L1524.1 1720.2L1525.1 1720.2L1526.1 1720.2L1527.1 1720.2L1528.1 1720.2L1529.2 1720.2L1530.2 1720.2L1531.2 1720.2L1532.2 1720.2L1533.2 1720.2L1534.2 1720.2L1535.3 1720.2L1536.3 1720.2L1537.3 1720.2L1538.3 1720.2L1539.3 1720.2L1540.4 1719.4L1541.4 1717.8L1542.4 1715.3L1543.4 1712.2L1544.4 1708.6L1545.4 1705.3L1546.5 1703.1L1547.5 1702.6L1548.5 1704.0L1549.5 1706.8L1550.5 1710.3L1551.6 1713.7L1552.6 1716.6L1553.6 1718.6L1554.6 1719.9L1555.6 1720.2L1556.6 1720.2L1557.7 1720.2L1558.7 1720.2L1559.7 1720.2L1560.7 1720.2L1561.7 1720.2L1562.7 1720.2L1563.8 1720.2L1564.8 1720.2L1565.8 1720.2L1566.8 1720.2L1567.8 1720.2L1568.9 1720.2L1569.9 1720.2L1570.9 1720.2L1571.9 1720.2L1572.9 1720.2L1573.9 1720.2L1575.0 1720.2L1576.0 1720.2L1577.0 1720.2L1578.0 1720.2L1579.0 1720.2L1580.1 1720.2L1581.1 1720.2L1582.1 1720.2L1583.1 1720.2L1584.1 1720.2L1585.1 1720.0L1586.2 1718.7L1587.2 1716.4L1588.2 1712.8L1589.2 1707.8L1590.2 1701.7L1591.2 1695.3L1592.3 1689.7L1593.3 1686.3L1594.3 1685.8L1595.3 1688.3L1596.3 1693.3L1597.4 1699.6L1598.4 1705.9L1599.4 1711.3L1600.4 1715.4L1601.4 1718.0L1602.4 1719.6L1603.5 1720.2L1604.5 1720.2L1605.5 1720.2L1606.5 1720.2L1607.5 1720.2L1608.6 1720.2L1609.6 1720.2L1610.6 1720.2L1611.6 1720.2L1612.6 1720.2L1613.6 1720.2L1614.7 1720.2L1615.7 1719.7L1616.7 1718.2L1617.7 1715.5L1618.7 1711.5L1619.7 1706.0L1620.8 1699.3L1621.8 1692.5L1622.8 1686.6L1623.8 1683.0L1624.8 1682.7L1625.9 1685.6L1626.9 1691.0L1627.9 1697.8L1628.9 1704.6L1629.9 1710.4L1630.9 1714.8L1632.0 1717.7L1633.0 1719.4L1634.0 1720.2L1635.0 1720.2L1636.0 1720.2L1637.1 1720.2L1638.1 1720.2L1639.1 1720.2L1640.1 1720.2L1641.1 1720.2L1642.1 1720.2L1643.2 1720.2L1644.2 1720.2L1645.2 1720.2L1646.2 1720.2L1647.2 1720.2L1648.2 1720.2L1649.3 1720.2L1650.3 1720.2L1651.3 1720.2L1652.3 1720.2L1653.3 1720.2L1654.4 1720.2L1655.4 1720.0L1656.4 1719.3L1657.4 1718.5L1658.4 1717.8L1659.4 1717.3L1660.5 1717.3L1661.5 1717.7L1662.5 1718.3L1663.5 1719.1L1664.5 1719.9L1665.6 1720.2L1666.6 1720.2L1667.6 1720.2L1668.6 1720.2L1669.6 1720.2L1670.6 1720.2L1671.7 1719.7L1672.7 1718.2L1673.7 1715.7L1674.7 1712.0L1675.7 1707.1L1676.7 1701.5L1677.8 1696.2L1678.8 1692.3L1679.8 1690.7L1680.8 1691.9L1681.8 1695.6L1682.9 1700.8L1683.9 1706.4L1684.9 1711.4L1685.9 1715.3L1686.9 1718.0L1687.9 1719.6L1689.0 1720.2L1690.0 1720.2L1691.0 1720.2L1692.0 1720.2L1693.0 1720.2L1694.1 1720.2L1695.1 1720.2L1696.1 1720.2L1697.1 1720.2L1698.1 1720.2L1699.1 1720.2L1700.2 1720.2L1701.2 1720.2L1702.2 1719.9L1703.2 1718.5L1704.2 1716.5L1705.2 1713.5L1706.3 1710.0L1707.3 1706.4L1708.3 1703.6L1709.3 1702.2L1710.3 1702.8L1711.4 1705.0L1712.4 1708.3L1713.4 1712.0L1714.4 1715.2L1715.4 1717.7L1716.4 1719.3L1717.5 1720.2L1718.5 1720.2L1719.5 1720.2L1719.5 1721.2Z" fill="#6f7173" />
<line x1="1109.8" y1="1720.3" x2="1719.5" y2="1720.3" stroke="#77787a" stroke-width="2.4" />
<path d="M1109.8 1783.7L1109.8 1783.4L1110.8 1783.3L1111.8 1783.0L1112.9 1782.7L1113.9 1782.4L1114.9 1782.2L1115.9 1782.1L1116.9 1782.2L1117.9 1782.5L1119.0 1782.8L1120.0 1783.1L1121.0 1783.3L1122.0 1783.4L1123.0 1783.4L1124.1 1783.4L1125.1 1783.4L1126.1 1783.4L1127.1 1783.4L1128.1 1783.4L1129.1 1783.4L1130.2 1783.4L1131.2 1783.4L1132.2 1783.4L1133.2 1783.4L1134.2 1783.4L1135.2 1783.4L1136.3 1783.4L1137.3 1783.4L1138.3 1783.4L1139.3 1783.2L1140.3 1782.7L1141.4 1781.6L1142.4 1779.8L1143.4 1777.1L1144.4 1773.5L1145.4 1769.4L1146.4 1765.4L1147.5 1762.4L1148.5 1761.1L1149.5 1762.0L1150.5 1764.6L1151.5 1768.5L1152.6 1772.6L1153.6 1776.4L1154.6 1779.3L1155.6 1781.3L1156.6 1782.5L1157.6 1783.2L1158.7 1783.4L1159.7 1783.4L1160.7 1783.4L1161.7 1783.4L1162.7 1783.4L1163.7 1783.4L1164.8 1783.4L1165.8 1783.4L1166.8 1783.4L1167.8 1783.4L1168.8 1783.4L1169.9 1783.4L1170.9 1783.4L1171.9 1783.4L1172.9 1783.3L1173.9 1782.9L1174.9 1782.4L1176.0 1781.8L1177.0 1781.2L1178.0 1780.7L1179.0 1780.5L1180.0 1780.7L1181.1 1781.1L1182.1 1781.7L1183.1 1782.3L1184.1 1782.9L1185.1 1783.2L1186.1 1783.4L1187.2 1783.4L1188.2 1783.1L1189.2 1782.5L1190.2 1781.4L1191.2 1779.7L1192.2 1777.6L1193.3 1775.1L1194.3 1772.9L1195.3 1771.4L1196.3 1771.1L1197.3 1772.0L1198.4 1773.8L1199.4 1776.2L1200.4 1778.6L1201.4 1780.5L1202.4 1781.9L1203.4 1782.8L1204.5 1783.3L1205.5 1783.4L1206.5 1783.4L1207.5 1783.4L1208.5 1783.4L1209.6 1783.4L1210.6 1783.4L1211.6 1783.4L1212.6 1783.4L1213.6 1783.4L1214.6 1783.4L1215.7 1783.4L1216.7 1783.4L1217.7 1783.4L1218.7 1783.4L1219.7 1783.4L1220.7 1783.4L1221.8 1783.4L1222.8 1783.4L1223.8 1783.4L1224.8 1783.4L1225.8 1783.4L1226.9 1783.4L1227.9 1783.3L1228.9 1782.8L1229.9 1781.7L1230.9 1779.9L1231.9 1776.8L1233.0 1772.4L1234.0 1766.7L1235.0 1760.1L1236.0 1753.6L1237.0 1748.3L1238.1 1745.6L1239.1 1745.9L1240.1 1749.2L1241.1 1754.8L1242.1 1761.5L1243.1 1768.0L1244.2 1773.5L1245.2 1777.6L1246.2 1780.3L1247.2 1782.0L1248.2 1782.9L1249.2 1783.4L1250.3 1783.4L1251.3 1783.4L1252.3 1783.4L1253.3 1783.4L1254.3 1783.4L1255.4 1783.4L1256.4 1783.4L1257.4 1783.4L1258.4 1783.4L1259.4 1783.4L1260.4 1783.4L1261.5 1783.4L1262.5 1783.4L1263.5 1783.4L1264.5 1783.4L1265.5 1783.4L1266.6 1783.4L1267.6 1783.4L1268.6 1783.4L1269.6 1783.4L1270.6 1783.4L1271.6 1783.4L1272.7 1783.4L1273.7 1783.4L1274.7 1783.4L1275.7 1783.4L1276.7 1783.4L1277.7 1783.4L1278.8 1783.4L1279.8 1783.4L1280.8 1783.4L1281.8 1783.4L1282.8 1783.4L1283.9 1783.3L1284.9 1782.7L1285.9 1781.9L1286.9 1780.5L1287.9 1778.6L1288.9 1776.5L1290.0 1774.5L1291.0 1773.1L1292.0 1772.6L1293.0 1773.3L1294.0 1774.9L1295.1 1776.9L1296.1 1779.0L1297.1 1780.8L1298.1 1782.1L1299.1 1782.9L1300.1 1783.3L1301.2 1783.4L1302.2 1783.4L1303.2 1783.4L1304.2 1783.4L1305.2 1783.4L1306.2 1783.4L1307.3 1783.4L1308.3 1783.4L1309.3 1783.4L1310.3 1783.4L1311.3 1783.4L1312.4 1783.4L1313.4 1783.4L1314.4 1783.4L1315.4 1783.4L1316.4 1783.4L1317.4 1783.4L1318.5 1783.3L1319.5 1783.1L1320.5 1782.7L1321.5 1782.4L1322.5 1782.2L1323.6 1782.1L1324.6 1782.2L1325.6 1782.4L1326.6 1782.7L1327.6 1783.0L1328.6 1782.8L1329.7 1781.7L1330.7 1779.9L1331.7 1777.1L1332.7 1773.2L1333.7 1768.5L1334.7 1763.5L1335.8 1759.1L1336.8 1756.5L1337.8 1756.2L1338.8 1758.2L1339.8 1762.2L1340.9 1767.1L1341.9 1772.0L1342.9 1776.2L1343.9 1779.3L1344.9 1781.3L1345.9 1782.5L1347.0 1783.2L1348.0 1783.4L1349.0 1783.4L1350.0 1783.4L1351.0 1783.4L1352.1 1783.4L1353.1 1783.4L1354.1 1783.4L1355.1 1783.4L1356.1 1783.4L1357.1 1783.4L1358.2 1783.4L1359.2 1783.4L1360.2 1783.4L1361.2 1783.4L1362.2 1783.4L1363.2 1783.4L1364.3 1783.4L1365.3 1783.4L1366.3 1783.4L1367.3 1783.4L1368.3 1783.4L1369.4 1783.4L1370.4 1783.4L1371.4 1783.4L1372.4 1783.4L1373.4 1783.4L1374.4 1783.1L1375.5 1782.3L1376.5 1781.0L1377.5 1779.0L1378.5 1776.1L1379.5 1772.7L1380.6 1769.2L1381.6 1766.3L1382.6 1764.8L1383.6 1765.1L1384.6 1767.0L1385.6 1770.1L1386.7 1773.7L1387.7 1777.0L1388.7 1779.6L1389.7 1781.5L1390.7 1782.6L1391.7 1783.2L1392.8 1783.4L1393.8 1783.4L1394.8 1783.4L1395.8 1783.4L1396.8 1783.4L1397.9 1783.4L1398.9 1783.4L1399.9 1783.4L1400.9 1783.4L1401.9 1783.4L1402.9 1783.4L1404.0 1783.4L1405.0 1783.4L1406.0 1783.4L1407.0 1783.2L1408.0 1782.7L1409.1 1781.9L1410.1 1780.8L1411.1 1779.7L1412.1 1778.6L1413.1 1777.9L1414.1 1777.8L1415.2 1778.3L1416.2 1779.2L1417.2 1780.4L1418.2 1781.5L1419.2 1782.4L1420.2 1783.0L1421.3 1783.4L1422.3 1783.4L1423.3 1783.4L1424.3 1783.3L1425.3 1783.0L1426.4 1782.6L1427.4 1782.0L1428.4 1781.5L1429.4 1781.1L1430.4 1780.9L1431.4 1781.1L1432.5 1781.5L1433.5 1782.0L1434.5 1782.5L1435.5 1783.0L1436.5 1782.9L1437.6 1782.0L1438.6 1780.5L1439.6 1778.1L1440.6 1774.7L1441.6 1770.7L1442.6 1766.6L1443.7 1763.2L1444.7 1761.3L1445.7 1761.5L1446.7 1763.6L1447.7 1767.2L1448.7 1771.4L1449.8 1775.3L1450.8 1778.5L1451.8 1780.8L1452.8 1782.2L1453.8 1783.0L1454.9 1783.4L1455.9 1783.4L1456.9 1783.4L1457.9 1783.4L1458.9 1783.3L1459.9 1782.7L1461.0 1781.7L1462.0 1780.0L1463.0 1777.4L1464.0 1774.1L1465.0 1770.2L1466.1 1766.6L1467.1 1764.0L1468.1 1763.1L1469.1 1764.1L1470.1 1766.8L1471.1 1770.4L1472.2 1774.2L1473.2 1777.5L1474.2 1780.1L1475.2 1781.7L1476.2 1782.8L1477.2 1783.3L1478.3 1783.4L1479.3 1783.4L1480.3 1783.4L1481.3 1783.4L1482.3 1783.4L1483.4 1783.4L1484.4 1783.4L1485.4 1783.4L1486.4 1783.3L1487.4 1783.1L1488.4 1783.0L1489.5 1782.9L1490.5 1782.9L1491.5 1783.0L1492.5 1783.2L1493.5 1783.3L1494.6 1783.4L1495.6 1783.4L1496.6 1783.4L1497.6 1783.4L1498.6 1783.4L1499.6 1783.4L1500.7 1783.4L1501.7 1783.4L1502.7 1783.3L1503.7 1782.8L1504.7 1781.9L1505.7 1780.4L1506.8 1778.1L1507.8 1775.2L1508.8 1772.0L1509.8 1769.1L1510.8 1767.2L1511.9 1766.7L1512.9 1767.9L1513.9 1770.4L1514.9 1773.5L1515.9 1776.6L1516.9 1779.3L1518.0 1781.2L1519.0 1782.4L1520.0 1783.1L1521.0 1783.4L1522.0 1783.4L1523.1 1783.4L1524.1 1783.4L1525.1 1783.4L1526.1 1783.4L1527.1 1783.4L1528.1 1783.4L1529.2 1783.4L1530.2 1783.4L1531.2 1783.4L1532.2 1783.4L1533.2 1783.4L1534.2 1783.4L1535.3 1783.4L1536.3 1783.4L1537.3 1783.4L1538.3 1783.4L1539.3 1783.0L1540.4 1782.2L1541.4 1780.9L1542.4 1779.0L1543.4 1776.5L1544.4 1773.7L1545.4 1771.2L1546.5 1769.5L1547.5 1769.1L1548.5 1770.1L1549.5 1772.3L1550.5 1775.0L1551.6 1777.7L1552.6 1780.0L1553.6 1781.6L1554.6 1782.6L1555.6 1783.2L1556.6 1783.4L1557.7 1783.4L1558.7 1783.4L1559.7 1783.4L1560.7 1783.4L1561.7 1783.4L1562.7 1783.4L1563.8 1783.4L1564.8 1783.4L1565.8 1783.4L1566.8 1783.4L1567.8 1783.4L1568.9 1783.4L1569.9 1783.4L1570.9 1783.4L1571.9 1783.4L1572.9 1783.4L1573.9 1783.4L1575.0 1783.4L1576.0 1783.4L1577.0 1783.4L1578.0 1783.4L1579.0 1783.4L1580.1 1783.4L1581.1 1783.4L1582.1 1783.4L1583.1 1783.4L1584.1 1783.4L1585.1 1783.3L1586.2 1782.8L1587.2 1781.9L1588.2 1780.5L1589.2 1778.3L1590.2 1775.6L1591.2 1772.6L1592.3 1769.9L1593.3 1768.2L1594.3 1768.0L1595.3 1769.2L1596.3 1771.6L1597.4 1774.6L1598.4 1777.5L1599.4 1779.8L1600.4 1781.5L1601.4 1782.6L1602.4 1783.2L1603.5 1783.4L1604.5 1783.4L1605.5 1783.4L1606.5 1783.4L1607.5 1783.4L1608.6 1783.4L1609.6 1783.3L1610.6 1783.0L1611.6 1782.7L1612.6 1782.4L1613.6 1782.2L1614.7 1782.1L1615.7 1782.2L1616.7 1781.9L1617.7 1780.3L1618.7 1777.7L1619.7 1774.0L1620.8 1769.6L1621.8 1764.9L1622.8 1760.9L1623.8 1758.4L1624.8 1758.1L1625.9 1760.2L1626.9 1763.9L1627.9 1768.5L1628.9 1773.1L1629.9 1776.9L1630.9 1779.8L1632.0 1781.6L1633.0 1782.7L1634.0 1783.3L1635.0 1783.4L1636.0 1783.4L1637.1 1783.4L1638.1 1783.4L1639.1 1783.4L1640.1 1783.4L1641.1 1783.4L1642.1 1783.4L1643.2 1783.4L1644.2 1783.4L1645.2 1783.4L1646.2 1783.4L1647.2 1783.4L1648.2 1783.4L1649.3 1783.4L1650.3 1783.4L1651.3 1783.4L1652.3 1783.4L1653.3 1783.4L1654.4 1783.4L1655.4 1783.4L1656.4 1783.4L1657.4 1783.4L1658.4 1783.4L1659.4 1783.4L1660.5 1783.4L1661.5 1783.4L1662.5 1783.4L1663.5 1783.4L1664.5 1783.4L1665.6 1783.4L1666.6 1783.4L1667.6 1783.4L1668.6 1783.4L1669.6 1783.4L1670.6 1783.4L1671.7 1783.1L1672.7 1782.4L1673.7 1781.1L1674.7 1779.2L1675.7 1776.7L1676.7 1773.7L1677.8 1770.9L1678.8 1768.7L1679.8 1767.9L1680.8 1768.5L1681.8 1770.6L1682.9 1773.4L1683.9 1776.4L1684.9 1779.0L1685.9 1780.9L1686.9 1782.2L1687.9 1783.0L1689.0 1783.4L1690.0 1783.4L1691.0 1783.4L1692.0 1783.4L1693.0 1783.4L1694.1 1783.4L1695.1 1783.4L1696.1 1783.4L1697.1 1783.4L1698.1 1783.4L1699.1 1783.4L1700.2 1783.4L1701.2 1783.3L1702.2 1782.8L1703.2 1781.9L1704.2 1780.5L1705.2 1778.6L1706.3 1776.2L1707.3 1773.9L1708.3 1772.0L1709.3 1771.1L1710.3 1771.4L1711.4 1772.9L1712.4 1775.1L1713.4 1777.5L1714.4 1779.7L1715.4 1781.4L1716.4 1782.5L1717.5 1783.1L1718.5 1783.4L1719.5 1783.4L1719.5 1783.7Z" fill="#2e3180" />
<line x1="1109.8" y1="1784.8" x2="1719.5" y2="1784.8" stroke="#dcdcdc" stroke-width="2" />
<line x1="1109.8" y1="1850.5" x2="1719.5" y2="1850.5" stroke="#e4e4e4" stroke-width="2.2" />
<rect x="1109.0" y="1883.7" width="15.8" height="22.2" fill="#2a4a9c" rx="4"/>
<rect x="1145.4" y="1883.7" width="38.8" height="22.2" fill="#2a4a9c" rx="4"/>
<rect x="1191.3" y="1883.7" width="48.3" height="22.2" fill="#2a4a9c" rx="4"/>
<rect x="1246.4" y="1883.7" width="47.5" height="22.2" fill="#2a4a9c" rx="4"/>
<rect x="1305.0" y="1883.7" width="33.6" height="22.2" fill="#2a4a9c" rx="4"/>
<rect x="1375.8" y="1883.7" width="29.7" height="22.2" fill="#2a4a9c" rx="4"/>
<rect x="1409.9" y="1883.7" width="52.1" height="22.2" fill="#2a4a9c" rx="4"/>
<rect x="1462.0" y="1883.7" width="52.8" height="22.2" fill="#2a4a9c" rx="4"/>
<rect x="1542.0" y="1883.7" width="42.0" height="22.2" fill="#2a4a9c" rx="4"/>
<rect x="1589.6" y="1883.7" width="129.9" height="22.2" fill="#2a4a9c" rx="4"/>
<path d="M1169.0 1889.5 L1173.5 1894.8 L1169.0 1900" stroke="#fff" stroke-width="2.4" fill="none"/>
<path d="M1569.5 1889.5 L1574.0 1894.8 L1569.5 1900" stroke="#fff" stroke-width="2.4" fill="none"/>
<text x="1162.0" y="1943.1" font-size="18.2" fill="#000">AT4G26620</text>
<text x="1377.0" y="1943.1" font-size="18.2" fill="#000">AT4G26690</text>
<text x="254.5" y="2043.9" font-size="25.6" text-anchor="middle">H3K4me3 ChIP-seq over</text>
<text x="254.5" y="2073.4" font-size="25.6" text-anchor="middle">gene bodies</text>
<defs><clipPath id="fc94"><rect x="94.3" y="2093.2" width="326.8" height="240.60000000000036"/></clipPath></defs>
<g clip-path="url(#fc94)" fill="none" stroke-linecap="round" stroke-linejoin="round">
<path d="M94.3 2286.0 C97.8 2286.5 107.8 2287.9 114.8 2289.0 C121.9 2290.1 130.3 2291.8 136.7 2292.5 C143.1 2293.2 148.6 2292.7 153.1 2293.1 C157.7 2293.4 160.2 2293.3 164.1 2294.7 C167.9 2296.1 173.3 2301.1 176.4 2301.3 C179.5 2301.4 180.7 2299.8 182.7 2295.8 C184.6 2291.8 186.4 2285.3 188.1 2277.2 C189.9 2269.1 191.6 2259.0 193.3 2247.1 C195.0 2235.3 196.4 2214.9 198.2 2206.1 C200.1 2197.4 202.5 2195.5 204.5 2194.6 C206.6 2193.7 208.6 2197.8 210.6 2200.6 C212.5 2203.5 213.7 2207.2 216.0 2211.6 C218.3 2215.9 221.5 2222.1 224.2 2226.6 C227.0 2231.2 229.7 2235.0 232.4 2238.9 C235.2 2242.8 237.4 2246.2 240.6 2249.9 C243.8 2253.5 247.0 2256.7 251.6 2260.8 C256.1 2264.9 262.1 2270.4 268.0 2274.5 C273.9 2278.6 280.7 2281.5 287.1 2285.4 C293.5 2289.3 299.9 2293.5 306.3 2297.7 C312.6 2301.9 320.8 2309.3 325.4 2310.6 C330.0 2311.8 331.1 2308.4 333.6 2305.1 C336.1 2301.8 338.2 2294.8 340.4 2290.9 C342.7 2286.9 344.8 2283.6 347.3 2281.3 C349.8 2279.0 352.7 2277.9 355.5 2277.2 C358.2 2276.5 359.1 2276.8 363.7 2277.2 C368.2 2277.6 373.3 2278.8 382.8 2279.4 C392.4 2279.9 414.7 2280.3 421.1 2280.5" stroke="#4b53a8" stroke-width="4.2" stroke-opacity="0.95"/>
<path d="M94.3 2284.0 C97.8 2284.7 107.8 2286.6 114.8 2288.1 C121.9 2289.6 130.3 2292.5 136.7 2293.1 C143.1 2293.6 149.0 2292.0 153.1 2291.4 C157.2 2290.9 158.6 2289.3 161.3 2289.8 C164.1 2290.2 167.0 2292.5 169.5 2294.2 C172.0 2295.8 174.3 2299.6 176.4 2299.9 C178.4 2300.2 180.0 2300.0 181.8 2295.8 C183.7 2291.6 185.5 2285.8 187.3 2274.5 C189.1 2263.2 191.1 2243.9 192.8 2228.0 C194.5 2212.0 195.7 2189.7 197.4 2178.8 C199.1 2167.8 200.9 2163.5 202.9 2162.4 C204.9 2161.2 207.0 2166.9 209.2 2171.9 C211.4 2176.9 213.5 2185.4 216.0 2192.4 C218.5 2199.5 221.5 2207.0 224.2 2214.3 C227.0 2221.6 229.7 2230.3 232.4 2236.2 C235.2 2242.1 237.4 2245.8 240.6 2249.9 C243.8 2254.0 247.0 2256.5 251.6 2260.8 C256.1 2265.1 262.1 2271.0 268.0 2275.8 C273.9 2280.6 280.7 2285.2 287.1 2289.5 C293.5 2293.8 299.9 2297.8 306.3 2301.8 C312.6 2305.8 320.8 2312.7 325.4 2313.6 C330.0 2314.5 331.1 2310.8 333.6 2307.3 C336.1 2303.7 338.2 2296.8 340.4 2292.2 C342.7 2287.7 344.8 2282.9 347.3 2279.9 C349.8 2277.0 352.7 2275.4 355.5 2274.5 C358.2 2273.6 359.1 2274.1 363.7 2274.5 C368.2 2274.8 373.3 2276.1 382.8 2276.7 C392.4 2277.2 414.7 2277.6 421.1 2277.7" stroke="#383b78" stroke-width="4.2" stroke-opacity="0.95"/>
<path d="M94.3 2284.0 C97.8 2284.7 107.8 2286.6 114.8 2288.1 C121.9 2289.6 130.3 2292.5 136.7 2293.1 C143.1 2293.6 149.0 2292.0 153.1 2291.4 C157.2 2290.9 158.6 2289.3 161.3 2289.8 C164.1 2290.2 167.0 2292.5 169.5 2294.2 C172.0 2295.8 174.3 2299.6 176.4 2299.9 C178.4 2300.2 180.0 2300.0 181.8 2295.8 C183.7 2291.6 185.5 2288.0 187.3 2274.5 C189.1 2260.9 191.1 2233.9 192.8 2214.3 C194.5 2194.7 195.8 2169.7 197.4 2156.9 C199.0 2144.0 200.6 2139.0 202.4 2137.2 C204.1 2135.4 205.5 2139.5 207.8 2145.9 C210.1 2152.4 213.3 2166.5 216.0 2176.0 C218.8 2185.6 221.5 2194.3 224.2 2203.4 C227.0 2212.5 229.7 2223.4 232.4 2230.7 C235.2 2238.0 237.4 2242.3 240.6 2247.1 C243.8 2251.9 247.0 2254.4 251.6 2259.4 C256.1 2264.4 262.1 2271.5 268.0 2277.2 C273.9 2282.9 280.7 2288.6 287.1 2293.6 C293.5 2298.6 299.9 2303.4 306.3 2307.3 C312.6 2311.2 320.8 2316.2 325.4 2316.8 C330.0 2317.5 331.1 2315.3 333.6 2311.4 C336.1 2307.5 338.2 2298.8 340.4 2293.6 C342.7 2288.4 344.8 2283.4 347.3 2279.9 C349.8 2276.5 352.7 2274.4 355.5 2273.1 C358.2 2271.8 359.1 2272.0 363.7 2272.3 C368.2 2272.5 373.3 2273.9 382.8 2274.5 C392.4 2275.1 414.7 2275.6 421.1 2275.8" stroke="#8c8d90" stroke-width="4.2" stroke-opacity="0.95"/>
<path d="M94.3 2284.0 C97.8 2284.7 107.8 2286.6 114.8 2288.1 C121.9 2289.6 130.3 2292.5 136.7 2293.1 C143.1 2293.6 149.0 2292.0 153.1 2291.4 C157.2 2290.9 158.6 2289.3 161.3 2289.8 C164.1 2290.2 167.0 2292.5 169.5 2294.2 C172.0 2295.8 174.3 2299.6 176.4 2299.9 C178.4 2300.2 180.0 2300.0 181.8 2295.8 C183.7 2291.6 185.5 2289.4 187.3 2274.5 C189.1 2259.5 191.1 2228.9 192.8 2206.1 C194.5 2183.3 195.8 2154.6 197.4 2137.7 C199.0 2120.9 200.7 2108.6 202.4 2104.9 C204.0 2101.3 205.7 2110.9 207.3 2115.9 C208.9 2120.9 210.5 2129.1 211.9 2135.0 C213.4 2140.9 214.0 2143.2 216.0 2151.4 C218.1 2159.6 221.5 2172.8 224.2 2184.2 C227.0 2195.6 229.7 2210.2 232.4 2219.8 C235.2 2229.3 237.4 2235.3 240.6 2241.7 C243.8 2248.0 247.0 2251.7 251.6 2258.1 C256.1 2264.4 262.1 2273.1 268.0 2279.9 C273.9 2286.8 280.7 2293.6 287.1 2299.1 C293.5 2304.5 299.9 2309.0 306.3 2312.7 C312.6 2316.5 320.8 2321.5 325.4 2321.5 C330.0 2321.5 331.1 2317.4 333.6 2312.7 C336.1 2308.1 338.2 2299.3 340.4 2293.6 C342.7 2287.9 344.8 2282.4 347.3 2278.6 C349.8 2274.7 352.7 2271.9 355.5 2270.4 C358.2 2268.9 359.1 2269.1 363.7 2269.5 C368.2 2270.0 373.3 2272.3 382.8 2273.1 C392.4 2273.9 414.7 2274.2 421.1 2274.5" stroke="#bdbec0" stroke-width="4.2" stroke-opacity="0.95"/>
</g>
<rect x="94.3" y="2093.2" width="326.8" height="240.60000000000036" fill="none" stroke="#1a1a1a" stroke-width="2.4"/>
<line x1="88.3" y1="2296.3" x2="94.3" y2="2296.3" stroke="#1a1a1a" stroke-width="2" />
<text x="86.3" y="2301.7" font-size="15" text-anchor="end" font-family="&quot;DejaVu Sans Condensed&quot;, &quot;DejaVu Sans&quot;, sans-serif" fill="#222" textLength="8.2" lengthAdjust="spacingAndGlyphs">1</text>
<line x1="88.3" y1="2238.9" x2="94.3" y2="2238.9" stroke="#1a1a1a" stroke-width="2" />
<text x="86.3" y="2244.3" font-size="15" text-anchor="end" font-family="&quot;DejaVu Sans Condensed&quot;, &quot;DejaVu Sans&quot;, sans-serif" fill="#222" textLength="8.2" lengthAdjust="spacingAndGlyphs">2</text>
<line x1="88.3" y1="2181.5" x2="94.3" y2="2181.5" stroke="#1a1a1a" stroke-width="2" />
<text x="86.3" y="2186.9" font-size="15" text-anchor="end" font-family="&quot;DejaVu Sans Condensed&quot;, &quot;DejaVu Sans&quot;, sans-serif" fill="#222" textLength="8.2" lengthAdjust="spacingAndGlyphs">3</text>
<line x1="88.3" y1="2124.1" x2="94.3" y2="2124.1" stroke="#1a1a1a" stroke-width="2" />
<text x="86.3" y="2129.5" font-size="15" text-anchor="end" font-family="&quot;DejaVu Sans Condensed&quot;, &quot;DejaVu Sans&quot;, sans-serif" fill="#222" textLength="8.2" lengthAdjust="spacingAndGlyphs">4</text>
<line x1="94.9" y1="2333.8" x2="94.9" y2="2340.3" stroke="#1a1a1a" stroke-width="2" />
<text x="94.9" y="2358.5" font-size="15" text-anchor="start" font-family="&quot;DejaVu Sans Condensed&quot;, &quot;DejaVu Sans&quot;, sans-serif" fill="#222" textLength="22" lengthAdjust="spacingAndGlyphs">-2.0</text>
<line x1="187.9" y1="2333.8" x2="187.9" y2="2340.3" stroke="#1a1a1a" stroke-width="2" />
<text x="187.9" y="2358.5" font-size="15" text-anchor="middle" font-family="&quot;DejaVu Sans Condensed&quot;, &quot;DejaVu Sans&quot;, sans-serif" fill="#222" textLength="24.6" lengthAdjust="spacingAndGlyphs">TSS</text>
<line x1="327.6" y1="2333.8" x2="327.6" y2="2340.3" stroke="#1a1a1a" stroke-width="2" />
<text x="327.6" y="2358.5" font-size="15" text-anchor="middle" font-family="&quot;DejaVu Sans Condensed&quot;, &quot;DejaVu Sans&quot;, sans-serif" fill="#222" textLength="24.6" lengthAdjust="spacingAndGlyphs">TES</text>
<line x1="421.5" y1="2333.8" x2="421.5" y2="2340.3" stroke="#1a1a1a" stroke-width="2" />
<text x="421.5" y="2358.5" font-size="15" text-anchor="end" font-family="&quot;DejaVu Sans Condensed&quot;, &quot;DejaVu Sans&quot;, sans-serif" fill="#222" textLength="34.7" lengthAdjust="spacingAndGlyphs">2.0Kb</text>
<text x="0" y="0" font-size="14.5" text-anchor="middle" font-family="&quot;DejaVu Sans&quot;, sans-serif" fill="#222" letter-spacing="1.4" transform="translate(71.5,2214) rotate(-90)">RPGC</text>
<line x1="306.8" y1="2111.5" x2="331.8" y2="2111.5" stroke="#383b78" stroke-width="4.5" />
<text x="338.3" y="2116.3" font-size="13.5" font-family="&quot;DejaVu Sans Condensed&quot;, &quot;DejaVu Sans&quot;, sans-serif" fill="#222" textLength="72.5" lengthAdjust="spacingAndGlyphs">StPRDM9g4L4</text>
<line x1="306.8" y1="2132.0" x2="331.8" y2="2132.0" stroke="#4b53a8" stroke-width="4.5" />
<text x="338.3" y="2136.8" font-size="13.5" font-family="&quot;DejaVu Sans Condensed&quot;, &quot;DejaVu Sans&quot;, sans-serif" fill="#222" textLength="72.5" lengthAdjust="spacingAndGlyphs">StPRDM9g4LC</text>
<line x1="306.8" y1="2152.5" x2="331.8" y2="2152.5" stroke="#8c8d90" stroke-width="4.5" />
<text x="338.3" y="2157.3" font-size="13.5" font-family="&quot;DejaVu Sans Condensed&quot;, &quot;DejaVu Sans&quot;, sans-serif" fill="#222" textLength="37" lengthAdjust="spacingAndGlyphs">rdr6_r1</text>
<line x1="306.8" y1="2173.0" x2="331.8" y2="2173.0" stroke="#bdbec0" stroke-width="4.5" />
<text x="338.3" y="2177.8" font-size="13.5" font-family="&quot;DejaVu Sans Condensed&quot;, &quot;DejaVu Sans&quot;, sans-serif" fill="#222" textLength="37" lengthAdjust="spacingAndGlyphs">rdr6_r1</text>
<text x="612.0" y="2043.9" font-size="25.6" text-anchor="middle">H3K4me3 ChIP-seq over</text>
<text x="612.0" y="2073.4" font-size="25.6" text-anchor="middle">endogenous peaks</text>
<defs><clipPath id="fc469"><rect x="469" y="2093.2" width="323.20000000000005" height="238.60000000000036"/></clipPath></defs>
<g clip-path="url(#fc469)" fill="none" stroke-linecap="round" stroke-linejoin="round">
<path d="M469.0 2312.4 C469.7 2312.4 471.7 2312.5 473.0 2312.7 C474.4 2312.8 475.7 2313.0 477.1 2313.2 C478.4 2313.4 479.8 2313.6 481.1 2313.7 C482.5 2313.9 483.8 2314.1 485.2 2314.2 C486.5 2314.4 487.9 2314.5 489.2 2314.7 C490.5 2314.8 491.9 2315.0 493.2 2315.1 C494.6 2315.3 495.9 2315.4 497.3 2315.6 C498.6 2315.7 500.0 2315.8 501.3 2315.9 C502.7 2316.1 504.0 2316.2 505.4 2316.3 C506.7 2316.4 508.1 2316.5 509.4 2316.6 C510.7 2316.8 512.1 2316.9 513.4 2317.0 C514.8 2317.1 516.1 2317.2 517.5 2317.2 C518.8 2317.3 520.2 2317.4 521.5 2317.5 C522.9 2317.6 524.2 2317.7 525.6 2317.7 C526.9 2317.8 528.3 2317.9 529.6 2318.0 C530.9 2318.0 532.3 2318.1 533.6 2318.1 C535.0 2318.2 536.3 2318.3 537.7 2318.3 C539.0 2318.4 540.4 2318.4 541.7 2318.4 C543.1 2318.5 544.4 2318.5 545.8 2318.5 C547.1 2318.6 548.5 2318.6 549.8 2318.6 C551.1 2318.7 552.5 2318.7 553.8 2318.7 C555.2 2318.7 556.5 2318.7 557.9 2318.7 C559.2 2318.7 560.6 2318.7 561.9 2318.7 C563.3 2318.7 564.6 2318.7 566.0 2318.7 C567.3 2318.6 568.7 2318.6 570.0 2318.5 C571.3 2318.5 572.7 2318.4 574.0 2318.3 C575.4 2318.3 576.7 2318.2 578.1 2318.0 C579.4 2317.9 580.8 2317.8 582.1 2317.6 C583.5 2317.4 584.8 2317.2 586.2 2316.8 C587.5 2316.5 588.9 2316.1 590.2 2315.5 C591.5 2314.9 592.9 2314.3 594.2 2313.2 C595.6 2312.2 596.9 2311.0 598.3 2309.3 C599.6 2307.5 601.0 2305.5 602.3 2302.7 C603.7 2300.0 605.0 2296.7 606.4 2292.8 C607.7 2288.8 609.1 2284.2 610.4 2279.1 C611.7 2274.0 613.1 2268.0 614.4 2262.1 C615.8 2256.3 617.1 2249.7 618.5 2243.8 C619.8 2238.0 621.2 2231.9 622.5 2227.1 C623.9 2222.3 625.2 2217.9 626.6 2215.1 C627.9 2212.4 629.3 2210.7 630.6 2210.6 C631.9 2210.4 633.3 2211.8 634.6 2214.3 C636.0 2216.8 637.3 2221.0 638.7 2225.6 C640.0 2230.2 641.4 2236.3 642.7 2242.1 C644.1 2247.8 645.4 2254.4 646.8 2260.3 C648.1 2266.3 649.5 2272.3 650.8 2277.5 C652.1 2282.7 653.5 2287.5 654.8 2291.6 C656.2 2295.6 657.5 2299.0 658.9 2301.9 C660.2 2304.7 661.6 2306.9 662.9 2308.7 C664.3 2310.6 665.6 2311.8 667.0 2312.9 C668.3 2314.0 669.7 2314.7 671.0 2315.4 C672.3 2316.0 673.7 2316.4 675.0 2316.7 C676.4 2317.1 677.7 2317.3 679.1 2317.5 C680.4 2317.7 681.8 2317.9 683.1 2318.0 C684.5 2318.1 685.8 2318.2 687.2 2318.3 C688.5 2318.4 689.9 2318.5 691.2 2318.5 C692.5 2318.6 693.9 2318.6 695.2 2318.7 C696.6 2318.7 697.9 2318.7 699.3 2318.7 C700.6 2318.7 702.0 2318.7 703.3 2318.7 C704.7 2318.7 706.0 2318.7 707.4 2318.7 C708.7 2318.7 710.1 2318.7 711.4 2318.6 C712.7 2318.6 714.1 2318.6 715.4 2318.6 C716.8 2318.5 718.1 2318.5 719.5 2318.4 C720.8 2318.4 722.2 2318.4 723.5 2318.3 C724.9 2318.3 726.2 2318.2 727.6 2318.2 C728.9 2318.1 730.3 2318.0 731.6 2318.0 C732.9 2317.9 734.3 2317.8 735.6 2317.8 C737.0 2317.7 738.3 2317.6 739.7 2317.5 C741.0 2317.5 742.4 2317.4 743.7 2317.3 C745.1 2317.2 746.4 2317.1 747.8 2317.0 C749.1 2316.9 750.5 2316.8 751.8 2316.7 C753.1 2316.6 754.5 2316.5 755.8 2316.3 C757.2 2316.2 758.5 2316.1 759.9 2316.0 C761.2 2315.9 762.6 2315.7 763.9 2315.6 C765.3 2315.5 766.6 2315.3 768.0 2315.2 C769.3 2315.0 770.7 2314.9 772.0 2314.7 C773.3 2314.6 774.7 2314.4 776.0 2314.3 C777.4 2314.1 778.7 2314.0 780.1 2313.8 C781.4 2313.6 782.8 2313.4 784.1 2313.3 C785.5 2313.1 786.8 2312.9 788.2 2312.7 C789.5 2312.6 791.5 2312.4 792.2 2312.4" stroke="#4b53a8" stroke-width="4.2" stroke-opacity="0.95"/>
<path d="M469.0 2311.1 C469.7 2311.2 471.7 2311.3 473.0 2311.5 C474.4 2311.6 475.7 2311.9 477.1 2312.1 C478.4 2312.3 479.8 2312.5 481.1 2312.7 C482.5 2312.9 483.8 2313.1 485.2 2313.3 C486.5 2313.5 487.9 2313.7 489.2 2313.9 C490.5 2314.1 491.9 2314.2 493.2 2314.4 C494.6 2314.6 495.9 2314.8 497.3 2314.9 C498.6 2315.1 500.0 2315.2 501.3 2315.4 C502.7 2315.5 504.0 2315.7 505.4 2315.8 C506.7 2316.0 508.1 2316.1 509.4 2316.2 C510.7 2316.4 512.1 2316.5 513.4 2316.6 C514.8 2316.7 516.1 2316.8 517.5 2317.0 C518.8 2317.1 520.2 2317.2 521.5 2317.3 C522.9 2317.4 524.2 2317.5 525.6 2317.6 C526.9 2317.6 528.3 2317.7 529.6 2317.8 C530.9 2317.9 532.3 2318.0 533.6 2318.0 C535.0 2318.1 536.3 2318.2 537.7 2318.2 C539.0 2318.3 540.4 2318.3 541.7 2318.4 C543.1 2318.4 544.4 2318.5 545.8 2318.5 C547.1 2318.5 548.5 2318.6 549.8 2318.6 C551.1 2318.6 552.5 2318.7 553.8 2318.7 C555.2 2318.7 556.5 2318.7 557.9 2318.7 C559.2 2318.7 560.6 2318.7 561.9 2318.7 C563.3 2318.7 564.6 2318.7 566.0 2318.7 C567.3 2318.6 568.7 2318.6 570.0 2318.5 C571.3 2318.5 572.7 2318.4 574.0 2318.3 C575.4 2318.2 576.7 2318.1 578.1 2318.0 C579.4 2317.9 580.8 2317.7 582.1 2317.5 C583.5 2317.3 584.8 2317.0 586.2 2316.6 C587.5 2316.2 588.9 2315.8 590.2 2315.0 C591.5 2314.3 592.9 2313.4 594.2 2312.1 C595.6 2310.7 596.9 2309.2 598.3 2306.9 C599.6 2304.6 601.0 2301.8 602.3 2298.2 C603.7 2294.5 605.0 2290.1 606.4 2284.8 C607.7 2279.5 609.1 2273.2 610.4 2266.3 C611.7 2259.3 613.1 2251.2 614.4 2243.2 C615.8 2235.2 617.1 2226.2 618.5 2218.2 C619.8 2210.2 621.2 2201.8 622.5 2195.2 C623.9 2188.6 625.2 2182.5 626.6 2178.7 C627.9 2174.9 629.3 2172.6 630.6 2172.4 C631.9 2172.2 633.3 2174.1 634.6 2177.6 C636.0 2181.1 637.3 2186.8 638.7 2193.2 C640.0 2199.6 641.4 2207.8 642.7 2215.8 C644.1 2223.7 645.4 2232.7 646.8 2240.8 C648.1 2248.9 649.5 2257.1 650.8 2264.1 C652.1 2271.2 653.5 2277.7 654.8 2283.2 C656.2 2288.7 657.5 2293.2 658.9 2297.1 C660.2 2300.9 661.6 2303.8 662.9 2306.2 C664.3 2308.6 665.6 2310.3 667.0 2311.7 C668.3 2313.1 669.7 2314.0 671.0 2314.8 C672.3 2315.6 673.7 2316.1 675.0 2316.5 C676.4 2316.9 677.7 2317.2 679.1 2317.4 C680.4 2317.7 681.8 2317.8 683.1 2318.0 C684.5 2318.1 685.8 2318.2 687.2 2318.3 C688.5 2318.4 689.9 2318.5 691.2 2318.5 C692.5 2318.6 693.9 2318.6 695.2 2318.7 C696.6 2318.7 697.9 2318.7 699.3 2318.7 C700.6 2318.7 702.0 2318.7 703.3 2318.7 C704.7 2318.7 706.0 2318.7 707.4 2318.7 C708.7 2318.7 710.1 2318.6 711.4 2318.6 C712.7 2318.6 714.1 2318.6 715.4 2318.5 C716.8 2318.5 718.1 2318.4 719.5 2318.4 C720.8 2318.3 722.2 2318.3 723.5 2318.2 C724.9 2318.2 726.2 2318.1 727.6 2318.0 C728.9 2318.0 730.3 2317.9 731.6 2317.8 C732.9 2317.8 734.3 2317.7 735.6 2317.6 C737.0 2317.5 738.3 2317.4 739.7 2317.3 C741.0 2317.2 742.4 2317.1 743.7 2317.0 C745.1 2316.9 746.4 2316.8 747.8 2316.6 C749.1 2316.5 750.5 2316.4 751.8 2316.3 C753.1 2316.1 754.5 2316.0 755.8 2315.9 C757.2 2315.7 758.5 2315.6 759.9 2315.4 C761.2 2315.3 762.6 2315.1 763.9 2315.0 C765.3 2314.8 766.6 2314.6 768.0 2314.5 C769.3 2314.3 770.7 2314.1 772.0 2313.9 C773.3 2313.8 774.7 2313.6 776.0 2313.4 C777.4 2313.2 778.7 2313.0 780.1 2312.8 C781.4 2312.6 782.8 2312.4 784.1 2312.2 C785.5 2312.0 786.8 2311.7 788.2 2311.5 C789.5 2311.3 791.5 2311.2 792.2 2311.1" stroke="#383b78" stroke-width="4.2" stroke-opacity="0.95"/>
<path d="M469.0 2309.8 C469.7 2309.9 471.7 2310.1 473.0 2310.3 C474.4 2310.5 475.7 2310.8 477.1 2311.0 C478.4 2311.3 479.8 2311.5 481.1 2311.7 C482.5 2312.0 483.8 2312.2 485.2 2312.4 C486.5 2312.7 487.9 2312.9 489.2 2313.1 C490.5 2313.3 491.9 2313.5 493.2 2313.7 C494.6 2313.9 495.9 2314.1 497.3 2314.3 C498.6 2314.5 500.0 2314.7 501.3 2314.8 C502.7 2315.0 504.0 2315.2 505.4 2315.3 C506.7 2315.5 508.1 2315.7 509.4 2315.8 C510.7 2316.0 512.1 2316.1 513.4 2316.3 C514.8 2316.4 516.1 2316.5 517.5 2316.7 C518.8 2316.8 520.2 2316.9 521.5 2317.0 C522.9 2317.1 524.2 2317.3 525.6 2317.4 C526.9 2317.5 528.3 2317.6 529.6 2317.7 C530.9 2317.7 532.3 2317.8 533.6 2317.9 C535.0 2318.0 536.3 2318.1 537.7 2318.1 C539.0 2318.2 540.4 2318.3 541.7 2318.3 C543.1 2318.4 544.4 2318.4 545.8 2318.5 C547.1 2318.5 548.5 2318.6 549.8 2318.6 C551.1 2318.6 552.5 2318.6 553.8 2318.7 C555.2 2318.7 556.5 2318.7 557.9 2318.7 C559.2 2318.7 560.6 2318.7 561.9 2318.7 C563.3 2318.7 564.6 2318.7 566.0 2318.7 C567.3 2318.6 568.7 2318.6 570.0 2318.5 C571.3 2318.5 572.7 2318.4 574.0 2318.3 C575.4 2318.2 576.7 2318.1 578.1 2318.0 C579.4 2317.8 580.8 2317.7 582.1 2317.4 C583.5 2317.2 584.8 2316.9 586.2 2316.4 C587.5 2315.9 588.9 2315.4 590.2 2314.5 C591.5 2313.6 592.9 2312.7 594.2 2311.0 C595.6 2309.4 596.9 2307.5 598.3 2304.7 C599.6 2301.8 601.0 2298.5 602.3 2293.9 C603.7 2289.4 605.0 2284.0 606.4 2277.4 C607.7 2270.8 609.1 2262.9 610.4 2254.3 C611.7 2245.7 613.1 2235.6 614.4 2225.6 C615.8 2215.6 617.1 2204.3 618.5 2194.3 C619.8 2184.3 621.2 2173.7 622.5 2165.4 C623.9 2157.2 625.2 2149.5 626.6 2144.7 C627.9 2140.0 629.3 2137.0 630.6 2136.8 C631.9 2136.5 633.3 2139.0 634.6 2143.3 C636.0 2147.7 637.3 2154.9 638.7 2162.9 C640.0 2170.9 641.4 2181.3 642.7 2191.2 C644.1 2201.2 645.4 2212.5 646.8 2222.5 C648.1 2232.6 649.5 2242.9 650.8 2251.7 C652.1 2260.5 653.5 2268.6 654.8 2275.4 C656.2 2282.2 657.5 2287.8 658.9 2292.6 C660.2 2297.3 661.6 2300.8 662.9 2303.8 C664.3 2306.8 665.6 2308.8 667.0 2310.5 C668.3 2312.3 669.7 2313.3 671.0 2314.3 C672.3 2315.2 673.7 2315.8 675.0 2316.3 C676.4 2316.8 677.7 2317.1 679.1 2317.3 C680.4 2317.6 681.8 2317.8 683.1 2317.9 C684.5 2318.1 685.8 2318.2 687.2 2318.3 C688.5 2318.4 689.9 2318.5 691.2 2318.5 C692.5 2318.6 693.9 2318.6 695.2 2318.7 C696.6 2318.7 697.9 2318.7 699.3 2318.7 C700.6 2318.7 702.0 2318.7 703.3 2318.7 C704.7 2318.7 706.0 2318.7 707.4 2318.7 C708.7 2318.7 710.1 2318.6 711.4 2318.6 C712.7 2318.6 714.1 2318.5 715.4 2318.5 C716.8 2318.4 718.1 2318.4 719.5 2318.3 C720.8 2318.3 722.2 2318.2 723.5 2318.2 C724.9 2318.1 726.2 2318.0 727.6 2317.9 C728.9 2317.9 730.3 2317.8 731.6 2317.7 C732.9 2317.6 734.3 2317.5 735.6 2317.4 C737.0 2317.3 738.3 2317.2 739.7 2317.1 C741.0 2316.9 742.4 2316.8 743.7 2316.7 C745.1 2316.6 746.4 2316.4 747.8 2316.3 C749.1 2316.2 750.5 2316.0 751.8 2315.9 C753.1 2315.7 754.5 2315.6 755.8 2315.4 C757.2 2315.2 758.5 2315.1 759.9 2314.9 C761.2 2314.7 762.6 2314.5 763.9 2314.3 C765.3 2314.2 766.6 2314.0 768.0 2313.8 C769.3 2313.6 770.7 2313.4 772.0 2313.1 C773.3 2312.9 774.7 2312.7 776.0 2312.5 C777.4 2312.3 778.7 2312.0 780.1 2311.8 C781.4 2311.6 782.8 2311.3 784.1 2311.1 C785.5 2310.8 786.8 2310.5 788.2 2310.3 C789.5 2310.1 791.5 2309.9 792.2 2309.8" stroke="#8c8d90" stroke-width="4.2" stroke-opacity="0.95"/>
<path d="M469.0 2309.3 C469.7 2309.4 471.7 2309.6 473.0 2309.8 C474.4 2310.0 475.7 2310.3 477.1 2310.6 C478.4 2310.8 479.8 2311.1 481.1 2311.3 C482.5 2311.6 483.8 2311.8 485.2 2312.1 C486.5 2312.3 487.9 2312.5 489.2 2312.8 C490.5 2313.0 491.9 2313.2 493.2 2313.4 C494.6 2313.6 495.9 2313.8 497.3 2314.0 C498.6 2314.2 500.0 2314.4 501.3 2314.6 C502.7 2314.8 504.0 2315.0 505.4 2315.1 C506.7 2315.3 508.1 2315.5 509.4 2315.7 C510.7 2315.8 512.1 2316.0 513.4 2316.1 C514.8 2316.3 516.1 2316.4 517.5 2316.5 C518.8 2316.7 520.2 2316.8 521.5 2316.9 C522.9 2317.1 524.2 2317.2 525.6 2317.3 C526.9 2317.4 528.3 2317.5 529.6 2317.6 C530.9 2317.7 532.3 2317.8 533.6 2317.9 C535.0 2317.9 536.3 2318.0 537.7 2318.1 C539.0 2318.2 540.4 2318.2 541.7 2318.3 C543.1 2318.4 544.4 2318.4 545.8 2318.5 C547.1 2318.5 548.5 2318.5 549.8 2318.6 C551.1 2318.6 552.5 2318.6 553.8 2318.7 C555.2 2318.7 556.5 2318.7 557.9 2318.7 C559.2 2318.7 560.6 2318.7 561.9 2318.7 C563.3 2318.7 564.6 2318.7 566.0 2318.7 C567.3 2318.6 568.7 2318.6 570.0 2318.5 C571.3 2318.5 572.7 2318.4 574.0 2318.3 C575.4 2318.2 576.7 2318.1 578.1 2318.0 C579.4 2317.8 580.8 2317.6 582.1 2317.4 C583.5 2317.1 584.8 2316.8 586.2 2316.3 C587.5 2315.7 588.9 2315.2 590.2 2314.1 C591.5 2313.1 592.9 2312.0 594.2 2310.1 C595.6 2308.2 596.9 2306.1 598.3 2302.8 C599.6 2299.5 601.0 2295.6 602.3 2290.3 C603.7 2285.0 605.0 2278.7 606.4 2271.0 C607.7 2263.3 609.1 2254.2 610.4 2244.1 C611.7 2234.0 613.1 2222.2 614.4 2210.5 C615.8 2198.8 617.1 2185.5 618.5 2173.8 C619.8 2162.0 621.2 2149.6 622.5 2139.9 C623.9 2130.2 625.2 2121.2 626.6 2115.6 C627.9 2110.0 629.3 2106.5 630.6 2106.2 C631.9 2106.0 633.3 2108.8 634.6 2113.9 C636.0 2119.1 637.3 2127.6 638.7 2137.0 C640.0 2146.4 641.4 2158.5 642.7 2170.2 C644.1 2181.9 645.4 2195.1 646.8 2206.9 C648.1 2218.7 649.5 2230.7 650.8 2241.0 C652.1 2251.3 653.5 2260.7 654.8 2268.7 C656.2 2276.6 657.5 2283.2 658.9 2288.7 C660.2 2294.2 661.6 2298.3 662.9 2301.8 C664.3 2305.3 665.6 2307.5 667.0 2309.6 C668.3 2311.6 669.7 2312.8 671.0 2313.9 C672.3 2314.9 673.7 2315.5 675.0 2316.1 C676.4 2316.7 677.7 2317.0 679.1 2317.3 C680.4 2317.6 681.8 2317.7 683.1 2317.9 C684.5 2318.1 685.8 2318.2 687.2 2318.3 C688.5 2318.4 689.9 2318.5 691.2 2318.5 C692.5 2318.6 693.9 2318.6 695.2 2318.7 C696.6 2318.7 697.9 2318.7 699.3 2318.7 C700.6 2318.7 702.0 2318.7 703.3 2318.7 C704.7 2318.7 706.0 2318.7 707.4 2318.7 C708.7 2318.7 710.1 2318.6 711.4 2318.6 C712.7 2318.6 714.1 2318.5 715.4 2318.5 C716.8 2318.4 718.1 2318.4 719.5 2318.3 C720.8 2318.3 722.2 2318.2 723.5 2318.1 C724.9 2318.1 726.2 2318.0 727.6 2317.9 C728.9 2317.8 730.3 2317.7 731.6 2317.6 C732.9 2317.5 734.3 2317.4 735.6 2317.3 C737.0 2317.2 738.3 2317.1 739.7 2317.0 C741.0 2316.8 742.4 2316.7 743.7 2316.6 C745.1 2316.4 746.4 2316.3 747.8 2316.2 C749.1 2316.0 750.5 2315.9 751.8 2315.7 C753.1 2315.5 754.5 2315.4 755.8 2315.2 C757.2 2315.0 758.5 2314.8 759.9 2314.7 C761.2 2314.5 762.6 2314.3 763.9 2314.1 C765.3 2313.9 766.6 2313.7 768.0 2313.5 C769.3 2313.3 770.7 2313.1 772.0 2312.8 C773.3 2312.6 774.7 2312.4 776.0 2312.1 C777.4 2311.9 778.7 2311.7 780.1 2311.4 C781.4 2311.2 782.8 2310.9 784.1 2310.7 C785.5 2310.4 786.8 2310.1 788.2 2309.9 C789.5 2309.6 791.5 2309.4 792.2 2309.3" stroke="#bdbec0" stroke-width="4.2" stroke-opacity="0.95"/>
</g>
<rect x="469" y="2093.2" width="323.20000000000005" height="238.60000000000036" fill="none" stroke="#1a1a1a" stroke-width="2.4"/>
<line x1="463.0" y1="2292.0" x2="469.0" y2="2292.0" stroke="#1a1a1a" stroke-width="2" />
<text x="461.0" y="2297.4" font-size="15" text-anchor="end" font-family="&quot;DejaVu Sans Condensed&quot;, &quot;DejaVu Sans&quot;, sans-serif" fill="#222" textLength="8.2" lengthAdjust="spacingAndGlyphs">2</text>
<line x1="463.0" y1="2241.1" x2="469.0" y2="2241.1" stroke="#1a1a1a" stroke-width="2" />
<text x="461.0" y="2246.5" font-size="15" text-anchor="end" font-family="&quot;DejaVu Sans Condensed&quot;, &quot;DejaVu Sans&quot;, sans-serif" fill="#222" textLength="8.2" lengthAdjust="spacingAndGlyphs">4</text>
<line x1="463.0" y1="2190.2" x2="469.0" y2="2190.2" stroke="#1a1a1a" stroke-width="2" />
<text x="461.0" y="2195.6" font-size="15" text-anchor="end" font-family="&quot;DejaVu Sans Condensed&quot;, &quot;DejaVu Sans&quot;, sans-serif" fill="#222" textLength="8.2" lengthAdjust="spacingAndGlyphs">6</text>
<line x1="463.0" y1="2139.3" x2="469.0" y2="2139.3" stroke="#1a1a1a" stroke-width="2" />
<text x="461.0" y="2144.7" font-size="15" text-anchor="end" font-family="&quot;DejaVu Sans Condensed&quot;, &quot;DejaVu Sans&quot;, sans-serif" fill="#222" textLength="8.2" lengthAdjust="spacingAndGlyphs">8</text>
<line x1="469.0" y1="2331.8" x2="469.0" y2="2338.3" stroke="#1a1a1a" stroke-width="2" />
<text x="469.0" y="2358.5" font-size="15" text-anchor="start" font-family="&quot;DejaVu Sans Condensed&quot;, &quot;DejaVu Sans&quot;, sans-serif" fill="#222" textLength="24" lengthAdjust="spacingAndGlyphs">-3.0</text>
<line x1="630.8" y1="2331.8" x2="630.8" y2="2338.3" stroke="#1a1a1a" stroke-width="2" />
<text x="630.8" y="2358.5" font-size="15" text-anchor="middle" font-family="&quot;DejaVu Sans Condensed&quot;, &quot;DejaVu Sans&quot;, sans-serif" fill="#222" textLength="37.8" lengthAdjust="spacingAndGlyphs">center</text>
<line x1="792.8" y1="2331.8" x2="792.8" y2="2338.3" stroke="#1a1a1a" stroke-width="2" />
<text x="792.8" y="2358.5" font-size="15" text-anchor="end" font-family="&quot;DejaVu Sans Condensed&quot;, &quot;DejaVu Sans&quot;, sans-serif" fill="#222" textLength="34.7" lengthAdjust="spacingAndGlyphs">3.0Kb</text>
<text x="0" y="0" font-size="14.5" text-anchor="middle" font-family="&quot;DejaVu Sans&quot;, sans-serif" fill="#222" letter-spacing="1.4" transform="translate(446.0,2214) rotate(-90)">RPGC</text>
<line x1="679.3" y1="2111.5" x2="704.3" y2="2111.5" stroke="#383b78" stroke-width="4.5" />
<text x="710.8" y="2116.3" font-size="13.5" font-family="&quot;DejaVu Sans Condensed&quot;, &quot;DejaVu Sans&quot;, sans-serif" fill="#222" textLength="72.5" lengthAdjust="spacingAndGlyphs">StPRDM9g4L4</text>
<line x1="679.3" y1="2132.0" x2="704.3" y2="2132.0" stroke="#4b53a8" stroke-width="4.5" />
<text x="710.8" y="2136.8" font-size="13.5" font-family="&quot;DejaVu Sans Condensed&quot;, &quot;DejaVu Sans&quot;, sans-serif" fill="#222" textLength="72.5" lengthAdjust="spacingAndGlyphs">StPRDM9g4LC</text>
<line x1="679.3" y1="2152.5" x2="704.3" y2="2152.5" stroke="#8c8d90" stroke-width="4.5" />
<text x="710.8" y="2157.3" font-size="13.5" font-family="&quot;DejaVu Sans Condensed&quot;, &quot;DejaVu Sans&quot;, sans-serif" fill="#222" textLength="37" lengthAdjust="spacingAndGlyphs">rdr6_r1</text>
<line x1="679.3" y1="2173.0" x2="704.3" y2="2173.0" stroke="#bdbec0" stroke-width="4.5" />
<text x="710.8" y="2177.8" font-size="13.5" font-family="&quot;DejaVu Sans Condensed&quot;, &quot;DejaVu Sans&quot;, sans-serif" fill="#222" textLength="37" lengthAdjust="spacingAndGlyphs">rdr6_r1</text>
<text x="1013.8" y="2043.9" font-size="25.6" text-anchor="middle">H3K4me3 ChIP-seq over</text>
<text x="1013.8" y="2073.4" font-size="25.6" text-anchor="middle">transcriptional start sites (TSSs)</text>
<defs><clipPath id="fc853"><rect x="853.5" y="2094" width="320.70000000000005" height="237.80000000000018"/></clipPath></defs>
<g clip-path="url(#fc853)" fill="none" stroke-linecap="round" stroke-linejoin="round">
<path d="M852.2 2299.5 C855.9 2299.9 865.9 2301.0 874.6 2302.0 C883.3 2302.9 895.3 2304.7 904.4 2305.2 C913.5 2305.8 921.4 2305.1 929.3 2305.2 C937.1 2305.3 945.0 2305.0 951.6 2305.7 C958.3 2306.4 963.7 2308.3 969.0 2309.5 C974.4 2310.6 979.8 2312.3 984.0 2312.7 C988.1 2313.1 991.2 2312.9 993.9 2311.9 C996.6 2311.0 997.8 2309.7 1000.1 2307.0 C1002.4 2304.3 1005.1 2301.4 1007.6 2295.8 C1010.1 2290.2 1012.3 2282.7 1015.0 2273.4 C1017.7 2264.1 1020.6 2250.0 1023.7 2239.8 C1026.8 2229.7 1031.0 2218.6 1033.7 2212.5 C1036.4 2206.4 1038.0 2205.2 1039.9 2203.3 C1041.8 2201.4 1043.5 2201.1 1045.4 2201.3 C1047.2 2201.5 1049.3 2202.4 1051.1 2204.3 C1052.9 2206.2 1054.2 2209.1 1056.1 2212.5 C1057.9 2215.9 1060.2 2220.6 1062.3 2224.9 C1064.3 2229.3 1065.4 2233.0 1068.5 2238.6 C1071.6 2244.2 1077.2 2253.1 1080.9 2258.5 C1084.6 2263.9 1088.0 2267.6 1090.9 2270.9 C1093.8 2274.2 1095.4 2276.1 1098.3 2278.4 C1101.2 2280.7 1104.1 2282.5 1108.3 2284.6 C1112.4 2286.7 1118.2 2288.5 1123.2 2290.8 C1128.2 2293.1 1133.1 2296.1 1138.1 2298.3 C1143.1 2300.5 1146.8 2302.3 1153.0 2304.0 C1159.2 2305.6 1171.7 2307.5 1175.4 2308.2" stroke="#4b53a8" stroke-width="4.2" stroke-opacity="0.95"/>
<path d="M852.2 2302.0 C855.9 2302.3 865.9 2303.0 874.6 2303.7 C883.3 2304.4 895.3 2306.0 904.4 2306.2 C913.5 2306.5 921.4 2305.7 929.3 2305.2 C937.1 2304.7 945.0 2302.9 951.6 2303.2 C958.3 2303.5 963.7 2305.6 969.0 2307.0 C974.4 2308.3 979.8 2310.6 984.0 2311.2 C988.1 2311.8 991.4 2311.8 993.9 2310.7 C996.4 2309.6 996.8 2307.8 998.9 2304.5 C1001.0 2301.2 1003.9 2297.2 1006.3 2290.8 C1008.8 2284.4 1011.3 2275.9 1013.8 2265.9 C1016.3 2256.0 1018.8 2242.7 1021.3 2231.1 C1023.7 2219.5 1026.2 2205.7 1028.7 2196.3 C1031.2 2187.0 1033.5 2180.1 1036.2 2175.2 C1038.9 2170.4 1042.0 2167.7 1044.9 2167.3 C1047.8 2166.8 1050.9 2169.5 1053.6 2172.7 C1056.3 2175.9 1058.5 2180.4 1061.0 2186.4 C1063.5 2192.4 1066.0 2200.9 1068.5 2208.8 C1071.0 2216.6 1073.5 2226.2 1075.9 2233.6 C1078.4 2241.1 1080.9 2247.9 1083.4 2253.5 C1085.9 2259.1 1088.4 2263.0 1090.9 2267.2 C1093.3 2271.3 1095.4 2275.3 1098.3 2278.4 C1101.2 2281.5 1104.1 2283.6 1108.3 2285.8 C1112.4 2288.1 1118.2 2289.8 1123.2 2292.1 C1128.2 2294.3 1133.1 2297.3 1138.1 2299.5 C1143.1 2301.7 1146.8 2303.6 1153.0 2305.2 C1159.2 2306.9 1171.7 2308.7 1175.4 2309.5" stroke="#383b78" stroke-width="4.2" stroke-opacity="0.95"/>
<path d="M852.2 2302.0 C855.9 2302.3 865.9 2303.0 874.6 2303.7 C883.3 2304.4 895.3 2306.0 904.4 2306.2 C913.5 2306.5 921.4 2305.7 929.3 2305.2 C937.1 2304.7 945.0 2302.9 951.6 2303.2 C958.3 2303.5 963.7 2305.6 969.0 2307.0 C974.4 2308.3 979.8 2310.6 984.0 2311.2 C988.1 2311.8 991.4 2311.9 993.9 2310.7 C996.4 2309.5 996.8 2307.7 998.9 2303.7 C1001.0 2299.8 1003.9 2294.6 1006.3 2287.1 C1008.8 2279.5 1011.3 2269.9 1013.8 2258.5 C1016.3 2247.1 1018.8 2232.0 1021.3 2218.7 C1023.7 2205.5 1026.2 2190.1 1028.7 2178.9 C1031.2 2167.8 1033.5 2158.2 1036.2 2151.6 C1038.9 2145.0 1042.0 2140.0 1044.9 2139.2 C1047.8 2138.3 1050.9 2142.5 1053.6 2146.6 C1056.3 2150.8 1058.5 2157.0 1061.0 2164.0 C1063.5 2171.1 1066.0 2179.8 1068.5 2188.9 C1071.0 2198.0 1073.5 2209.6 1075.9 2218.7 C1078.4 2227.8 1080.9 2235.9 1083.4 2243.6 C1085.9 2251.2 1088.4 2258.9 1090.9 2264.7 C1093.3 2270.5 1095.4 2274.6 1098.3 2278.4 C1101.2 2282.1 1104.1 2284.3 1108.3 2287.1 C1112.4 2289.9 1118.2 2292.7 1123.2 2295.3 C1128.2 2297.9 1133.1 2300.5 1138.1 2302.7 C1143.1 2305.0 1146.8 2306.8 1153.0 2308.7 C1159.2 2310.7 1171.7 2313.5 1175.4 2314.4" stroke="#8c8d90" stroke-width="4.2" stroke-opacity="0.95"/>
<path d="M852.2 2302.0 C855.9 2302.3 865.9 2303.0 874.6 2303.7 C883.3 2304.4 895.3 2306.0 904.4 2306.2 C913.5 2306.5 921.4 2305.7 929.3 2305.2 C937.1 2304.7 945.0 2302.9 951.6 2303.2 C958.3 2303.5 963.7 2305.6 969.0 2307.0 C974.4 2308.3 979.8 2310.6 984.0 2311.2 C988.1 2311.8 991.4 2312.1 993.9 2310.7 C996.4 2309.3 996.8 2307.3 998.9 2302.7 C1001.0 2298.2 1003.9 2292.4 1006.3 2283.3 C1008.8 2274.3 1011.3 2261.8 1013.8 2248.5 C1016.3 2235.3 1018.8 2218.7 1021.3 2203.8 C1023.7 2188.9 1026.2 2172.7 1028.7 2159.0 C1031.2 2145.4 1033.5 2130.7 1036.2 2121.8 C1038.9 2112.9 1042.0 2106.4 1044.9 2105.6 C1047.8 2104.8 1050.9 2111.2 1053.6 2116.8 C1056.3 2122.4 1058.5 2130.0 1061.0 2139.2 C1063.5 2148.3 1066.0 2159.9 1068.5 2171.5 C1071.0 2183.1 1073.5 2197.6 1075.9 2208.8 C1078.4 2220.0 1080.9 2229.5 1083.4 2238.6 C1085.9 2247.7 1088.4 2256.7 1090.9 2263.5 C1093.3 2270.2 1095.4 2274.5 1098.3 2278.9 C1101.2 2283.2 1104.1 2286.1 1108.3 2289.6 C1112.4 2293.0 1118.2 2296.4 1123.2 2299.5 C1128.2 2302.6 1133.1 2305.7 1138.1 2308.2 C1143.1 2310.7 1146.8 2312.4 1153.0 2314.4 C1159.2 2316.5 1171.7 2319.6 1175.4 2320.6" stroke="#bdbec0" stroke-width="4.2" stroke-opacity="0.95"/>
</g>
<rect x="853.5" y="2094" width="320.70000000000005" height="237.80000000000018" fill="none" stroke="#1a1a1a" stroke-width="2.4"/>
<line x1="847.5" y1="2309.5" x2="853.5" y2="2309.5" stroke="#1a1a1a" stroke-width="2" />
<text x="845.5" y="2314.9" font-size="15" text-anchor="end" font-family="&quot;DejaVu Sans Condensed&quot;, &quot;DejaVu Sans&quot;, sans-serif" fill="#222" textLength="8.2" lengthAdjust="spacingAndGlyphs">1</text>
<line x1="847.5" y1="2258.7" x2="853.5" y2="2258.7" stroke="#1a1a1a" stroke-width="2" />
<text x="845.5" y="2264.1" font-size="15" text-anchor="end" font-family="&quot;DejaVu Sans Condensed&quot;, &quot;DejaVu Sans&quot;, sans-serif" fill="#222" textLength="8.2" lengthAdjust="spacingAndGlyphs">2</text>
<line x1="847.5" y1="2207.9" x2="853.5" y2="2207.9" stroke="#1a1a1a" stroke-width="2" />
<text x="845.5" y="2213.3" font-size="15" text-anchor="end" font-family="&quot;DejaVu Sans Condensed&quot;, &quot;DejaVu Sans&quot;, sans-serif" fill="#222" textLength="8.2" lengthAdjust="spacingAndGlyphs">3</text>
<line x1="847.5" y1="2157.1" x2="853.5" y2="2157.1" stroke="#1a1a1a" stroke-width="2" />
<text x="845.5" y="2162.5" font-size="15" text-anchor="end" font-family="&quot;DejaVu Sans Condensed&quot;, &quot;DejaVu Sans&quot;, sans-serif" fill="#222" textLength="8.2" lengthAdjust="spacingAndGlyphs">4</text>
<line x1="847.5" y1="2106.3" x2="853.5" y2="2106.3" stroke="#1a1a1a" stroke-width="2" />
<text x="845.5" y="2111.7" font-size="15" text-anchor="end" font-family="&quot;DejaVu Sans Condensed&quot;, &quot;DejaVu Sans&quot;, sans-serif" fill="#222" textLength="8.2" lengthAdjust="spacingAndGlyphs">5</text>
<line x1="853.5" y1="2331.8" x2="853.5" y2="2338.3" stroke="#1a1a1a" stroke-width="2" />
<text x="853.5" y="2358.5" font-size="15" text-anchor="start" font-family="&quot;DejaVu Sans Condensed&quot;, &quot;DejaVu Sans&quot;, sans-serif" fill="#222" textLength="24" lengthAdjust="spacingAndGlyphs">-1.5</text>
<line x1="1013.8" y1="2331.8" x2="1013.8" y2="2338.3" stroke="#1a1a1a" stroke-width="2" />
<text x="1013.8" y="2358.5" font-size="15" text-anchor="middle" font-family="&quot;DejaVu Sans Condensed&quot;, &quot;DejaVu Sans&quot;, sans-serif" fill="#222" textLength="24.6" lengthAdjust="spacingAndGlyphs">TSS</text>
<line x1="1174.5" y1="2331.8" x2="1174.5" y2="2338.3" stroke="#1a1a1a" stroke-width="2" />
<text x="1174.5" y="2358.5" font-size="15" text-anchor="end" font-family="&quot;DejaVu Sans Condensed&quot;, &quot;DejaVu Sans&quot;, sans-serif" fill="#222" textLength="34.7" lengthAdjust="spacingAndGlyphs">1.5Kb</text>
<text x="0" y="0" font-size="14.5" text-anchor="middle" font-family="&quot;DejaVu Sans&quot;, sans-serif" fill="#222" letter-spacing="1.4" transform="translate(830.5,2214) rotate(-90)">RPGC</text>
<line x1="860.4" y1="2111.5" x2="885.4" y2="2111.5" stroke="#383b78" stroke-width="4.5" />
<text x="891.9" y="2116.3" font-size="13.5" font-family="&quot;DejaVu Sans Condensed&quot;, &quot;DejaVu Sans&quot;, sans-serif" fill="#222" textLength="72.5" lengthAdjust="spacingAndGlyphs">StPRDM9g4L4</text>
<line x1="860.4" y1="2132.0" x2="885.4" y2="2132.0" stroke="#4b53a8" stroke-width="4.5" />
<text x="891.9" y="2136.8" font-size="13.5" font-family="&quot;DejaVu Sans Condensed&quot;, &quot;DejaVu Sans&quot;, sans-serif" fill="#222" textLength="72.5" lengthAdjust="spacingAndGlyphs">StPRDM9g4LC</text>
<line x1="860.4" y1="2152.5" x2="885.4" y2="2152.5" stroke="#8c8d90" stroke-width="4.5" />
<text x="891.9" y="2157.3" font-size="13.5" font-family="&quot;DejaVu Sans Condensed&quot;, &quot;DejaVu Sans&quot;, sans-serif" fill="#222" textLength="37" lengthAdjust="spacingAndGlyphs">rdr6_r1</text>
<line x1="860.4" y1="2173.0" x2="885.4" y2="2173.0" stroke="#bdbec0" stroke-width="4.5" />
<text x="891.9" y="2177.8" font-size="13.5" font-family="&quot;DejaVu Sans Condensed&quot;, &quot;DejaVu Sans&quot;, sans-serif" fill="#222" textLength="37" lengthAdjust="spacingAndGlyphs">rdr6_r1</text>
<text x="1535.0" y="2015.6" font-size="25" text-anchor="middle">Recombination Frequency</text>
<text x="1534.5" y="2045.0" font-size="25" text-anchor="middle">over CTL3.9</text>
<line x1="1464" y1="2240.9" x2="1464" y2="2365" stroke="#3a3c40" stroke-width="3.4"/>
<rect x="1428.3" y="2273.3" width="71.4" height="43.7" fill="#c9cdd6" stroke="#3a3c40" stroke-width="3.4"/>
<line x1="1428.3" y1="2299.6" x2="1499.7" y2="2299.6" stroke="#3a3c40" stroke-width="5.5"/>
<line x1="1605.3" y1="2101.6" x2="1605.3" y2="2295.4" stroke="#3a3c40" stroke-width="3.4"/>
<rect x="1569.3" y="2203.6" width="71.7" height="72.7" fill="#d3a8c5" stroke="#3a3c40" stroke-width="3.4"/>
<line x1="1569.3" y1="2243" x2="1641" y2="2243" stroke="#3a3c40" stroke-width="5.5"/>
<circle cx="1437.3" cy="2166.4" r="5.2" fill="#6e8294"/>
<circle cx="1442.2" cy="2194.0" r="5.2" fill="#6e8294"/>
<circle cx="1470.6" cy="2240.0" r="5.2" fill="#6e8294"/>
<circle cx="1471.8" cy="2250.6" r="5.2" fill="#6e8294"/>
<circle cx="1458.5" cy="2255.1" r="5.2" fill="#6e8294"/>
<circle cx="1439.8" cy="2268.1" r="5.2" fill="#6e8294"/>
<circle cx="1462.5" cy="2275.4" r="5.2" fill="#6e8294"/>
<circle cx="1488.8" cy="2286.9" r="5.2" fill="#6e8294"/>
<circle cx="1452.5" cy="2285.4" r="5.2" fill="#6e8294"/>
<circle cx="1451.0" cy="2290.5" r="5.2" fill="#6e8294"/>
<circle cx="1437.3" cy="2294.1" r="5.2" fill="#6e8294"/>
<circle cx="1458.5" cy="2298.4" r="5.2" fill="#6e8294"/>
<circle cx="1467.6" cy="2300.5" r="5.2" fill="#6e8294"/>
<circle cx="1461.5" cy="2304.4" r="5.2" fill="#6e8294"/>
<circle cx="1449.4" cy="2309.6" r="5.2" fill="#6e8294"/>
<circle cx="1442.2" cy="2314.7" r="5.2" fill="#6e8294"/>
<circle cx="1455.5" cy="2313.5" r="5.2" fill="#6e8294"/>
<circle cx="1456.7" cy="2320.2" r="5.2" fill="#6e8294"/>
<circle cx="1482.7" cy="2308.7" r="5.2" fill="#6e8294"/>
<circle cx="1437.3" cy="2325.6" r="5.2" fill="#6e8294"/>
<circle cx="1464.0" cy="2333.8" r="5.2" fill="#6e8294"/>
<circle cx="1473.7" cy="2346.8" r="5.2" fill="#6e8294"/>
<circle cx="1454.9" cy="2365.0" r="5.2" fill="#6e8294"/>
<circle cx="1478.2" cy="2363.5" r="5.2" fill="#6e8294"/>
<circle cx="1587.2" cy="2101.0" r="5.2" fill="#8b1558"/>
<circle cx="1605.0" cy="2143.1" r="5.2" fill="#8b1558"/>
<circle cx="1602.3" cy="2152.8" r="5.2" fill="#8b1558"/>
<circle cx="1622.3" cy="2159.8" r="5.2" fill="#8b1558"/>
<circle cx="1608.0" cy="2204.6" r="5.2" fill="#8b1558"/>
<circle cx="1628.0" cy="2210.0" r="5.2" fill="#8b1558"/>
<circle cx="1611.7" cy="2233.9" r="5.2" fill="#8b1558"/>
<circle cx="1620.8" cy="2241.5" r="5.2" fill="#8b1558"/>
<circle cx="1608.6" cy="2244.5" r="5.2" fill="#8b1558"/>
<circle cx="1608.0" cy="2246.0" r="5.2" fill="#8b1558"/>
<circle cx="1577.2" cy="2268.1" r="5.2" fill="#8b1558"/>
<circle cx="1632.6" cy="2271.1" r="5.2" fill="#8b1558"/>
<circle cx="1622.6" cy="2275.4" r="5.2" fill="#8b1558"/>
<circle cx="1611.7" cy="2282.3" r="5.2" fill="#8b1558"/>
<circle cx="1580.5" cy="2290.8" r="5.2" fill="#8b1558"/>
<circle cx="1616.2" cy="2295.4" r="5.2" fill="#8b1558"/>
<rect x="1379.2" y="2063.5" width="311.2" height="327.8" fill="none" stroke="#000" stroke-width="3.8"/>
<line x1="1375.0" y1="2376.2" x2="1378.0" y2="2376.2" stroke="#555" stroke-width="1" />
<text x="1373.2" y="2379.8" font-size="10" text-anchor="end" fill="#4d4d4d">14</text>
<line x1="1375.0" y1="2324.6" x2="1378.0" y2="2324.6" stroke="#555" stroke-width="1" />
<text x="1373.2" y="2328.2" font-size="10" text-anchor="end" fill="#4d4d4d">16</text>
<line x1="1375.0" y1="2273.0" x2="1378.0" y2="2273.0" stroke="#555" stroke-width="1" />
<text x="1373.2" y="2276.6" font-size="10" text-anchor="end" fill="#4d4d4d">18</text>
<line x1="1375.0" y1="2221.4" x2="1378.0" y2="2221.4" stroke="#555" stroke-width="1" />
<text x="1373.2" y="2225.0" font-size="10" text-anchor="end" fill="#4d4d4d">20</text>
<line x1="1375.0" y1="2169.8" x2="1378.0" y2="2169.8" stroke="#555" stroke-width="1" />
<text x="1373.2" y="2173.4" font-size="10" text-anchor="end" fill="#4d4d4d">22</text>
<line x1="1375.0" y1="2118.2" x2="1378.0" y2="2118.2" stroke="#555" stroke-width="1" />
<text x="1373.2" y="2121.8" font-size="10" text-anchor="end" fill="#4d4d4d">24</text>
<line x1="1375.0" y1="2066.6" x2="1378.0" y2="2066.6" stroke="#555" stroke-width="1" />
<text x="1373.2" y="2070.2" font-size="10" text-anchor="end" fill="#4d4d4d">26</text>
<path d="M1464 2096.2 V2088.6 H1605.3 V2096.2" stroke="#000" stroke-width="1.9" fill="none"/>
<text x="1533.6" y="2084.7" font-size="12" text-anchor="middle" fill="#000">0.001</text>
<text x="0" y="0" font-size="18.9" text-anchor="middle" fill="#231f20" transform="translate(1337,2227) rotate(-90)">Recombination Frequency (cM)</text>
<line x1="1464.0" y1="2393.0" x2="1464.0" y2="2396.0" stroke="#555" stroke-width="1" />
<line x1="1605.3" y1="2393.0" x2="1605.3" y2="2396.0" stroke="#555" stroke-width="1" />
<text x="0" y="0" font-size="23.6" text-anchor="end" fill="#231f20" transform="translate(1468,2412) rotate(-45)">Control</text>
<text x="1606.5" y="2425.5" font-size="23.9" text-anchor="middle">SunTag:PRDM9</text>
<text x="1606.5" y="2454.5" font-size="23.9" text-anchor="middle">LRCen3</text>
</g>
</svg>
</body></html>
